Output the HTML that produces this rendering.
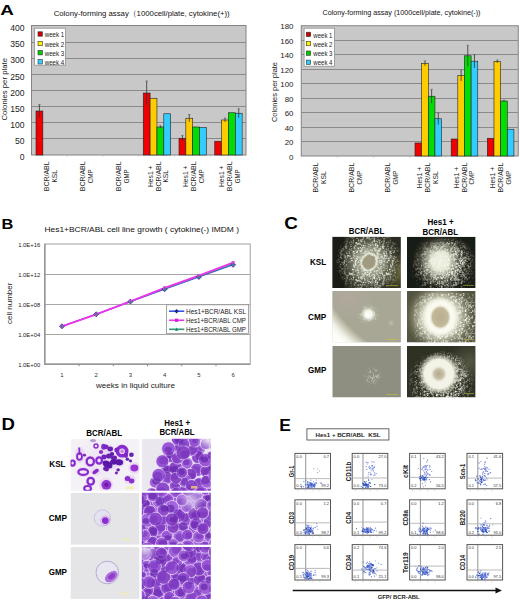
<!DOCTYPE html>
<html><head><meta charset="utf-8"><style>
html,body{margin:0;padding:0;background:#fff;}
svg{display:block;font-family:"Liberation Sans", sans-serif;}
</style></head><body>
<svg width="520" height="601" viewBox="0 0 520 601">
<rect width="520" height="601" fill="#fff"/>
<text x="0.30" y="15.48" font-size="15.5" text-anchor="start" fill="#000" font-weight="bold" textLength="13.6" lengthAdjust="spacingAndGlyphs">A</text>
<rect x="31.50" y="25.50" width="214.50" height="129.50" fill="#c8c8c8" stroke="#848484" stroke-width="1"/>
<line x1="31.50" y1="138.50" x2="246.00" y2="138.50" stroke="#8a8a8a" stroke-width="1"/>
<line x1="31.50" y1="122.50" x2="246.00" y2="122.50" stroke="#8a8a8a" stroke-width="1"/>
<line x1="31.50" y1="106.50" x2="246.00" y2="106.50" stroke="#8a8a8a" stroke-width="1"/>
<line x1="31.50" y1="90.50" x2="246.00" y2="90.50" stroke="#8a8a8a" stroke-width="1"/>
<line x1="31.50" y1="74.50" x2="246.00" y2="74.50" stroke="#8a8a8a" stroke-width="1"/>
<line x1="31.50" y1="58.50" x2="246.00" y2="58.50" stroke="#8a8a8a" stroke-width="1"/>
<line x1="31.50" y1="42.50" x2="246.00" y2="42.50" stroke="#8a8a8a" stroke-width="1"/>
<text x="24.50" y="160.00" font-size="8.6" text-anchor="end" fill="#222">0</text>
<text x="24.50" y="143.90" font-size="8.6" text-anchor="end" fill="#222">50</text>
<text x="24.50" y="127.80" font-size="8.6" text-anchor="end" fill="#222">100</text>
<text x="24.50" y="111.70" font-size="8.6" text-anchor="end" fill="#222">150</text>
<text x="24.50" y="95.60" font-size="8.6" text-anchor="end" fill="#222">200</text>
<text x="24.50" y="79.50" font-size="8.6" text-anchor="end" fill="#222">250</text>
<text x="24.50" y="63.40" font-size="8.6" text-anchor="end" fill="#222">300</text>
<text x="24.50" y="47.30" font-size="8.6" text-anchor="end" fill="#222">350</text>
<text x="24.50" y="31.20" font-size="8.6" text-anchor="end" fill="#222">400</text>
<rect x="36.00" y="111.01" width="6.85" height="43.99" fill="#f00000" stroke="#222" stroke-width="0.6"/>
<line x1="39.42" y1="117.45" x2="39.42" y2="104.57" stroke="#333" stroke-width="0.8"/>
<line x1="38.22" y1="104.57" x2="40.62" y2="104.57" stroke="#555" stroke-width="0.6"/>
<rect x="143.25" y="93.02" width="6.85" height="61.98" fill="#f00000" stroke="#222" stroke-width="0.6"/>
<line x1="146.68" y1="105.03" x2="146.68" y2="81.00" stroke="#333" stroke-width="0.8"/>
<line x1="145.48" y1="81.00" x2="147.88" y2="81.00" stroke="#555" stroke-width="0.6"/>
<rect x="150.10" y="98.26" width="6.85" height="56.74" fill="#ffcc00" stroke="#222" stroke-width="0.6"/>
<rect x="156.95" y="126.99" width="6.85" height="28.01" fill="#00dd00" stroke="#222" stroke-width="0.6"/>
<line x1="160.38" y1="128.27" x2="160.38" y2="125.70" stroke="#333" stroke-width="0.8"/>
<line x1="159.18" y1="125.70" x2="161.57" y2="125.70" stroke="#555" stroke-width="0.6"/>
<rect x="163.80" y="113.75" width="6.85" height="41.25" fill="#33ccff" stroke="#222" stroke-width="0.6"/>
<rect x="179.00" y="138.26" width="6.85" height="16.74" fill="#f00000" stroke="#222" stroke-width="0.6"/>
<line x1="182.43" y1="141.03" x2="182.43" y2="135.49" stroke="#333" stroke-width="0.8"/>
<line x1="181.23" y1="135.49" x2="183.62" y2="135.49" stroke="#555" stroke-width="0.6"/>
<rect x="185.85" y="118.26" width="6.85" height="36.74" fill="#ffcc00" stroke="#222" stroke-width="0.6"/>
<line x1="189.28" y1="122.03" x2="189.28" y2="114.49" stroke="#333" stroke-width="0.8"/>
<line x1="188.08" y1="114.49" x2="190.47" y2="114.49" stroke="#555" stroke-width="0.6"/>
<rect x="192.70" y="126.99" width="6.85" height="28.01" fill="#00dd00" stroke="#222" stroke-width="0.6"/>
<rect x="199.55" y="127.50" width="6.85" height="27.50" fill="#33ccff" stroke="#222" stroke-width="0.6"/>
<rect x="214.75" y="141.25" width="6.85" height="13.75" fill="#f00000" stroke="#222" stroke-width="0.6"/>
<rect x="221.60" y="120.00" width="6.85" height="35.00" fill="#ffcc00" stroke="#222" stroke-width="0.6"/>
<line x1="225.03" y1="122.00" x2="225.03" y2="118.00" stroke="#333" stroke-width="0.8"/>
<line x1="223.83" y1="118.00" x2="226.22" y2="118.00" stroke="#555" stroke-width="0.6"/>
<rect x="228.45" y="112.75" width="6.85" height="42.25" fill="#00dd00" stroke="#222" stroke-width="0.6"/>
<rect x="235.30" y="113.24" width="6.85" height="41.76" fill="#33ccff" stroke="#222" stroke-width="0.6"/>
<line x1="238.73" y1="117.71" x2="238.73" y2="108.76" stroke="#333" stroke-width="0.8"/>
<line x1="237.53" y1="108.76" x2="239.93" y2="108.76" stroke="#555" stroke-width="0.6"/>
<line x1="67.25" y1="155.00" x2="67.25" y2="156.50" stroke="#b0b0b0" stroke-width="0.8"/>
<line x1="103.00" y1="155.00" x2="103.00" y2="156.50" stroke="#b0b0b0" stroke-width="0.8"/>
<line x1="138.75" y1="155.00" x2="138.75" y2="156.50" stroke="#b0b0b0" stroke-width="0.8"/>
<line x1="174.50" y1="155.00" x2="174.50" y2="156.50" stroke="#b0b0b0" stroke-width="0.8"/>
<line x1="210.25" y1="155.00" x2="210.25" y2="156.50" stroke="#b0b0b0" stroke-width="0.8"/>
<rect x="34.60" y="28.20" width="30.80" height="37.00" fill="#ffffff" stroke="#909090" stroke-width="0.8"/>
<rect x="38.00" y="31.80" width="4.40" height="4.40" fill="#cc0000" stroke="#333" stroke-width="0.6"/>
<text x="44.70" y="37.12" font-size="7" text-anchor="start" fill="#222" textLength="19.5" lengthAdjust="spacingAndGlyphs">week 1</text>
<rect x="38.00" y="41.30" width="4.40" height="4.40" fill="#ffee00" stroke="#333" stroke-width="0.6"/>
<text x="44.70" y="46.62" font-size="7" text-anchor="start" fill="#222" textLength="19.5" lengthAdjust="spacingAndGlyphs">week 2</text>
<rect x="38.00" y="50.50" width="4.40" height="4.40" fill="#00cc00" stroke="#333" stroke-width="0.6"/>
<text x="44.70" y="55.82" font-size="7" text-anchor="start" fill="#222" textLength="19.5" lengthAdjust="spacingAndGlyphs">week 3</text>
<rect x="38.00" y="59.60" width="4.40" height="4.40" fill="#33ccff" stroke="#333" stroke-width="0.6"/>
<text x="44.70" y="64.92" font-size="7" text-anchor="start" fill="#222" textLength="19.5" lengthAdjust="spacingAndGlyphs">week 4</text>
<text x="53.70" y="15.78" font-size="8" text-anchor="start" fill="#111" textLength="176" lengthAdjust="spacingAndGlyphs">Colony-forming assay（1000cell/plate, cytokine(+))</text>
<text x="4.80" y="91.89" font-size="7.2" text-anchor="middle" fill="#222" textLength="62.5" lengthAdjust="spacingAndGlyphs" transform="rotate(-90 4.80 89.30)">Colonies per plate</text>
<text x="47.02" y="178.68" font-size="6.6" text-anchor="middle" fill="#222" textLength="29.9" lengthAdjust="spacingAndGlyphs" transform="rotate(-90 47.02 176.30)">BCR/ABL</text>
<text x="54.93" y="178.68" font-size="6.6" text-anchor="middle" fill="#222" textLength="12.6" lengthAdjust="spacingAndGlyphs" transform="rotate(-90 54.93 176.30)">KSL</text>
<text x="82.77" y="178.68" font-size="6.6" text-anchor="middle" fill="#222" textLength="29.9" lengthAdjust="spacingAndGlyphs" transform="rotate(-90 82.77 176.30)">BCR/ABL</text>
<text x="90.67" y="178.68" font-size="6.6" text-anchor="middle" fill="#222" textLength="14.0" lengthAdjust="spacingAndGlyphs" transform="rotate(-90 90.67 176.30)">CMP</text>
<text x="118.52" y="178.68" font-size="6.6" text-anchor="middle" fill="#222" textLength="29.9" lengthAdjust="spacingAndGlyphs" transform="rotate(-90 118.52 176.30)">BCR/ABL</text>
<text x="126.42" y="178.68" font-size="6.6" text-anchor="middle" fill="#222" textLength="14.0" lengthAdjust="spacingAndGlyphs" transform="rotate(-90 126.42 176.30)">GMP</text>
<text x="150.32" y="178.68" font-size="6.6" text-anchor="middle" fill="#222" textLength="21.4" lengthAdjust="spacingAndGlyphs" transform="rotate(-90 150.32 176.30)">Hes1 +</text>
<text x="158.22" y="178.68" font-size="6.6" text-anchor="middle" fill="#222" textLength="29.9" lengthAdjust="spacingAndGlyphs" transform="rotate(-90 158.22 176.30)">BCR/ABL</text>
<text x="166.12" y="178.68" font-size="6.6" text-anchor="middle" fill="#222" textLength="12.6" lengthAdjust="spacingAndGlyphs" transform="rotate(-90 166.12 176.30)">KSL</text>
<text x="186.07" y="178.68" font-size="6.6" text-anchor="middle" fill="#222" textLength="21.4" lengthAdjust="spacingAndGlyphs" transform="rotate(-90 186.07 176.30)">Hes1 +</text>
<text x="193.97" y="178.68" font-size="6.6" text-anchor="middle" fill="#222" textLength="29.9" lengthAdjust="spacingAndGlyphs" transform="rotate(-90 193.97 176.30)">BCR/ABL</text>
<text x="201.88" y="178.68" font-size="6.6" text-anchor="middle" fill="#222" textLength="14.0" lengthAdjust="spacingAndGlyphs" transform="rotate(-90 201.88 176.30)">CMP</text>
<text x="221.82" y="178.68" font-size="6.6" text-anchor="middle" fill="#222" textLength="21.4" lengthAdjust="spacingAndGlyphs" transform="rotate(-90 221.82 176.30)">Hes1 +</text>
<text x="229.72" y="178.68" font-size="6.6" text-anchor="middle" fill="#222" textLength="29.9" lengthAdjust="spacingAndGlyphs" transform="rotate(-90 229.72 176.30)">BCR/ABL</text>
<text x="237.62" y="178.68" font-size="6.6" text-anchor="middle" fill="#222" textLength="14.0" lengthAdjust="spacingAndGlyphs" transform="rotate(-90 237.62 176.30)">GMP</text>
<rect x="301.25" y="25.75" width="217.00" height="130.25" fill="#c8c8c8" stroke="#848484" stroke-width="1"/>
<line x1="301.25" y1="141.50" x2="518.25" y2="141.50" stroke="#8a8a8a" stroke-width="1"/>
<line x1="301.25" y1="127.50" x2="518.25" y2="127.50" stroke="#8a8a8a" stroke-width="1"/>
<line x1="301.25" y1="112.50" x2="518.25" y2="112.50" stroke="#8a8a8a" stroke-width="1"/>
<line x1="301.25" y1="98.50" x2="518.25" y2="98.50" stroke="#8a8a8a" stroke-width="1"/>
<line x1="301.25" y1="83.50" x2="518.25" y2="83.50" stroke="#8a8a8a" stroke-width="1"/>
<line x1="301.25" y1="69.50" x2="518.25" y2="69.50" stroke="#8a8a8a" stroke-width="1"/>
<line x1="301.25" y1="54.50" x2="518.25" y2="54.50" stroke="#8a8a8a" stroke-width="1"/>
<line x1="301.25" y1="40.50" x2="518.25" y2="40.50" stroke="#8a8a8a" stroke-width="1"/>
<text x="293.50" y="159.64" font-size="7.9" text-anchor="end" fill="#222">0</text>
<text x="293.50" y="145.17" font-size="7.9" text-anchor="end" fill="#222">20</text>
<text x="293.50" y="130.70" font-size="7.9" text-anchor="end" fill="#222">40</text>
<text x="293.50" y="116.23" font-size="7.9" text-anchor="end" fill="#222">60</text>
<text x="293.50" y="101.76" font-size="7.9" text-anchor="end" fill="#222">80</text>
<text x="293.50" y="87.28" font-size="7.9" text-anchor="end" fill="#222">100</text>
<text x="293.50" y="72.81" font-size="7.9" text-anchor="end" fill="#222">120</text>
<text x="293.50" y="58.34" font-size="7.9" text-anchor="end" fill="#222">140</text>
<text x="293.50" y="43.87" font-size="7.9" text-anchor="end" fill="#222">160</text>
<text x="293.50" y="29.39" font-size="7.9" text-anchor="end" fill="#222">180</text>
<rect x="415.00" y="142.97" width="6.65" height="13.03" fill="#f00000" stroke="#222" stroke-width="0.6"/>
<rect x="421.65" y="63.38" width="6.65" height="92.62" fill="#ffcc00" stroke="#222" stroke-width="0.6"/>
<line x1="424.97" y1="65.84" x2="424.97" y2="60.92" stroke="#333" stroke-width="0.8"/>
<line x1="423.77" y1="60.92" x2="426.17" y2="60.92" stroke="#555" stroke-width="0.6"/>
<rect x="428.30" y="96.23" width="6.65" height="59.77" fill="#00dd00" stroke="#222" stroke-width="0.6"/>
<line x1="431.62" y1="103.10" x2="431.62" y2="89.36" stroke="#333" stroke-width="0.8"/>
<line x1="430.43" y1="89.36" x2="432.82" y2="89.36" stroke="#555" stroke-width="0.6"/>
<rect x="434.95" y="118.73" width="6.65" height="37.27" fill="#33ccff" stroke="#222" stroke-width="0.6"/>
<line x1="438.27" y1="124.52" x2="438.27" y2="112.95" stroke="#333" stroke-width="0.8"/>
<line x1="437.07" y1="112.95" x2="439.47" y2="112.95" stroke="#555" stroke-width="0.6"/>
<rect x="451.17" y="139.00" width="6.65" height="17.00" fill="#f00000" stroke="#222" stroke-width="0.6"/>
<rect x="457.82" y="75.68" width="6.65" height="80.32" fill="#ffcc00" stroke="#222" stroke-width="0.6"/>
<line x1="461.14" y1="81.18" x2="461.14" y2="70.18" stroke="#333" stroke-width="0.8"/>
<line x1="459.94" y1="70.18" x2="462.34" y2="70.18" stroke="#555" stroke-width="0.6"/>
<rect x="464.47" y="55.78" width="6.65" height="100.22" fill="#00dd00" stroke="#222" stroke-width="0.6"/>
<line x1="467.79" y1="66.20" x2="467.79" y2="45.36" stroke="#333" stroke-width="0.8"/>
<line x1="466.59" y1="45.36" x2="468.99" y2="45.36" stroke="#555" stroke-width="0.6"/>
<rect x="471.12" y="61.21" width="6.65" height="94.79" fill="#33ccff" stroke="#222" stroke-width="0.6"/>
<line x1="474.44" y1="67.72" x2="474.44" y2="54.69" stroke="#333" stroke-width="0.8"/>
<line x1="473.24" y1="54.69" x2="475.64" y2="54.69" stroke="#555" stroke-width="0.6"/>
<rect x="487.33" y="138.27" width="6.65" height="17.73" fill="#f00000" stroke="#222" stroke-width="0.6"/>
<rect x="493.98" y="61.50" width="6.65" height="94.50" fill="#ffcc00" stroke="#222" stroke-width="0.6"/>
<line x1="497.31" y1="62.94" x2="497.31" y2="60.05" stroke="#333" stroke-width="0.8"/>
<line x1="496.11" y1="60.05" x2="498.51" y2="60.05" stroke="#555" stroke-width="0.6"/>
<rect x="500.63" y="101.01" width="6.65" height="54.99" fill="#00dd00" stroke="#222" stroke-width="0.6"/>
<line x1="503.96" y1="101.73" x2="503.96" y2="100.28" stroke="#333" stroke-width="0.8"/>
<line x1="502.76" y1="100.28" x2="505.16" y2="100.28" stroke="#555" stroke-width="0.6"/>
<rect x="507.28" y="129.23" width="6.65" height="26.77" fill="#33ccff" stroke="#222" stroke-width="0.6"/>
<line x1="337.42" y1="156.00" x2="337.42" y2="157.50" stroke="#b0b0b0" stroke-width="0.8"/>
<line x1="373.58" y1="156.00" x2="373.58" y2="157.50" stroke="#b0b0b0" stroke-width="0.8"/>
<line x1="409.75" y1="156.00" x2="409.75" y2="157.50" stroke="#b0b0b0" stroke-width="0.8"/>
<line x1="445.92" y1="156.00" x2="445.92" y2="157.50" stroke="#b0b0b0" stroke-width="0.8"/>
<line x1="482.08" y1="156.00" x2="482.08" y2="157.50" stroke="#b0b0b0" stroke-width="0.8"/>
<rect x="304.10" y="28.20" width="30.30" height="38.00" fill="#ffffff" stroke="#909090" stroke-width="0.8"/>
<rect x="306.30" y="32.20" width="4.40" height="4.40" fill="#cc0000" stroke="#333" stroke-width="0.6"/>
<text x="313.30" y="37.52" font-size="7" text-anchor="start" fill="#222" textLength="19.2" lengthAdjust="spacingAndGlyphs">week 1</text>
<rect x="306.30" y="41.40" width="4.40" height="4.40" fill="#ffee00" stroke="#333" stroke-width="0.6"/>
<text x="313.30" y="46.72" font-size="7" text-anchor="start" fill="#222" textLength="19.2" lengthAdjust="spacingAndGlyphs">week 2</text>
<rect x="306.30" y="51.00" width="4.40" height="4.40" fill="#00cc00" stroke="#333" stroke-width="0.6"/>
<text x="313.30" y="56.32" font-size="7" text-anchor="start" fill="#222" textLength="19.2" lengthAdjust="spacingAndGlyphs">week 3</text>
<rect x="306.30" y="60.10" width="4.40" height="4.40" fill="#33ccff" stroke="#333" stroke-width="0.6"/>
<text x="313.30" y="65.42" font-size="7" text-anchor="start" fill="#222" textLength="19.2" lengthAdjust="spacingAndGlyphs">week 4</text>
<text x="322.50" y="14.88" font-size="8" text-anchor="start" fill="#111" textLength="158" lengthAdjust="spacingAndGlyphs">Colony-forming assay (1000cell/plate, cytokine(-))</text>
<text x="274.60" y="94.59" font-size="7.2" text-anchor="middle" fill="#222" textLength="60" lengthAdjust="spacingAndGlyphs" transform="rotate(-90 274.60 92.00)">Colonies per plate</text>
<text x="315.58" y="179.98" font-size="6.6" text-anchor="middle" fill="#222" textLength="29.9" lengthAdjust="spacingAndGlyphs" transform="rotate(-90 315.58 177.60)">BCR/ABL</text>
<text x="323.48" y="179.98" font-size="6.6" text-anchor="middle" fill="#222" textLength="12.6" lengthAdjust="spacingAndGlyphs" transform="rotate(-90 323.48 177.60)">KSL</text>
<text x="351.75" y="179.98" font-size="6.6" text-anchor="middle" fill="#222" textLength="29.9" lengthAdjust="spacingAndGlyphs" transform="rotate(-90 351.75 177.60)">BCR/ABL</text>
<text x="359.65" y="179.98" font-size="6.6" text-anchor="middle" fill="#222" textLength="14.0" lengthAdjust="spacingAndGlyphs" transform="rotate(-90 359.65 177.60)">CMP</text>
<text x="387.92" y="179.98" font-size="6.6" text-anchor="middle" fill="#222" textLength="29.9" lengthAdjust="spacingAndGlyphs" transform="rotate(-90 387.92 177.60)">BCR/ABL</text>
<text x="395.82" y="179.98" font-size="6.6" text-anchor="middle" fill="#222" textLength="14.0" lengthAdjust="spacingAndGlyphs" transform="rotate(-90 395.82 177.60)">GMP</text>
<text x="420.13" y="179.98" font-size="6.6" text-anchor="middle" fill="#222" textLength="21.4" lengthAdjust="spacingAndGlyphs" transform="rotate(-90 420.13 177.60)">Hes1 +</text>
<text x="428.03" y="179.98" font-size="6.6" text-anchor="middle" fill="#222" textLength="29.9" lengthAdjust="spacingAndGlyphs" transform="rotate(-90 428.03 177.60)">BCR/ABL</text>
<text x="435.93" y="179.98" font-size="6.6" text-anchor="middle" fill="#222" textLength="12.6" lengthAdjust="spacingAndGlyphs" transform="rotate(-90 435.93 177.60)">KSL</text>
<text x="456.30" y="179.98" font-size="6.6" text-anchor="middle" fill="#222" textLength="21.4" lengthAdjust="spacingAndGlyphs" transform="rotate(-90 456.30 177.60)">Hes1 +</text>
<text x="464.20" y="179.98" font-size="6.6" text-anchor="middle" fill="#222" textLength="29.9" lengthAdjust="spacingAndGlyphs" transform="rotate(-90 464.20 177.60)">BCR/ABL</text>
<text x="472.10" y="179.98" font-size="6.6" text-anchor="middle" fill="#222" textLength="14.0" lengthAdjust="spacingAndGlyphs" transform="rotate(-90 472.10 177.60)">CMP</text>
<text x="492.47" y="179.98" font-size="6.6" text-anchor="middle" fill="#222" textLength="21.4" lengthAdjust="spacingAndGlyphs" transform="rotate(-90 492.47 177.60)">Hes1 +</text>
<text x="500.37" y="179.98" font-size="6.6" text-anchor="middle" fill="#222" textLength="29.9" lengthAdjust="spacingAndGlyphs" transform="rotate(-90 500.37 177.60)">BCR/ABL</text>
<text x="508.27" y="179.98" font-size="6.6" text-anchor="middle" fill="#222" textLength="14.0" lengthAdjust="spacingAndGlyphs" transform="rotate(-90 508.27 177.60)">GMP</text>
<text x="1.40" y="229.20" font-size="15" text-anchor="start" fill="#000" font-weight="bold" textLength="11.8" lengthAdjust="spacingAndGlyphs">B</text>
<text x="44.50" y="231.88" font-size="8" text-anchor="start" fill="#111" textLength="194.5" lengthAdjust="spacingAndGlyphs">Hes1+BCR/ABL cell line growth ( cytokine(-) IMDM )</text>
<rect x="44.85" y="244.00" width="205.35" height="120.20" fill="#ffffff" stroke="#a0a0a0" stroke-width="1"/>
<line x1="44.85" y1="334.50" x2="250.20" y2="334.50" stroke="#a8a8a8" stroke-width="1"/>
<line x1="44.85" y1="304.50" x2="250.20" y2="304.50" stroke="#a8a8a8" stroke-width="1"/>
<line x1="44.85" y1="274.50" x2="250.20" y2="274.50" stroke="#a8a8a8" stroke-width="1"/>
<line x1="44.85" y1="244.00" x2="44.85" y2="364.70" stroke="#8a8a8a" stroke-width="1.2"/>
<line x1="44.35" y1="364.20" x2="250.20" y2="364.20" stroke="#8a8a8a" stroke-width="1.2"/>
<text x="40.20" y="367.02" font-size="5.6" text-anchor="end" fill="#222" textLength="22" lengthAdjust="spacingAndGlyphs">1.0E+00</text>
<text x="40.20" y="336.97" font-size="5.6" text-anchor="end" fill="#222" textLength="22" lengthAdjust="spacingAndGlyphs">1.0E+04</text>
<text x="40.20" y="306.92" font-size="5.6" text-anchor="end" fill="#222" textLength="22" lengthAdjust="spacingAndGlyphs">1.0E+08</text>
<text x="40.20" y="276.87" font-size="5.6" text-anchor="end" fill="#222" textLength="22" lengthAdjust="spacingAndGlyphs">1.0E+12</text>
<text x="40.20" y="246.82" font-size="5.6" text-anchor="end" fill="#222" textLength="22" lengthAdjust="spacingAndGlyphs">1.0E+16</text>
<line x1="79.08" y1="364.20" x2="79.08" y2="366.20" stroke="#8a8a8a" stroke-width="1"/>
<line x1="113.30" y1="364.20" x2="113.30" y2="366.20" stroke="#8a8a8a" stroke-width="1"/>
<line x1="147.53" y1="364.20" x2="147.53" y2="366.20" stroke="#8a8a8a" stroke-width="1"/>
<line x1="181.75" y1="364.20" x2="181.75" y2="366.20" stroke="#8a8a8a" stroke-width="1"/>
<line x1="215.97" y1="364.20" x2="215.97" y2="366.20" stroke="#8a8a8a" stroke-width="1"/>
<text x="61.96" y="376.56" font-size="6.0" text-anchor="middle" fill="#333">1</text>
<text x="96.19" y="376.56" font-size="6.0" text-anchor="middle" fill="#333">2</text>
<text x="130.41" y="376.56" font-size="6.0" text-anchor="middle" fill="#333">3</text>
<text x="164.64" y="376.56" font-size="6.0" text-anchor="middle" fill="#333">4</text>
<text x="198.86" y="376.56" font-size="6.0" text-anchor="middle" fill="#333">5</text>
<text x="233.09" y="376.56" font-size="6.0" text-anchor="middle" fill="#333">6</text>
<text x="96.00" y="388.08" font-size="8" text-anchor="start" fill="#222" textLength="79" lengthAdjust="spacingAndGlyphs">weeks in liquid culture</text>
<text x="9.30" y="306.04" font-size="7.6" text-anchor="middle" fill="#222" textLength="41.3" lengthAdjust="spacingAndGlyphs" transform="rotate(-90 9.30 303.30)">cell number</text>
<polyline points="61.96,326.30 96.19,314.30 130.41,301.60 164.64,289.20 198.86,277.00 233.09,264.80" fill="none" stroke="#3355ee" stroke-width="1.2"/>
<polyline points="61.96,326.30 96.19,314.30 130.41,301.60 164.64,288.80 198.86,276.60 233.09,264.00" fill="none" stroke="#2f8a70" stroke-width="1.1"/>
<polyline points="61.96,326.30 96.19,314.30 130.41,301.40 164.64,287.90 198.86,275.60 233.09,262.60" fill="none" stroke="#ee33ee" stroke-width="1.8"/>
<path d="M61.96,323.80 L64.46,326.30 L61.96,328.80 L59.46,326.30Z" fill="#6a6ad8" stroke="#3a2a90" stroke-width="0.8"/>
<path d="M96.19,311.80 L98.69,314.30 L96.19,316.80 L93.69,314.30Z" fill="#6a6ad8" stroke="#3a2a90" stroke-width="0.8"/>
<path d="M130.41,299.10 L132.91,301.60 L130.41,304.10 L127.91,301.60Z" fill="#6a6ad8" stroke="#3a2a90" stroke-width="0.8"/>
<path d="M164.64,286.70 L167.14,289.20 L164.64,291.70 L162.14,289.20Z" fill="#6a6ad8" stroke="#3a2a90" stroke-width="0.8"/>
<path d="M198.86,274.50 L201.36,277.00 L198.86,279.50 L196.36,277.00Z" fill="#6a6ad8" stroke="#3a2a90" stroke-width="0.8"/>
<path d="M233.09,262.30 L235.59,264.80 L233.09,267.30 L230.59,264.80Z" fill="#6a6ad8" stroke="#3a2a90" stroke-width="0.8"/>
<rect x="60.46" y="324.80" width="3.00" height="3.00" fill="#dd44dd"/>
<rect x="94.69" y="312.80" width="3.00" height="3.00" fill="#dd44dd"/>
<rect x="128.91" y="299.90" width="3.00" height="3.00" fill="#dd44dd"/>
<rect x="163.14" y="286.40" width="3.00" height="3.00" fill="#dd44dd"/>
<rect x="197.36" y="274.10" width="3.00" height="3.00" fill="#dd44dd"/>
<rect x="231.59" y="261.10" width="3.00" height="3.00" fill="#dd44dd"/>
<path d="M60.46,327.50 L61.96,324.80 L63.46,327.50Z" fill="#2a8a6a"/>
<path d="M94.69,315.50 L96.19,312.80 L97.69,315.50Z" fill="#2a8a6a"/>
<path d="M128.91,302.80 L130.41,300.10 L131.91,302.80Z" fill="#2a8a6a"/>
<path d="M163.14,290.00 L164.64,287.30 L166.14,290.00Z" fill="#2a8a6a"/>
<path d="M197.36,277.80 L198.86,275.10 L200.36,277.80Z" fill="#2a8a6a"/>
<path d="M231.59,265.20 L233.09,262.50 L234.59,265.20Z" fill="#2a8a6a"/>
<rect x="166.50" y="304.80" width="82.00" height="28.80" fill="#ffffff" stroke="#909090" stroke-width="0.8"/>
<line x1="169.00" y1="311.20" x2="184.30" y2="311.20" stroke="#3355ee" stroke-width="1.6"/>
<path d="M176.60,309.00 L178.80,311.20 L176.60,313.40 L174.40,311.20Z" fill="#1a2a80"/>
<text x="186.00" y="313.58" font-size="6.6" text-anchor="start" fill="#222" textLength="60" lengthAdjust="spacingAndGlyphs">Hes1+BCR/ABL KSL</text>
<line x1="169.00" y1="320.25" x2="184.30" y2="320.25" stroke="#ee33ee" stroke-width="1.6"/>
<rect x="175.00" y="318.65" width="3.20" height="3.20" fill="#cc22cc"/>
<text x="186.00" y="322.63" font-size="6.6" text-anchor="start" fill="#222" textLength="60" lengthAdjust="spacingAndGlyphs">Hes1+BCR/ABL CMP</text>
<line x1="169.00" y1="329.30" x2="184.30" y2="329.30" stroke="#339977" stroke-width="1.6"/>
<path d="M174.90,330.70 L176.60,327.60 L178.30,330.70Z" fill="#1a8866"/>
<text x="186.00" y="331.68" font-size="6.6" text-anchor="start" fill="#222" textLength="60" lengthAdjust="spacingAndGlyphs">Hes1+BCR/ABL GMP</text>
<filter id="bl" x="-5%" y="-5%" width="110%" height="110%"><feGaussianBlur stdDeviation="0.45"/></filter>
<pattern id="pw" width="37" height="37" patternUnits="userSpaceOnUse"><path d="M24.2 22.8m-0.4 0a0.4 0.4 0 1 0 0.8 0a0.4 0.4 0 1 0 -0.8 0M30.8 2.3m-0.4 0a0.4 0.4 0 1 0 0.7 0a0.4 0.4 0 1 0 -0.7 0M9.4 28.0m-0.6 0a0.6 0.6 0 1 0 1.1 0a0.6 0.6 0 1 0 -1.1 0M14.3 35.4m-0.7 0a0.7 0.7 0 1 0 1.4 0a0.7 0.7 0 1 0 -1.4 0M12.3 35.7m-0.7 0a0.7 0.7 0 1 0 1.3 0a0.7 0.7 0 1 0 -1.3 0M23.8 4.3m-0.5 0a0.5 0.5 0 1 0 1.0 0a0.5 0.5 0 1 0 -1.0 0M36.8 22.3m-0.6 0a0.6 0.6 0 1 0 1.2 0a0.6 0.6 0 1 0 -1.2 0M12.2 11.0m-0.4 0a0.4 0.4 0 1 0 0.8 0a0.4 0.4 0 1 0 -0.8 0M5.7 33.6m-0.7 0a0.7 0.7 0 1 0 1.4 0a0.7 0.7 0 1 0 -1.4 0M6.5 26.7m-0.4 0a0.4 0.4 0 1 0 0.8 0a0.4 0.4 0 1 0 -0.8 0M17.7 24.2m-0.6 0a0.6 0.6 0 1 0 1.2 0a0.6 0.6 0 1 0 -1.2 0M10.4 33.9m-0.4 0a0.4 0.4 0 1 0 0.9 0a0.4 0.4 0 1 0 -0.9 0M2.6 15.2m-0.4 0a0.4 0.4 0 1 0 0.9 0a0.4 0.4 0 1 0 -0.9 0M6.5 13.6m-0.6 0a0.6 0.6 0 1 0 1.2 0a0.6 0.6 0 1 0 -1.2 0M24.3 25.6m-0.6 0a0.6 0.6 0 1 0 1.2 0a0.6 0.6 0 1 0 -1.2 0M2.8 2.5m-0.5 0a0.5 0.5 0 1 0 0.9 0a0.5 0.5 0 1 0 -0.9 0M1.6 34.6m-0.6 0a0.6 0.6 0 1 0 1.3 0a0.6 0.6 0 1 0 -1.3 0M17.5 2.9m-0.7 0a0.7 0.7 0 1 0 1.4 0a0.7 0.7 0 1 0 -1.4 0M14.0 0.5m-0.4 0a0.4 0.4 0 1 0 0.8 0a0.4 0.4 0 1 0 -0.8 0M1.1 22.2m-0.5 0a0.5 0.5 0 1 0 1.1 0a0.5 0.5 0 1 0 -1.1 0M15.0 9.3m-0.6 0a0.6 0.6 0 1 0 1.2 0a0.6 0.6 0 1 0 -1.2 0M7.8 5.0m-0.5 0a0.5 0.5 0 1 0 1.0 0a0.5 0.5 0 1 0 -1.0 0M26.3 35.2m-0.5 0a0.5 0.5 0 1 0 0.9 0a0.5 0.5 0 1 0 -0.9 0M31.0 36.3m-0.5 0a0.5 0.5 0 1 0 1.1 0a0.5 0.5 0 1 0 -1.1 0M0.7 5.0m-0.5 0a0.5 0.5 0 1 0 1.1 0a0.5 0.5 0 1 0 -1.1 0M28.5 9.9m-0.7 0a0.7 0.7 0 1 0 1.3 0a0.7 0.7 0 1 0 -1.3 0M0.4 17.5m-0.6 0a0.6 0.6 0 1 0 1.3 0a0.6 0.6 0 1 0 -1.3 0M14.4 16.7m-0.4 0a0.4 0.4 0 1 0 0.9 0a0.4 0.4 0 1 0 -0.9 0M32.0 29.5m-0.7 0a0.7 0.7 0 1 0 1.4 0a0.7 0.7 0 1 0 -1.4 0M12.7 15.6m-0.5 0a0.5 0.5 0 1 0 0.9 0a0.5 0.5 0 1 0 -0.9 0M8.1 32.1m-0.5 0a0.5 0.5 0 1 0 1.0 0a0.5 0.5 0 1 0 -1.0 0M6.4 12.4m-0.7 0a0.7 0.7 0 1 0 1.3 0a0.7 0.7 0 1 0 -1.3 0M10.1 18.4m-0.5 0a0.5 0.5 0 1 0 1.0 0a0.5 0.5 0 1 0 -1.0 0M18.6 22.4m-0.4 0a0.4 0.4 0 1 0 0.7 0a0.4 0.4 0 1 0 -0.7 0M4.8 28.8m-0.4 0a0.4 0.4 0 1 0 0.7 0a0.4 0.4 0 1 0 -0.7 0M8.0 20.1m-0.6 0a0.6 0.6 0 1 0 1.2 0a0.6 0.6 0 1 0 -1.2 0M8.6 27.4m-0.7 0a0.7 0.7 0 1 0 1.3 0a0.7 0.7 0 1 0 -1.3 0M11.7 11.7m-0.7 0a0.7 0.7 0 1 0 1.4 0a0.7 0.7 0 1 0 -1.4 0M28.8 7.2m-0.4 0a0.4 0.4 0 1 0 0.8 0a0.4 0.4 0 1 0 -0.8 0M30.8 15.6m-0.7 0a0.7 0.7 0 1 0 1.3 0a0.7 0.7 0 1 0 -1.3 0M7.4 23.2m-0.7 0a0.7 0.7 0 1 0 1.3 0a0.7 0.7 0 1 0 -1.3 0M33.5 17.8m-0.4 0a0.4 0.4 0 1 0 0.9 0a0.4 0.4 0 1 0 -0.9 0M19.1 15.9m-0.6 0a0.6 0.6 0 1 0 1.2 0a0.6 0.6 0 1 0 -1.2 0M16.8 27.4m-0.5 0a0.5 0.5 0 1 0 1.0 0a0.5 0.5 0 1 0 -1.0 0M36.4 29.8m-0.5 0a0.5 0.5 0 1 0 0.9 0a0.5 0.5 0 1 0 -0.9 0M6.8 29.5m-0.5 0a0.5 0.5 0 1 0 0.9 0a0.5 0.5 0 1 0 -0.9 0M2.8 19.0m-0.5 0a0.5 0.5 0 1 0 1.1 0a0.5 0.5 0 1 0 -1.1 0M25.9 28.2m-0.7 0a0.7 0.7 0 1 0 1.5 0a0.7 0.7 0 1 0 -1.5 0M2.8 22.1m-0.7 0a0.7 0.7 0 1 0 1.3 0a0.7 0.7 0 1 0 -1.3 0M14.3 34.7m-0.5 0a0.5 0.5 0 1 0 1.0 0a0.5 0.5 0 1 0 -1.0 0M9.3 28.0m-0.4 0a0.4 0.4 0 1 0 0.7 0a0.4 0.4 0 1 0 -0.7 0M34.7 26.7m-0.5 0a0.5 0.5 0 1 0 1.1 0a0.5 0.5 0 1 0 -1.1 0M4.4 31.9m-0.5 0a0.5 0.5 0 1 0 1.0 0a0.5 0.5 0 1 0 -1.0 0M22.6 26.8m-0.6 0a0.6 0.6 0 1 0 1.3 0a0.6 0.6 0 1 0 -1.3 0M23.4 27.9m-0.4 0a0.4 0.4 0 1 0 0.9 0a0.4 0.4 0 1 0 -0.9 0M7.8 12.7m-0.6 0a0.6 0.6 0 1 0 1.3 0a0.6 0.6 0 1 0 -1.3 0M29.7 16.6m-0.7 0a0.7 0.7 0 1 0 1.4 0a0.7 0.7 0 1 0 -1.4 0M16.4 27.7m-0.5 0a0.5 0.5 0 1 0 1.0 0a0.5 0.5 0 1 0 -1.0 0M10.8 28.1m-0.7 0a0.7 0.7 0 1 0 1.4 0a0.7 0.7 0 1 0 -1.4 0M30.2 17.1m-0.7 0a0.7 0.7 0 1 0 1.4 0a0.7 0.7 0 1 0 -1.4 0M2.8 7.9m-0.6 0a0.6 0.6 0 1 0 1.2 0a0.6 0.6 0 1 0 -1.2 0M30.0 8.2m-0.4 0a0.4 0.4 0 1 0 0.7 0a0.4 0.4 0 1 0 -0.7 0M2.4 20.2m-0.7 0a0.7 0.7 0 1 0 1.3 0a0.7 0.7 0 1 0 -1.3 0M13.0 29.9m-0.5 0a0.5 0.5 0 1 0 1.0 0a0.5 0.5 0 1 0 -1.0 0M12.9 0.1m-0.5 0a0.5 0.5 0 1 0 1.0 0a0.5 0.5 0 1 0 -1.0 0M11.4 4.2m-0.6 0a0.6 0.6 0 1 0 1.2 0a0.6 0.6 0 1 0 -1.2 0M33.6 1.3m-0.4 0a0.4 0.4 0 1 0 0.8 0a0.4 0.4 0 1 0 -0.8 0M20.3 35.4m-0.5 0a0.5 0.5 0 1 0 1.1 0a0.5 0.5 0 1 0 -1.1 0M36.1 29.4m-0.7 0a0.7 0.7 0 1 0 1.3 0a0.7 0.7 0 1 0 -1.3 0M5.4 33.6m-0.7 0a0.7 0.7 0 1 0 1.3 0a0.7 0.7 0 1 0 -1.3 0M2.0 21.2m-0.4 0a0.4 0.4 0 1 0 0.8 0a0.4 0.4 0 1 0 -0.8 0M30.4 31.3m-0.7 0a0.7 0.7 0 1 0 1.4 0a0.7 0.7 0 1 0 -1.4 0M7.7 20.1m-0.6 0a0.6 0.6 0 1 0 1.1 0a0.6 0.6 0 1 0 -1.1 0M14.6 17.1m-0.7 0a0.7 0.7 0 1 0 1.5 0a0.7 0.7 0 1 0 -1.5 0M17.6 10.9m-0.4 0a0.4 0.4 0 1 0 0.8 0a0.4 0.4 0 1 0 -0.8 0M3.2 7.0m-0.5 0a0.5 0.5 0 1 0 1.0 0a0.5 0.5 0 1 0 -1.0 0M23.7 16.5m-0.5 0a0.5 0.5 0 1 0 1.0 0a0.5 0.5 0 1 0 -1.0 0M21.9 3.3m-0.4 0a0.4 0.4 0 1 0 0.9 0a0.4 0.4 0 1 0 -0.9 0M22.7 11.8m-0.7 0a0.7 0.7 0 1 0 1.3 0a0.7 0.7 0 1 0 -1.3 0M14.0 18.8m-0.7 0a0.7 0.7 0 1 0 1.3 0a0.7 0.7 0 1 0 -1.3 0M20.3 13.0m-0.6 0a0.6 0.6 0 1 0 1.1 0a0.6 0.6 0 1 0 -1.1 0M26.2 34.6m-0.6 0a0.6 0.6 0 1 0 1.2 0a0.6 0.6 0 1 0 -1.2 0M23.2 7.3m-0.4 0a0.4 0.4 0 1 0 0.8 0a0.4 0.4 0 1 0 -0.8 0M17.7 15.4m-0.5 0a0.5 0.5 0 1 0 1.0 0a0.5 0.5 0 1 0 -1.0 0M34.4 13.4m-0.5 0a0.5 0.5 0 1 0 1.1 0a0.5 0.5 0 1 0 -1.1 0M30.7 6.9m-0.6 0a0.6 0.6 0 1 0 1.1 0a0.6 0.6 0 1 0 -1.1 0M22.8 23.7m-0.7 0a0.7 0.7 0 1 0 1.3 0a0.7 0.7 0 1 0 -1.3 0M4.4 15.0m-0.5 0a0.5 0.5 0 1 0 1.0 0a0.5 0.5 0 1 0 -1.0 0M12.2 19.3m-0.5 0a0.5 0.5 0 1 0 1.0 0a0.5 0.5 0 1 0 -1.0 0M21.0 33.4m-0.4 0a0.4 0.4 0 1 0 0.8 0a0.4 0.4 0 1 0 -0.8 0M4.6 19.9m-0.7 0a0.7 0.7 0 1 0 1.5 0a0.7 0.7 0 1 0 -1.5 0M11.0 26.9m-0.4 0a0.4 0.4 0 1 0 0.7 0a0.4 0.4 0 1 0 -0.7 0M5.3 28.7m-0.7 0a0.7 0.7 0 1 0 1.3 0a0.7 0.7 0 1 0 -1.3 0M7.5 31.8m-0.6 0a0.6 0.6 0 1 0 1.3 0a0.6 0.6 0 1 0 -1.3 0M7.5 23.4m-0.4 0a0.4 0.4 0 1 0 0.9 0a0.4 0.4 0 1 0 -0.9 0M35.4 28.8m-0.5 0a0.5 0.5 0 1 0 1.0 0a0.5 0.5 0 1 0 -1.0 0M8.3 11.4m-0.6 0a0.6 0.6 0 1 0 1.3 0a0.6 0.6 0 1 0 -1.3 0M29.2 13.8m-0.6 0a0.6 0.6 0 1 0 1.2 0a0.6 0.6 0 1 0 -1.2 0M21.8 8.5m-0.5 0a0.5 0.5 0 1 0 0.9 0a0.5 0.5 0 1 0 -0.9 0M24.7 10.2m-0.6 0a0.6 0.6 0 1 0 1.2 0a0.6 0.6 0 1 0 -1.2 0M17.1 2.8m-0.7 0a0.7 0.7 0 1 0 1.4 0a0.7 0.7 0 1 0 -1.4 0M19.9 15.7m-0.6 0a0.6 0.6 0 1 0 1.2 0a0.6 0.6 0 1 0 -1.2 0M27.2 1.1m-0.7 0a0.7 0.7 0 1 0 1.3 0a0.7 0.7 0 1 0 -1.3 0M14.2 34.4m-0.5 0a0.5 0.5 0 1 0 1.1 0a0.5 0.5 0 1 0 -1.1 0M35.2 6.4m-0.7 0a0.7 0.7 0 1 0 1.3 0a0.7 0.7 0 1 0 -1.3 0M28.6 29.1m-0.7 0a0.7 0.7 0 1 0 1.3 0a0.7 0.7 0 1 0 -1.3 0M18.6 26.8m-0.7 0a0.7 0.7 0 1 0 1.4 0a0.7 0.7 0 1 0 -1.4 0M21.4 26.7m-0.6 0a0.6 0.6 0 1 0 1.2 0a0.6 0.6 0 1 0 -1.2 0M25.9 26.0m-0.7 0a0.7 0.7 0 1 0 1.5 0a0.7 0.7 0 1 0 -1.5 0M18.1 28.2m-0.7 0a0.7 0.7 0 1 0 1.5 0a0.7 0.7 0 1 0 -1.5 0M27.6 19.3m-0.7 0a0.7 0.7 0 1 0 1.5 0a0.7 0.7 0 1 0 -1.5 0M20.6 17.5m-0.7 0a0.7 0.7 0 1 0 1.4 0a0.7 0.7 0 1 0 -1.4 0M8.5 9.4m-0.6 0a0.6 0.6 0 1 0 1.1 0a0.6 0.6 0 1 0 -1.1 0M12.5 36.3m-0.6 0a0.6 0.6 0 1 0 1.2 0a0.6 0.6 0 1 0 -1.2 0M34.2 6.6m-0.7 0a0.7 0.7 0 1 0 1.4 0a0.7 0.7 0 1 0 -1.4 0M17.5 18.1m-0.6 0a0.6 0.6 0 1 0 1.2 0a0.6 0.6 0 1 0 -1.2 0M31.9 7.6m-0.5 0a0.5 0.5 0 1 0 1.0 0a0.5 0.5 0 1 0 -1.0 0M21.0 24.0m-0.4 0a0.4 0.4 0 1 0 0.9 0a0.4 0.4 0 1 0 -0.9 0M5.1 8.9m-0.7 0a0.7 0.7 0 1 0 1.4 0a0.7 0.7 0 1 0 -1.4 0M0.8 11.9m-0.5 0a0.5 0.5 0 1 0 1.0 0a0.5 0.5 0 1 0 -1.0 0M1.5 5.6m-0.6 0a0.6 0.6 0 1 0 1.2 0a0.6 0.6 0 1 0 -1.2 0M11.0 24.8m-0.7 0a0.7 0.7 0 1 0 1.4 0a0.7 0.7 0 1 0 -1.4 0M11.4 33.8m-0.7 0a0.7 0.7 0 1 0 1.4 0a0.7 0.7 0 1 0 -1.4 0M13.5 2.3m-0.5 0a0.5 0.5 0 1 0 1.0 0a0.5 0.5 0 1 0 -1.0 0M35.3 13.4m-0.6 0a0.6 0.6 0 1 0 1.2 0a0.6 0.6 0 1 0 -1.2 0M32.5 14.1m-0.7 0a0.7 0.7 0 1 0 1.4 0a0.7 0.7 0 1 0 -1.4 0M13.3 36.1m-0.4 0a0.4 0.4 0 1 0 0.8 0a0.4 0.4 0 1 0 -0.8 0M0.0 20.1m-0.5 0a0.5 0.5 0 1 0 1.0 0a0.5 0.5 0 1 0 -1.0 0M20.2 31.4m-0.7 0a0.7 0.7 0 1 0 1.3 0a0.7 0.7 0 1 0 -1.3 0M7.7 14.7m-0.4 0a0.4 0.4 0 1 0 0.8 0a0.4 0.4 0 1 0 -0.8 0M27.7 19.8m-0.4 0a0.4 0.4 0 1 0 0.9 0a0.4 0.4 0 1 0 -0.9 0M4.7 2.3m-0.4 0a0.4 0.4 0 1 0 0.8 0a0.4 0.4 0 1 0 -0.8 0M31.7 7.6m-0.6 0a0.6 0.6 0 1 0 1.2 0a0.6 0.6 0 1 0 -1.2 0M27.4 10.0m-0.4 0a0.4 0.4 0 1 0 0.8 0a0.4 0.4 0 1 0 -0.8 0M13.9 24.8m-0.4 0a0.4 0.4 0 1 0 0.9 0a0.4 0.4 0 1 0 -0.9 0M36.0 17.5m-0.6 0a0.6 0.6 0 1 0 1.3 0a0.6 0.6 0 1 0 -1.3 0M14.7 34.5m-0.7 0a0.7 0.7 0 1 0 1.5 0a0.7 0.7 0 1 0 -1.5 0M5.8 36.9m-0.7 0a0.7 0.7 0 1 0 1.4 0a0.7 0.7 0 1 0 -1.4 0M10.6 27.1m-0.7 0a0.7 0.7 0 1 0 1.5 0a0.7 0.7 0 1 0 -1.5 0M10.5 14.5m-0.6 0a0.6 0.6 0 1 0 1.2 0a0.6 0.6 0 1 0 -1.2 0M10.5 32.1m-0.5 0a0.5 0.5 0 1 0 1.1 0a0.5 0.5 0 1 0 -1.1 0M24.8 0.1m-0.5 0a0.5 0.5 0 1 0 1.0 0a0.5 0.5 0 1 0 -1.0 0" fill="#f2f4e4" fill-opacity="0.45"/><path d="M16.7 20.7m-0.7 0a0.7 0.7 0 1 0 1.4 0a0.7 0.7 0 1 0 -1.4 0M17.6 22.7m-0.4 0a0.4 0.4 0 1 0 0.8 0a0.4 0.4 0 1 0 -0.8 0M23.5 22.0m-0.5 0a0.5 0.5 0 1 0 1.0 0a0.5 0.5 0 1 0 -1.0 0M31.2 19.2m-0.6 0a0.6 0.6 0 1 0 1.2 0a0.6 0.6 0 1 0 -1.2 0M0.2 3.1m-0.6 0a0.6 0.6 0 1 0 1.2 0a0.6 0.6 0 1 0 -1.2 0M2.6 28.4m-0.5 0a0.5 0.5 0 1 0 1.0 0a0.5 0.5 0 1 0 -1.0 0M7.9 34.3m-0.4 0a0.4 0.4 0 1 0 0.7 0a0.4 0.4 0 1 0 -0.7 0M7.3 25.0m-0.5 0a0.5 0.5 0 1 0 1.0 0a0.5 0.5 0 1 0 -1.0 0M5.0 26.2m-0.4 0a0.4 0.4 0 1 0 0.7 0a0.4 0.4 0 1 0 -0.7 0M29.5 6.6m-0.6 0a0.6 0.6 0 1 0 1.1 0a0.6 0.6 0 1 0 -1.1 0M18.8 36.5m-0.7 0a0.7 0.7 0 1 0 1.3 0a0.7 0.7 0 1 0 -1.3 0M11.3 32.7m-0.4 0a0.4 0.4 0 1 0 0.9 0a0.4 0.4 0 1 0 -0.9 0M7.7 23.6m-0.4 0a0.4 0.4 0 1 0 0.7 0a0.4 0.4 0 1 0 -0.7 0M13.8 16.8m-0.7 0a0.7 0.7 0 1 0 1.5 0a0.7 0.7 0 1 0 -1.5 0M35.6 8.8m-0.6 0a0.6 0.6 0 1 0 1.3 0a0.6 0.6 0 1 0 -1.3 0M3.4 5.1m-0.5 0a0.5 0.5 0 1 0 1.1 0a0.5 0.5 0 1 0 -1.1 0M21.8 34.2m-0.5 0a0.5 0.5 0 1 0 1.1 0a0.5 0.5 0 1 0 -1.1 0M31.9 21.2m-0.6 0a0.6 0.6 0 1 0 1.2 0a0.6 0.6 0 1 0 -1.2 0M12.2 34.6m-0.6 0a0.6 0.6 0 1 0 1.3 0a0.6 0.6 0 1 0 -1.3 0M34.1 9.5m-0.4 0a0.4 0.4 0 1 0 0.7 0a0.4 0.4 0 1 0 -0.7 0M5.3 22.6m-0.6 0a0.6 0.6 0 1 0 1.1 0a0.6 0.6 0 1 0 -1.1 0M24.4 16.4m-0.7 0a0.7 0.7 0 1 0 1.4 0a0.7 0.7 0 1 0 -1.4 0M32.6 14.2m-0.6 0a0.6 0.6 0 1 0 1.2 0a0.6 0.6 0 1 0 -1.2 0M4.2 17.4m-0.7 0a0.7 0.7 0 1 0 1.4 0a0.7 0.7 0 1 0 -1.4 0M13.9 21.0m-0.7 0a0.7 0.7 0 1 0 1.4 0a0.7 0.7 0 1 0 -1.4 0M7.9 33.3m-0.7 0a0.7 0.7 0 1 0 1.5 0a0.7 0.7 0 1 0 -1.5 0M31.7 12.9m-0.4 0a0.4 0.4 0 1 0 0.8 0a0.4 0.4 0 1 0 -0.8 0M31.1 25.5m-0.7 0a0.7 0.7 0 1 0 1.5 0a0.7 0.7 0 1 0 -1.5 0M21.4 25.5m-0.7 0a0.7 0.7 0 1 0 1.3 0a0.7 0.7 0 1 0 -1.3 0M6.1 19.0m-0.7 0a0.7 0.7 0 1 0 1.4 0a0.7 0.7 0 1 0 -1.4 0M17.0 34.1m-0.7 0a0.7 0.7 0 1 0 1.3 0a0.7 0.7 0 1 0 -1.3 0M10.0 17.5m-0.4 0a0.4 0.4 0 1 0 0.8 0a0.4 0.4 0 1 0 -0.8 0M11.7 7.1m-0.6 0a0.6 0.6 0 1 0 1.2 0a0.6 0.6 0 1 0 -1.2 0M7.3 19.6m-0.5 0a0.5 0.5 0 1 0 1.0 0a0.5 0.5 0 1 0 -1.0 0M4.9 3.3m-0.5 0a0.5 0.5 0 1 0 1.0 0a0.5 0.5 0 1 0 -1.0 0M7.4 25.2m-0.7 0a0.7 0.7 0 1 0 1.4 0a0.7 0.7 0 1 0 -1.4 0M36.9 30.8m-0.7 0a0.7 0.7 0 1 0 1.3 0a0.7 0.7 0 1 0 -1.3 0M3.5 2.3m-0.7 0a0.7 0.7 0 1 0 1.5 0a0.7 0.7 0 1 0 -1.5 0M2.9 3.6m-0.5 0a0.5 0.5 0 1 0 1.0 0a0.5 0.5 0 1 0 -1.0 0M23.5 1.5m-0.4 0a0.4 0.4 0 1 0 0.9 0a0.4 0.4 0 1 0 -0.9 0M22.4 3.5m-0.7 0a0.7 0.7 0 1 0 1.3 0a0.7 0.7 0 1 0 -1.3 0M27.5 28.8m-0.7 0a0.7 0.7 0 1 0 1.4 0a0.7 0.7 0 1 0 -1.4 0M4.9 12.2m-0.6 0a0.6 0.6 0 1 0 1.1 0a0.6 0.6 0 1 0 -1.1 0M1.8 10.1m-0.7 0a0.7 0.7 0 1 0 1.5 0a0.7 0.7 0 1 0 -1.5 0M4.2 4.0m-0.4 0a0.4 0.4 0 1 0 0.9 0a0.4 0.4 0 1 0 -0.9 0M14.9 1.9m-0.4 0a0.4 0.4 0 1 0 0.9 0a0.4 0.4 0 1 0 -0.9 0M0.4 9.6m-0.5 0a0.5 0.5 0 1 0 0.9 0a0.5 0.5 0 1 0 -0.9 0M31.7 20.1m-0.6 0a0.6 0.6 0 1 0 1.2 0a0.6 0.6 0 1 0 -1.2 0M11.6 19.6m-0.5 0a0.5 0.5 0 1 0 1.1 0a0.5 0.5 0 1 0 -1.1 0M20.7 10.5m-0.6 0a0.6 0.6 0 1 0 1.3 0a0.6 0.6 0 1 0 -1.3 0M5.8 27.9m-0.5 0a0.5 0.5 0 1 0 1.0 0a0.5 0.5 0 1 0 -1.0 0M27.7 1.9m-0.7 0a0.7 0.7 0 1 0 1.5 0a0.7 0.7 0 1 0 -1.5 0M2.7 33.5m-0.5 0a0.5 0.5 0 1 0 1.0 0a0.5 0.5 0 1 0 -1.0 0M22.3 4.3m-0.6 0a0.6 0.6 0 1 0 1.2 0a0.6 0.6 0 1 0 -1.2 0M4.6 16.4m-0.6 0a0.6 0.6 0 1 0 1.2 0a0.6 0.6 0 1 0 -1.2 0M22.2 23.7m-0.6 0a0.6 0.6 0 1 0 1.2 0a0.6 0.6 0 1 0 -1.2 0M28.8 19.6m-0.7 0a0.7 0.7 0 1 0 1.5 0a0.7 0.7 0 1 0 -1.5 0M27.2 8.8m-0.4 0a0.4 0.4 0 1 0 0.8 0a0.4 0.4 0 1 0 -0.8 0M29.0 23.1m-0.5 0a0.5 0.5 0 1 0 1.0 0a0.5 0.5 0 1 0 -1.0 0M1.5 2.2m-0.5 0a0.5 0.5 0 1 0 0.9 0a0.5 0.5 0 1 0 -0.9 0M1.0 1.4m-0.4 0a0.4 0.4 0 1 0 0.9 0a0.4 0.4 0 1 0 -0.9 0M8.7 36.3m-0.5 0a0.5 0.5 0 1 0 1.1 0a0.5 0.5 0 1 0 -1.1 0M13.7 24.2m-0.7 0a0.7 0.7 0 1 0 1.5 0a0.7 0.7 0 1 0 -1.5 0M15.8 13.7m-0.4 0a0.4 0.4 0 1 0 0.8 0a0.4 0.4 0 1 0 -0.8 0M2.9 3.1m-0.6 0a0.6 0.6 0 1 0 1.2 0a0.6 0.6 0 1 0 -1.2 0M25.7 18.3m-0.7 0a0.7 0.7 0 1 0 1.3 0a0.7 0.7 0 1 0 -1.3 0M12.1 33.5m-0.5 0a0.5 0.5 0 1 0 1.0 0a0.5 0.5 0 1 0 -1.0 0M21.1 34.0m-0.7 0a0.7 0.7 0 1 0 1.5 0a0.7 0.7 0 1 0 -1.5 0M16.2 29.7m-0.5 0a0.5 0.5 0 1 0 0.9 0a0.5 0.5 0 1 0 -0.9 0M9.2 13.4m-0.5 0a0.5 0.5 0 1 0 1.0 0a0.5 0.5 0 1 0 -1.0 0M20.8 6.5m-0.7 0a0.7 0.7 0 1 0 1.3 0a0.7 0.7 0 1 0 -1.3 0M21.0 35.8m-0.6 0a0.6 0.6 0 1 0 1.2 0a0.6 0.6 0 1 0 -1.2 0M12.4 10.1m-0.4 0a0.4 0.4 0 1 0 0.8 0a0.4 0.4 0 1 0 -0.8 0M30.2 15.6m-0.6 0a0.6 0.6 0 1 0 1.3 0a0.6 0.6 0 1 0 -1.3 0M28.3 19.3m-0.7 0a0.7 0.7 0 1 0 1.3 0a0.7 0.7 0 1 0 -1.3 0M13.4 0.4m-0.4 0a0.4 0.4 0 1 0 0.8 0a0.4 0.4 0 1 0 -0.8 0M13.9 6.2m-0.4 0a0.4 0.4 0 1 0 0.9 0a0.4 0.4 0 1 0 -0.9 0M19.6 10.1m-0.7 0a0.7 0.7 0 1 0 1.4 0a0.7 0.7 0 1 0 -1.4 0M33.8 27.9m-0.4 0a0.4 0.4 0 1 0 0.7 0a0.4 0.4 0 1 0 -0.7 0M13.3 21.8m-0.6 0a0.6 0.6 0 1 0 1.2 0a0.6 0.6 0 1 0 -1.2 0M22.0 8.3m-0.4 0a0.4 0.4 0 1 0 0.8 0a0.4 0.4 0 1 0 -0.8 0M20.3 30.2m-0.5 0a0.5 0.5 0 1 0 1.1 0a0.5 0.5 0 1 0 -1.1 0M14.8 8.0m-0.4 0a0.4 0.4 0 1 0 0.8 0a0.4 0.4 0 1 0 -0.8 0M24.3 8.8m-0.4 0a0.4 0.4 0 1 0 0.7 0a0.4 0.4 0 1 0 -0.7 0M33.5 16.7m-0.4 0a0.4 0.4 0 1 0 0.9 0a0.4 0.4 0 1 0 -0.9 0M22.4 5.8m-0.4 0a0.4 0.4 0 1 0 0.8 0a0.4 0.4 0 1 0 -0.8 0M13.0 22.7m-0.6 0a0.6 0.6 0 1 0 1.1 0a0.6 0.6 0 1 0 -1.1 0M31.7 11.2m-0.7 0a0.7 0.7 0 1 0 1.3 0a0.7 0.7 0 1 0 -1.3 0M7.1 25.2m-0.7 0a0.7 0.7 0 1 0 1.3 0a0.7 0.7 0 1 0 -1.3 0M35.0 35.7m-0.5 0a0.5 0.5 0 1 0 1.0 0a0.5 0.5 0 1 0 -1.0 0M6.6 7.1m-0.4 0a0.4 0.4 0 1 0 0.7 0a0.4 0.4 0 1 0 -0.7 0M36.5 16.1m-0.7 0a0.7 0.7 0 1 0 1.3 0a0.7 0.7 0 1 0 -1.3 0M7.6 5.5m-0.6 0a0.6 0.6 0 1 0 1.3 0a0.6 0.6 0 1 0 -1.3 0M12.3 15.2m-0.4 0a0.4 0.4 0 1 0 0.7 0a0.4 0.4 0 1 0 -0.7 0M24.4 22.5m-0.4 0a0.4 0.4 0 1 0 0.7 0a0.4 0.4 0 1 0 -0.7 0M22.6 5.9m-0.7 0a0.7 0.7 0 1 0 1.3 0a0.7 0.7 0 1 0 -1.3 0M20.1 20.7m-0.6 0a0.6 0.6 0 1 0 1.1 0a0.6 0.6 0 1 0 -1.1 0M6.2 27.6m-0.7 0a0.7 0.7 0 1 0 1.4 0a0.7 0.7 0 1 0 -1.4 0M22.3 4.5m-0.7 0a0.7 0.7 0 1 0 1.4 0a0.7 0.7 0 1 0 -1.4 0M25.3 13.5m-0.7 0a0.7 0.7 0 1 0 1.3 0a0.7 0.7 0 1 0 -1.3 0M5.1 28.0m-0.7 0a0.7 0.7 0 1 0 1.4 0a0.7 0.7 0 1 0 -1.4 0M7.4 17.3m-0.4 0a0.4 0.4 0 1 0 0.8 0a0.4 0.4 0 1 0 -0.8 0M29.0 26.7m-0.7 0a0.7 0.7 0 1 0 1.3 0a0.7 0.7 0 1 0 -1.3 0M35.5 22.2m-0.5 0a0.5 0.5 0 1 0 1.1 0a0.5 0.5 0 1 0 -1.1 0M33.2 33.8m-0.6 0a0.6 0.6 0 1 0 1.2 0a0.6 0.6 0 1 0 -1.2 0M11.9 2.0m-0.6 0a0.6 0.6 0 1 0 1.3 0a0.6 0.6 0 1 0 -1.3 0M27.1 22.1m-0.7 0a0.7 0.7 0 1 0 1.3 0a0.7 0.7 0 1 0 -1.3 0M32.7 32.5m-0.4 0a0.4 0.4 0 1 0 0.9 0a0.4 0.4 0 1 0 -0.9 0M9.0 32.3m-0.7 0a0.7 0.7 0 1 0 1.5 0a0.7 0.7 0 1 0 -1.5 0M25.7 19.5m-0.4 0a0.4 0.4 0 1 0 0.9 0a0.4 0.4 0 1 0 -0.9 0M35.8 24.6m-0.7 0a0.7 0.7 0 1 0 1.4 0a0.7 0.7 0 1 0 -1.4 0M20.9 6.1m-0.6 0a0.6 0.6 0 1 0 1.2 0a0.6 0.6 0 1 0 -1.2 0M2.3 33.1m-0.7 0a0.7 0.7 0 1 0 1.4 0a0.7 0.7 0 1 0 -1.4 0M5.2 25.6m-0.4 0a0.4 0.4 0 1 0 0.9 0a0.4 0.4 0 1 0 -0.9 0M1.2 33.2m-0.5 0a0.5 0.5 0 1 0 0.9 0a0.5 0.5 0 1 0 -0.9 0M7.2 31.0m-0.5 0a0.5 0.5 0 1 0 1.0 0a0.5 0.5 0 1 0 -1.0 0M24.1 11.3m-0.7 0a0.7 0.7 0 1 0 1.4 0a0.7 0.7 0 1 0 -1.4 0M10.0 26.6m-0.6 0a0.6 0.6 0 1 0 1.1 0a0.6 0.6 0 1 0 -1.1 0M19.6 1.7m-0.6 0a0.6 0.6 0 1 0 1.2 0a0.6 0.6 0 1 0 -1.2 0M10.6 28.0m-0.4 0a0.4 0.4 0 1 0 0.9 0a0.4 0.4 0 1 0 -0.9 0M2.4 28.7m-0.7 0a0.7 0.7 0 1 0 1.4 0a0.7 0.7 0 1 0 -1.4 0M1.9 16.6m-0.7 0a0.7 0.7 0 1 0 1.4 0a0.7 0.7 0 1 0 -1.4 0M5.6 0.7m-0.5 0a0.5 0.5 0 1 0 1.1 0a0.5 0.5 0 1 0 -1.1 0M27.3 28.9m-0.7 0a0.7 0.7 0 1 0 1.3 0a0.7 0.7 0 1 0 -1.3 0M3.3 30.4m-0.4 0a0.4 0.4 0 1 0 0.8 0a0.4 0.4 0 1 0 -0.8 0M29.1 2.3m-0.5 0a0.5 0.5 0 1 0 1.0 0a0.5 0.5 0 1 0 -1.0 0M8.9 32.9m-0.4 0a0.4 0.4 0 1 0 0.8 0a0.4 0.4 0 1 0 -0.8 0M15.5 3.2m-0.4 0a0.4 0.4 0 1 0 0.9 0a0.4 0.4 0 1 0 -0.9 0M14.1 28.9m-0.4 0a0.4 0.4 0 1 0 0.9 0a0.4 0.4 0 1 0 -0.9 0M9.1 29.4m-0.7 0a0.7 0.7 0 1 0 1.3 0a0.7 0.7 0 1 0 -1.3 0M7.5 7.9m-0.5 0a0.5 0.5 0 1 0 1.1 0a0.5 0.5 0 1 0 -1.1 0M0.7 6.7m-0.5 0a0.5 0.5 0 1 0 0.9 0a0.5 0.5 0 1 0 -0.9 0M13.4 5.7m-0.7 0a0.7 0.7 0 1 0 1.4 0a0.7 0.7 0 1 0 -1.4 0M24.8 11.2m-0.6 0a0.6 0.6 0 1 0 1.2 0a0.6 0.6 0 1 0 -1.2 0M16.7 13.9m-0.7 0a0.7 0.7 0 1 0 1.4 0a0.7 0.7 0 1 0 -1.4 0M32.0 8.4m-0.5 0a0.5 0.5 0 1 0 0.9 0a0.5 0.5 0 1 0 -0.9 0M20.7 13.1m-0.4 0a0.4 0.4 0 1 0 0.8 0a0.4 0.4 0 1 0 -0.8 0M8.7 23.4m-0.4 0a0.4 0.4 0 1 0 0.8 0a0.4 0.4 0 1 0 -0.8 0M4.4 18.2m-0.5 0a0.5 0.5 0 1 0 1.1 0a0.5 0.5 0 1 0 -1.1 0M10.5 26.0m-0.4 0a0.4 0.4 0 1 0 0.9 0a0.4 0.4 0 1 0 -0.9 0M8.9 3.4m-0.5 0a0.5 0.5 0 1 0 1.0 0a0.5 0.5 0 1 0 -1.0 0M12.0 9.4m-0.4 0a0.4 0.4 0 1 0 0.7 0a0.4 0.4 0 1 0 -0.7 0M32.8 23.8m-0.5 0a0.5 0.5 0 1 0 1.0 0a0.5 0.5 0 1 0 -1.0 0M28.5 23.2m-0.6 0a0.6 0.6 0 1 0 1.2 0a0.6 0.6 0 1 0 -1.2 0M22.7 2.4m-0.4 0a0.4 0.4 0 1 0 0.8 0a0.4 0.4 0 1 0 -0.8 0M29.7 25.3m-0.5 0a0.5 0.5 0 1 0 0.9 0a0.5 0.5 0 1 0 -0.9 0M23.1 20.7m-0.7 0a0.7 0.7 0 1 0 1.4 0a0.7 0.7 0 1 0 -1.4 0M30.5 5.9m-0.6 0a0.6 0.6 0 1 0 1.2 0a0.6 0.6 0 1 0 -1.2 0M29.8 10.9m-0.5 0a0.5 0.5 0 1 0 1.0 0a0.5 0.5 0 1 0 -1.0 0M28.6 17.8m-0.4 0a0.4 0.4 0 1 0 0.8 0a0.4 0.4 0 1 0 -0.8 0M9.3 26.5m-0.5 0a0.5 0.5 0 1 0 1.0 0a0.5 0.5 0 1 0 -1.0 0M15.0 33.5m-0.7 0a0.7 0.7 0 1 0 1.4 0a0.7 0.7 0 1 0 -1.4 0M20.6 33.2m-0.7 0a0.7 0.7 0 1 0 1.4 0a0.7 0.7 0 1 0 -1.4 0M21.0 10.1m-0.5 0a0.5 0.5 0 1 0 1.0 0a0.5 0.5 0 1 0 -1.0 0M8.4 17.8m-0.5 0a0.5 0.5 0 1 0 1.0 0a0.5 0.5 0 1 0 -1.0 0M20.7 5.6m-0.4 0a0.4 0.4 0 1 0 0.7 0a0.4 0.4 0 1 0 -0.7 0M36.9 7.5m-0.7 0a0.7 0.7 0 1 0 1.4 0a0.7 0.7 0 1 0 -1.4 0" fill="#f2f4e4" fill-opacity="0.7"/><path d="M16.7 31.6m-0.4 0a0.4 0.4 0 1 0 0.9 0a0.4 0.4 0 1 0 -0.9 0M11.2 3.4m-0.7 0a0.7 0.7 0 1 0 1.3 0a0.7 0.7 0 1 0 -1.3 0M22.2 28.8m-0.5 0a0.5 0.5 0 1 0 1.0 0a0.5 0.5 0 1 0 -1.0 0M36.9 36.8m-0.7 0a0.7 0.7 0 1 0 1.4 0a0.7 0.7 0 1 0 -1.4 0M36.3 14.7m-0.4 0a0.4 0.4 0 1 0 0.8 0a0.4 0.4 0 1 0 -0.8 0M0.0 32.0m-0.7 0a0.7 0.7 0 1 0 1.5 0a0.7 0.7 0 1 0 -1.5 0M36.6 7.9m-0.5 0a0.5 0.5 0 1 0 0.9 0a0.5 0.5 0 1 0 -0.9 0M30.8 5.0m-0.5 0a0.5 0.5 0 1 0 1.0 0a0.5 0.5 0 1 0 -1.0 0M26.8 5.9m-0.6 0a0.6 0.6 0 1 0 1.2 0a0.6 0.6 0 1 0 -1.2 0M7.3 35.2m-0.7 0a0.7 0.7 0 1 0 1.4 0a0.7 0.7 0 1 0 -1.4 0M2.9 1.8m-0.4 0a0.4 0.4 0 1 0 0.8 0a0.4 0.4 0 1 0 -0.8 0M15.6 33.5m-0.5 0a0.5 0.5 0 1 0 1.1 0a0.5 0.5 0 1 0 -1.1 0M25.9 35.6m-0.4 0a0.4 0.4 0 1 0 0.7 0a0.4 0.4 0 1 0 -0.7 0M37.0 2.8m-0.6 0a0.6 0.6 0 1 0 1.1 0a0.6 0.6 0 1 0 -1.1 0M29.4 33.9m-0.5 0a0.5 0.5 0 1 0 1.0 0a0.5 0.5 0 1 0 -1.0 0M23.7 36.8m-0.7 0a0.7 0.7 0 1 0 1.4 0a0.7 0.7 0 1 0 -1.4 0M16.3 31.0m-0.4 0a0.4 0.4 0 1 0 0.8 0a0.4 0.4 0 1 0 -0.8 0M35.4 4.2m-0.7 0a0.7 0.7 0 1 0 1.3 0a0.7 0.7 0 1 0 -1.3 0M14.2 19.2m-0.6 0a0.6 0.6 0 1 0 1.2 0a0.6 0.6 0 1 0 -1.2 0M30.7 10.3m-0.6 0a0.6 0.6 0 1 0 1.2 0a0.6 0.6 0 1 0 -1.2 0M26.2 21.1m-0.5 0a0.5 0.5 0 1 0 0.9 0a0.5 0.5 0 1 0 -0.9 0M36.4 4.3m-0.4 0a0.4 0.4 0 1 0 0.8 0a0.4 0.4 0 1 0 -0.8 0M24.2 29.9m-0.7 0a0.7 0.7 0 1 0 1.5 0a0.7 0.7 0 1 0 -1.5 0M7.3 30.5m-0.5 0a0.5 0.5 0 1 0 0.9 0a0.5 0.5 0 1 0 -0.9 0M8.4 28.8m-0.6 0a0.6 0.6 0 1 0 1.1 0a0.6 0.6 0 1 0 -1.1 0M18.5 36.9m-0.4 0a0.4 0.4 0 1 0 0.8 0a0.4 0.4 0 1 0 -0.8 0M33.5 3.2m-0.7 0a0.7 0.7 0 1 0 1.4 0a0.7 0.7 0 1 0 -1.4 0M17.2 24.1m-0.4 0a0.4 0.4 0 1 0 0.9 0a0.4 0.4 0 1 0 -0.9 0M19.9 29.3m-0.5 0a0.5 0.5 0 1 0 1.0 0a0.5 0.5 0 1 0 -1.0 0M17.4 37.0m-0.7 0a0.7 0.7 0 1 0 1.4 0a0.7 0.7 0 1 0 -1.4 0M19.5 10.7m-0.6 0a0.6 0.6 0 1 0 1.3 0a0.6 0.6 0 1 0 -1.3 0M11.5 14.1m-0.7 0a0.7 0.7 0 1 0 1.4 0a0.7 0.7 0 1 0 -1.4 0M7.7 31.5m-0.7 0a0.7 0.7 0 1 0 1.5 0a0.7 0.7 0 1 0 -1.5 0M19.1 14.8m-0.7 0a0.7 0.7 0 1 0 1.3 0a0.7 0.7 0 1 0 -1.3 0M4.5 3.4m-0.4 0a0.4 0.4 0 1 0 0.8 0a0.4 0.4 0 1 0 -0.8 0M33.3 34.6m-0.7 0a0.7 0.7 0 1 0 1.4 0a0.7 0.7 0 1 0 -1.4 0M5.8 0.4m-0.5 0a0.5 0.5 0 1 0 0.9 0a0.5 0.5 0 1 0 -0.9 0M13.1 22.9m-0.4 0a0.4 0.4 0 1 0 0.8 0a0.4 0.4 0 1 0 -0.8 0M21.5 31.5m-0.6 0a0.6 0.6 0 1 0 1.2 0a0.6 0.6 0 1 0 -1.2 0M23.4 30.5m-0.6 0a0.6 0.6 0 1 0 1.2 0a0.6 0.6 0 1 0 -1.2 0M7.6 23.4m-0.6 0a0.6 0.6 0 1 0 1.2 0a0.6 0.6 0 1 0 -1.2 0M4.3 18.7m-0.7 0a0.7 0.7 0 1 0 1.3 0a0.7 0.7 0 1 0 -1.3 0M3.9 1.4m-0.6 0a0.6 0.6 0 1 0 1.1 0a0.6 0.6 0 1 0 -1.1 0M7.5 31.1m-0.7 0a0.7 0.7 0 1 0 1.5 0a0.7 0.7 0 1 0 -1.5 0M33.0 29.7m-0.6 0a0.6 0.6 0 1 0 1.3 0a0.6 0.6 0 1 0 -1.3 0M34.8 21.1m-0.4 0a0.4 0.4 0 1 0 0.9 0a0.4 0.4 0 1 0 -0.9 0M28.4 28.3m-0.5 0a0.5 0.5 0 1 0 1.0 0a0.5 0.5 0 1 0 -1.0 0M0.4 13.2m-0.6 0a0.6 0.6 0 1 0 1.2 0a0.6 0.6 0 1 0 -1.2 0M12.5 24.4m-0.6 0a0.6 0.6 0 1 0 1.2 0a0.6 0.6 0 1 0 -1.2 0M20.4 18.8m-0.7 0a0.7 0.7 0 1 0 1.5 0a0.7 0.7 0 1 0 -1.5 0M31.3 3.7m-0.5 0a0.5 0.5 0 1 0 1.1 0a0.5 0.5 0 1 0 -1.1 0M35.0 15.6m-0.6 0a0.6 0.6 0 1 0 1.1 0a0.6 0.6 0 1 0 -1.1 0M1.0 28.6m-0.6 0a0.6 0.6 0 1 0 1.2 0a0.6 0.6 0 1 0 -1.2 0M18.6 24.2m-0.4 0a0.4 0.4 0 1 0 0.9 0a0.4 0.4 0 1 0 -0.9 0M2.7 3.2m-0.6 0a0.6 0.6 0 1 0 1.2 0a0.6 0.6 0 1 0 -1.2 0M10.5 5.3m-0.5 0a0.5 0.5 0 1 0 1.0 0a0.5 0.5 0 1 0 -1.0 0M8.2 35.8m-0.6 0a0.6 0.6 0 1 0 1.3 0a0.6 0.6 0 1 0 -1.3 0M25.0 21.6m-0.7 0a0.7 0.7 0 1 0 1.3 0a0.7 0.7 0 1 0 -1.3 0M20.9 29.5m-0.6 0a0.6 0.6 0 1 0 1.1 0a0.6 0.6 0 1 0 -1.1 0M3.1 23.5m-0.4 0a0.4 0.4 0 1 0 0.8 0a0.4 0.4 0 1 0 -0.8 0M18.3 19.9m-0.6 0a0.6 0.6 0 1 0 1.3 0a0.6 0.6 0 1 0 -1.3 0M22.9 1.7m-0.7 0a0.7 0.7 0 1 0 1.3 0a0.7 0.7 0 1 0 -1.3 0M32.9 35.4m-0.6 0a0.6 0.6 0 1 0 1.2 0a0.6 0.6 0 1 0 -1.2 0M33.9 9.1m-0.4 0a0.4 0.4 0 1 0 0.8 0a0.4 0.4 0 1 0 -0.8 0M14.9 33.7m-0.7 0a0.7 0.7 0 1 0 1.4 0a0.7 0.7 0 1 0 -1.4 0M17.9 14.9m-0.7 0a0.7 0.7 0 1 0 1.5 0a0.7 0.7 0 1 0 -1.5 0M23.6 36.7m-0.5 0a0.5 0.5 0 1 0 0.9 0a0.5 0.5 0 1 0 -0.9 0M25.7 3.1m-0.6 0a0.6 0.6 0 1 0 1.3 0a0.6 0.6 0 1 0 -1.3 0M2.8 11.3m-0.5 0a0.5 0.5 0 1 0 1.1 0a0.5 0.5 0 1 0 -1.1 0M2.5 2.8m-0.4 0a0.4 0.4 0 1 0 0.8 0a0.4 0.4 0 1 0 -0.8 0M24.2 0.5m-0.5 0a0.5 0.5 0 1 0 1.0 0a0.5 0.5 0 1 0 -1.0 0M31.7 31.2m-0.6 0a0.6 0.6 0 1 0 1.3 0a0.6 0.6 0 1 0 -1.3 0M5.6 23.2m-0.7 0a0.7 0.7 0 1 0 1.4 0a0.7 0.7 0 1 0 -1.4 0M11.0 12.5m-0.5 0a0.5 0.5 0 1 0 1.0 0a0.5 0.5 0 1 0 -1.0 0M12.2 35.0m-0.6 0a0.6 0.6 0 1 0 1.2 0a0.6 0.6 0 1 0 -1.2 0M5.2 3.5m-0.6 0a0.6 0.6 0 1 0 1.2 0a0.6 0.6 0 1 0 -1.2 0M34.1 15.8m-0.6 0a0.6 0.6 0 1 0 1.1 0a0.6 0.6 0 1 0 -1.1 0M7.0 11.4m-0.5 0a0.5 0.5 0 1 0 1.1 0a0.5 0.5 0 1 0 -1.1 0M21.2 7.3m-0.7 0a0.7 0.7 0 1 0 1.4 0a0.7 0.7 0 1 0 -1.4 0M16.7 27.0m-0.4 0a0.4 0.4 0 1 0 0.9 0a0.4 0.4 0 1 0 -0.9 0M16.8 14.9m-0.7 0a0.7 0.7 0 1 0 1.3 0a0.7 0.7 0 1 0 -1.3 0M9.8 21.0m-0.5 0a0.5 0.5 0 1 0 1.0 0a0.5 0.5 0 1 0 -1.0 0M27.8 18.0m-0.7 0a0.7 0.7 0 1 0 1.5 0a0.7 0.7 0 1 0 -1.5 0M15.1 16.1m-0.6 0a0.6 0.6 0 1 0 1.2 0a0.6 0.6 0 1 0 -1.2 0M24.3 34.8m-0.7 0a0.7 0.7 0 1 0 1.4 0a0.7 0.7 0 1 0 -1.4 0M0.6 23.5m-0.6 0a0.6 0.6 0 1 0 1.3 0a0.6 0.6 0 1 0 -1.3 0M32.2 26.4m-0.4 0a0.4 0.4 0 1 0 0.8 0a0.4 0.4 0 1 0 -0.8 0M36.5 1.2m-0.5 0a0.5 0.5 0 1 0 1.1 0a0.5 0.5 0 1 0 -1.1 0M24.4 29.0m-0.6 0a0.6 0.6 0 1 0 1.1 0a0.6 0.6 0 1 0 -1.1 0M30.6 23.5m-0.7 0a0.7 0.7 0 1 0 1.5 0a0.7 0.7 0 1 0 -1.5 0M4.1 16.1m-0.6 0a0.6 0.6 0 1 0 1.2 0a0.6 0.6 0 1 0 -1.2 0M9.6 20.1m-0.7 0a0.7 0.7 0 1 0 1.4 0a0.7 0.7 0 1 0 -1.4 0M18.5 1.3m-0.6 0a0.6 0.6 0 1 0 1.2 0a0.6 0.6 0 1 0 -1.2 0M2.7 33.6m-0.6 0a0.6 0.6 0 1 0 1.2 0a0.6 0.6 0 1 0 -1.2 0M11.5 1.6m-0.5 0a0.5 0.5 0 1 0 1.0 0a0.5 0.5 0 1 0 -1.0 0M9.2 18.4m-0.6 0a0.6 0.6 0 1 0 1.2 0a0.6 0.6 0 1 0 -1.2 0M25.2 26.5m-0.7 0a0.7 0.7 0 1 0 1.5 0a0.7 0.7 0 1 0 -1.5 0M5.9 21.7m-0.7 0a0.7 0.7 0 1 0 1.5 0a0.7 0.7 0 1 0 -1.5 0M12.7 25.7m-0.7 0a0.7 0.7 0 1 0 1.4 0a0.7 0.7 0 1 0 -1.4 0M1.7 10.2m-0.7 0a0.7 0.7 0 1 0 1.5 0a0.7 0.7 0 1 0 -1.5 0M31.6 14.1m-0.5 0a0.5 0.5 0 1 0 0.9 0a0.5 0.5 0 1 0 -0.9 0M7.7 15.2m-0.5 0a0.5 0.5 0 1 0 1.1 0a0.5 0.5 0 1 0 -1.1 0M5.0 26.1m-0.5 0a0.5 0.5 0 1 0 0.9 0a0.5 0.5 0 1 0 -0.9 0M19.8 16.6m-0.4 0a0.4 0.4 0 1 0 0.8 0a0.4 0.4 0 1 0 -0.8 0M22.6 5.2m-0.7 0a0.7 0.7 0 1 0 1.4 0a0.7 0.7 0 1 0 -1.4 0M23.3 20.9m-0.7 0a0.7 0.7 0 1 0 1.3 0a0.7 0.7 0 1 0 -1.3 0M7.5 28.4m-0.5 0a0.5 0.5 0 1 0 1.0 0a0.5 0.5 0 1 0 -1.0 0M29.8 17.7m-0.5 0a0.5 0.5 0 1 0 0.9 0a0.5 0.5 0 1 0 -0.9 0M14.0 31.3m-0.5 0a0.5 0.5 0 1 0 0.9 0a0.5 0.5 0 1 0 -0.9 0M12.0 13.8m-0.5 0a0.5 0.5 0 1 0 0.9 0a0.5 0.5 0 1 0 -0.9 0M10.0 9.6m-0.4 0a0.4 0.4 0 1 0 0.9 0a0.4 0.4 0 1 0 -0.9 0M9.8 3.8m-0.4 0a0.4 0.4 0 1 0 0.7 0a0.4 0.4 0 1 0 -0.7 0M13.4 26.1m-0.7 0a0.7 0.7 0 1 0 1.4 0a0.7 0.7 0 1 0 -1.4 0M32.8 11.5m-0.7 0a0.7 0.7 0 1 0 1.4 0a0.7 0.7 0 1 0 -1.4 0M32.2 2.0m-0.5 0a0.5 0.5 0 1 0 0.9 0a0.5 0.5 0 1 0 -0.9 0M27.4 25.7m-0.5 0a0.5 0.5 0 1 0 0.9 0a0.5 0.5 0 1 0 -0.9 0M21.0 15.6m-0.6 0a0.6 0.6 0 1 0 1.3 0a0.6 0.6 0 1 0 -1.3 0M9.9 10.0m-0.5 0a0.5 0.5 0 1 0 0.9 0a0.5 0.5 0 1 0 -0.9 0M6.3 2.5m-0.5 0a0.5 0.5 0 1 0 1.1 0a0.5 0.5 0 1 0 -1.1 0M36.3 14.4m-0.6 0a0.6 0.6 0 1 0 1.3 0a0.6 0.6 0 1 0 -1.3 0M4.5 12.0m-0.4 0a0.4 0.4 0 1 0 0.7 0a0.4 0.4 0 1 0 -0.7 0" fill="#f2f4e4" fill-opacity="0.95"/></pattern>
<pattern id="pw2" width="31" height="31" patternUnits="userSpaceOnUse"><path d="M14.7 20.4m-0.6 0a0.6 0.6 0 1 0 1.3 0a0.6 0.6 0 1 0 -1.3 0M5.0 28.1m-0.4 0a0.4 0.4 0 1 0 0.8 0a0.4 0.4 0 1 0 -0.8 0M27.3 17.3m-0.8 0a0.8 0.8 0 1 0 1.6 0a0.8 0.8 0 1 0 -1.6 0M16.8 19.9m-0.4 0a0.4 0.4 0 1 0 0.8 0a0.4 0.4 0 1 0 -0.8 0M5.6 11.8m-0.7 0a0.7 0.7 0 1 0 1.5 0a0.7 0.7 0 1 0 -1.5 0M6.3 18.8m-0.7 0a0.7 0.7 0 1 0 1.4 0a0.7 0.7 0 1 0 -1.4 0M21.6 26.5m-0.5 0a0.5 0.5 0 1 0 0.9 0a0.5 0.5 0 1 0 -0.9 0M5.6 24.6m-0.6 0a0.6 0.6 0 1 0 1.2 0a0.6 0.6 0 1 0 -1.2 0M0.8 17.3m-0.5 0a0.5 0.5 0 1 0 0.9 0a0.5 0.5 0 1 0 -0.9 0M22.0 28.0m-0.7 0a0.7 0.7 0 1 0 1.4 0a0.7 0.7 0 1 0 -1.4 0M19.8 13.5m-0.4 0a0.4 0.4 0 1 0 0.9 0a0.4 0.4 0 1 0 -0.9 0M18.4 14.2m-0.7 0a0.7 0.7 0 1 0 1.5 0a0.7 0.7 0 1 0 -1.5 0M28.5 15.5m-0.7 0a0.7 0.7 0 1 0 1.3 0a0.7 0.7 0 1 0 -1.3 0M7.7 14.2m-0.7 0a0.7 0.7 0 1 0 1.5 0a0.7 0.7 0 1 0 -1.5 0M17.7 9.7m-0.7 0a0.7 0.7 0 1 0 1.4 0a0.7 0.7 0 1 0 -1.4 0M5.3 14.8m-0.7 0a0.7 0.7 0 1 0 1.4 0a0.7 0.7 0 1 0 -1.4 0M11.9 12.4m-0.7 0a0.7 0.7 0 1 0 1.4 0a0.7 0.7 0 1 0 -1.4 0M23.9 26.6m-0.5 0a0.5 0.5 0 1 0 1.0 0a0.5 0.5 0 1 0 -1.0 0M23.2 26.6m-0.6 0a0.6 0.6 0 1 0 1.2 0a0.6 0.6 0 1 0 -1.2 0M17.0 29.8m-0.5 0a0.5 0.5 0 1 0 1.0 0a0.5 0.5 0 1 0 -1.0 0M26.0 4.0m-0.4 0a0.4 0.4 0 1 0 0.8 0a0.4 0.4 0 1 0 -0.8 0M13.1 25.0m-0.7 0a0.7 0.7 0 1 0 1.5 0a0.7 0.7 0 1 0 -1.5 0M29.8 23.1m-0.8 0a0.8 0.8 0 1 0 1.6 0a0.8 0.8 0 1 0 -1.6 0M18.6 20.7m-0.4 0a0.4 0.4 0 1 0 0.7 0a0.4 0.4 0 1 0 -0.7 0M23.1 7.8m-0.5 0a0.5 0.5 0 1 0 1.1 0a0.5 0.5 0 1 0 -1.1 0M3.1 7.8m-0.7 0a0.7 0.7 0 1 0 1.4 0a0.7 0.7 0 1 0 -1.4 0M10.5 12.4m-0.4 0a0.4 0.4 0 1 0 0.8 0a0.4 0.4 0 1 0 -0.8 0M17.9 5.6m-0.5 0a0.5 0.5 0 1 0 1.1 0a0.5 0.5 0 1 0 -1.1 0M4.4 14.0m-0.6 0a0.6 0.6 0 1 0 1.2 0a0.6 0.6 0 1 0 -1.2 0M15.9 9.5m-0.4 0a0.4 0.4 0 1 0 0.8 0a0.4 0.4 0 1 0 -0.8 0M28.9 16.4m-0.5 0a0.5 0.5 0 1 0 1.0 0a0.5 0.5 0 1 0 -1.0 0M3.9 6.4m-0.7 0a0.7 0.7 0 1 0 1.5 0a0.7 0.7 0 1 0 -1.5 0M26.0 20.0m-0.5 0a0.5 0.5 0 1 0 1.1 0a0.5 0.5 0 1 0 -1.1 0M30.7 11.9m-0.7 0a0.7 0.7 0 1 0 1.5 0a0.7 0.7 0 1 0 -1.5 0M16.9 26.3m-0.5 0a0.5 0.5 0 1 0 1.0 0a0.5 0.5 0 1 0 -1.0 0M21.5 10.7m-0.6 0a0.6 0.6 0 1 0 1.3 0a0.6 0.6 0 1 0 -1.3 0M3.6 25.0m-0.4 0a0.4 0.4 0 1 0 0.8 0a0.4 0.4 0 1 0 -0.8 0M4.2 30.0m-0.6 0a0.6 0.6 0 1 0 1.2 0a0.6 0.6 0 1 0 -1.2 0M17.0 27.8m-0.5 0a0.5 0.5 0 1 0 1.0 0a0.5 0.5 0 1 0 -1.0 0M27.0 9.8m-0.8 0a0.8 0.8 0 1 0 1.5 0a0.8 0.8 0 1 0 -1.5 0M27.7 27.4m-0.4 0a0.4 0.4 0 1 0 0.8 0a0.4 0.4 0 1 0 -0.8 0M10.6 8.3m-0.4 0a0.4 0.4 0 1 0 0.7 0a0.4 0.4 0 1 0 -0.7 0M20.5 14.9m-0.4 0a0.4 0.4 0 1 0 0.9 0a0.4 0.4 0 1 0 -0.9 0M21.2 16.4m-0.7 0a0.7 0.7 0 1 0 1.3 0a0.7 0.7 0 1 0 -1.3 0M14.0 2.8m-0.6 0a0.6 0.6 0 1 0 1.3 0a0.6 0.6 0 1 0 -1.3 0M5.2 26.2m-0.6 0a0.6 0.6 0 1 0 1.2 0a0.6 0.6 0 1 0 -1.2 0M20.2 4.5m-0.6 0a0.6 0.6 0 1 0 1.2 0a0.6 0.6 0 1 0 -1.2 0M22.4 19.4m-0.6 0a0.6 0.6 0 1 0 1.3 0a0.6 0.6 0 1 0 -1.3 0M7.2 22.6m-0.6 0a0.6 0.6 0 1 0 1.1 0a0.6 0.6 0 1 0 -1.1 0M27.2 20.8m-0.5 0a0.5 0.5 0 1 0 1.1 0a0.5 0.5 0 1 0 -1.1 0M13.5 26.7m-0.4 0a0.4 0.4 0 1 0 0.9 0a0.4 0.4 0 1 0 -0.9 0M20.2 22.0m-0.7 0a0.7 0.7 0 1 0 1.5 0a0.7 0.7 0 1 0 -1.5 0M15.8 24.6m-0.4 0a0.4 0.4 0 1 0 0.8 0a0.4 0.4 0 1 0 -0.8 0M28.4 0.8m-0.5 0a0.5 0.5 0 1 0 1.0 0a0.5 0.5 0 1 0 -1.0 0M18.1 13.6m-0.7 0a0.7 0.7 0 1 0 1.4 0a0.7 0.7 0 1 0 -1.4 0M11.5 8.7m-0.5 0a0.5 0.5 0 1 0 1.0 0a0.5 0.5 0 1 0 -1.0 0M24.1 14.9m-0.5 0a0.5 0.5 0 1 0 1.0 0a0.5 0.5 0 1 0 -1.0 0M27.4 23.7m-0.5 0a0.5 0.5 0 1 0 1.0 0a0.5 0.5 0 1 0 -1.0 0M9.7 9.2m-0.7 0a0.7 0.7 0 1 0 1.4 0a0.7 0.7 0 1 0 -1.4 0M9.7 22.1m-0.4 0a0.4 0.4 0 1 0 0.9 0a0.4 0.4 0 1 0 -0.9 0M13.1 8.3m-0.4 0a0.4 0.4 0 1 0 0.8 0a0.4 0.4 0 1 0 -0.8 0M25.2 22.9m-0.5 0a0.5 0.5 0 1 0 0.9 0a0.5 0.5 0 1 0 -0.9 0M4.5 24.5m-0.6 0a0.6 0.6 0 1 0 1.2 0a0.6 0.6 0 1 0 -1.2 0M11.4 5.3m-0.5 0a0.5 0.5 0 1 0 1.1 0a0.5 0.5 0 1 0 -1.1 0M15.4 13.2m-0.4 0a0.4 0.4 0 1 0 0.9 0a0.4 0.4 0 1 0 -0.9 0M9.5 23.4m-0.8 0a0.8 0.8 0 1 0 1.5 0a0.8 0.8 0 1 0 -1.5 0M19.5 26.8m-0.5 0a0.5 0.5 0 1 0 1.0 0a0.5 0.5 0 1 0 -1.0 0M1.3 30.5m-0.7 0a0.7 0.7 0 1 0 1.3 0a0.7 0.7 0 1 0 -1.3 0M16.3 22.5m-0.4 0a0.4 0.4 0 1 0 0.8 0a0.4 0.4 0 1 0 -0.8 0M17.3 27.3m-0.5 0a0.5 0.5 0 1 0 1.1 0a0.5 0.5 0 1 0 -1.1 0M30.6 21.6m-0.6 0a0.6 0.6 0 1 0 1.3 0a0.6 0.6 0 1 0 -1.3 0M15.4 21.1m-0.8 0a0.8 0.8 0 1 0 1.5 0a0.8 0.8 0 1 0 -1.5 0M0.7 28.8m-0.4 0a0.4 0.4 0 1 0 0.8 0a0.4 0.4 0 1 0 -0.8 0M16.8 4.5m-0.4 0a0.4 0.4 0 1 0 0.9 0a0.4 0.4 0 1 0 -0.9 0M18.7 27.1m-0.8 0a0.8 0.8 0 1 0 1.6 0a0.8 0.8 0 1 0 -1.6 0M23.7 19.4m-0.6 0a0.6 0.6 0 1 0 1.2 0a0.6 0.6 0 1 0 -1.2 0M15.4 20.7m-0.4 0a0.4 0.4 0 1 0 0.8 0a0.4 0.4 0 1 0 -0.8 0M29.3 10.3m-0.4 0a0.4 0.4 0 1 0 0.7 0a0.4 0.4 0 1 0 -0.7 0M21.4 13.0m-0.6 0a0.6 0.6 0 1 0 1.3 0a0.6 0.6 0 1 0 -1.3 0M28.9 8.5m-0.5 0a0.5 0.5 0 1 0 0.9 0a0.5 0.5 0 1 0 -0.9 0M11.2 23.8m-0.8 0a0.8 0.8 0 1 0 1.5 0a0.8 0.8 0 1 0 -1.5 0M21.1 3.6m-0.5 0a0.5 0.5 0 1 0 1.0 0a0.5 0.5 0 1 0 -1.0 0M23.3 2.1m-0.4 0a0.4 0.4 0 1 0 0.9 0a0.4 0.4 0 1 0 -0.9 0M23.8 18.1m-0.4 0a0.4 0.4 0 1 0 0.8 0a0.4 0.4 0 1 0 -0.8 0M29.2 17.8m-0.5 0a0.5 0.5 0 1 0 1.0 0a0.5 0.5 0 1 0 -1.0 0M16.8 29.5m-0.7 0a0.7 0.7 0 1 0 1.4 0a0.7 0.7 0 1 0 -1.4 0M30.0 19.2m-0.5 0a0.5 0.5 0 1 0 1.0 0a0.5 0.5 0 1 0 -1.0 0M22.2 8.6m-0.5 0a0.5 0.5 0 1 0 1.1 0a0.5 0.5 0 1 0 -1.1 0M21.1 15.4m-0.7 0a0.7 0.7 0 1 0 1.4 0a0.7 0.7 0 1 0 -1.4 0M18.5 20.4m-0.6 0a0.6 0.6 0 1 0 1.2 0a0.6 0.6 0 1 0 -1.2 0M13.8 3.7m-0.6 0a0.6 0.6 0 1 0 1.1 0a0.6 0.6 0 1 0 -1.1 0M17.7 11.9m-0.7 0a0.7 0.7 0 1 0 1.5 0a0.7 0.7 0 1 0 -1.5 0M28.0 7.1m-0.6 0a0.6 0.6 0 1 0 1.2 0a0.6 0.6 0 1 0 -1.2 0M1.2 15.0m-0.6 0a0.6 0.6 0 1 0 1.3 0a0.6 0.6 0 1 0 -1.3 0M15.8 9.8m-0.6 0a0.6 0.6 0 1 0 1.3 0a0.6 0.6 0 1 0 -1.3 0M27.1 7.8m-0.4 0a0.4 0.4 0 1 0 0.8 0a0.4 0.4 0 1 0 -0.8 0M15.7 12.7m-0.7 0a0.7 0.7 0 1 0 1.3 0a0.7 0.7 0 1 0 -1.3 0M25.6 18.3m-0.6 0a0.6 0.6 0 1 0 1.2 0a0.6 0.6 0 1 0 -1.2 0M20.8 18.3m-0.5 0a0.5 0.5 0 1 0 0.9 0a0.5 0.5 0 1 0 -0.9 0M2.5 10.6m-0.7 0a0.7 0.7 0 1 0 1.5 0a0.7 0.7 0 1 0 -1.5 0M9.9 23.1m-0.5 0a0.5 0.5 0 1 0 1.0 0a0.5 0.5 0 1 0 -1.0 0M26.7 23.3m-0.6 0a0.6 0.6 0 1 0 1.1 0a0.6 0.6 0 1 0 -1.1 0M23.1 5.3m-0.4 0a0.4 0.4 0 1 0 0.7 0a0.4 0.4 0 1 0 -0.7 0M11.3 12.5m-0.7 0a0.7 0.7 0 1 0 1.5 0a0.7 0.7 0 1 0 -1.5 0M5.6 9.1m-0.7 0a0.7 0.7 0 1 0 1.3 0a0.7 0.7 0 1 0 -1.3 0" fill="#f4f4ea" fill-opacity="0.45"/><path d="M0.1 19.4m-0.8 0a0.8 0.8 0 1 0 1.6 0a0.8 0.8 0 1 0 -1.6 0M2.3 21.3m-0.5 0a0.5 0.5 0 1 0 1.0 0a0.5 0.5 0 1 0 -1.0 0M15.8 2.8m-0.8 0a0.8 0.8 0 1 0 1.6 0a0.8 0.8 0 1 0 -1.6 0M3.5 13.1m-0.4 0a0.4 0.4 0 1 0 0.8 0a0.4 0.4 0 1 0 -0.8 0M13.0 18.5m-0.6 0a0.6 0.6 0 1 0 1.1 0a0.6 0.6 0 1 0 -1.1 0M30.3 20.6m-0.5 0a0.5 0.5 0 1 0 1.0 0a0.5 0.5 0 1 0 -1.0 0M26.9 12.0m-0.5 0a0.5 0.5 0 1 0 1.0 0a0.5 0.5 0 1 0 -1.0 0M16.1 6.9m-0.5 0a0.5 0.5 0 1 0 1.1 0a0.5 0.5 0 1 0 -1.1 0M5.5 21.6m-0.4 0a0.4 0.4 0 1 0 0.7 0a0.4 0.4 0 1 0 -0.7 0M14.2 6.5m-0.5 0a0.5 0.5 0 1 0 1.0 0a0.5 0.5 0 1 0 -1.0 0M6.8 18.8m-0.8 0a0.8 0.8 0 1 0 1.6 0a0.8 0.8 0 1 0 -1.6 0M29.3 27.7m-0.4 0a0.4 0.4 0 1 0 0.8 0a0.4 0.4 0 1 0 -0.8 0M17.7 22.3m-0.8 0a0.8 0.8 0 1 0 1.5 0a0.8 0.8 0 1 0 -1.5 0M23.6 12.9m-0.6 0a0.6 0.6 0 1 0 1.2 0a0.6 0.6 0 1 0 -1.2 0M24.5 18.0m-0.5 0a0.5 0.5 0 1 0 1.0 0a0.5 0.5 0 1 0 -1.0 0M28.2 16.6m-0.7 0a0.7 0.7 0 1 0 1.4 0a0.7 0.7 0 1 0 -1.4 0M24.6 22.0m-0.4 0a0.4 0.4 0 1 0 0.9 0a0.4 0.4 0 1 0 -0.9 0M12.2 7.6m-0.5 0a0.5 0.5 0 1 0 1.1 0a0.5 0.5 0 1 0 -1.1 0M29.3 0.2m-0.5 0a0.5 0.5 0 1 0 1.0 0a0.5 0.5 0 1 0 -1.0 0M10.0 15.5m-0.5 0a0.5 0.5 0 1 0 1.0 0a0.5 0.5 0 1 0 -1.0 0M7.8 1.4m-0.7 0a0.7 0.7 0 1 0 1.4 0a0.7 0.7 0 1 0 -1.4 0M20.4 10.5m-0.7 0a0.7 0.7 0 1 0 1.4 0a0.7 0.7 0 1 0 -1.4 0M24.5 25.9m-0.4 0a0.4 0.4 0 1 0 0.8 0a0.4 0.4 0 1 0 -0.8 0M25.5 11.1m-0.7 0a0.7 0.7 0 1 0 1.4 0a0.7 0.7 0 1 0 -1.4 0M25.1 28.7m-0.8 0a0.8 0.8 0 1 0 1.6 0a0.8 0.8 0 1 0 -1.6 0M16.9 0.7m-0.8 0a0.8 0.8 0 1 0 1.5 0a0.8 0.8 0 1 0 -1.5 0M0.2 3.9m-0.5 0a0.5 0.5 0 1 0 1.1 0a0.5 0.5 0 1 0 -1.1 0M19.7 14.5m-0.6 0a0.6 0.6 0 1 0 1.3 0a0.6 0.6 0 1 0 -1.3 0M26.4 27.7m-0.4 0a0.4 0.4 0 1 0 0.7 0a0.4 0.4 0 1 0 -0.7 0M0.6 4.8m-0.7 0a0.7 0.7 0 1 0 1.4 0a0.7 0.7 0 1 0 -1.4 0M21.4 29.6m-0.7 0a0.7 0.7 0 1 0 1.3 0a0.7 0.7 0 1 0 -1.3 0M28.9 11.2m-0.5 0a0.5 0.5 0 1 0 1.0 0a0.5 0.5 0 1 0 -1.0 0M3.8 13.5m-0.5 0a0.5 0.5 0 1 0 1.0 0a0.5 0.5 0 1 0 -1.0 0M23.5 10.5m-0.5 0a0.5 0.5 0 1 0 1.0 0a0.5 0.5 0 1 0 -1.0 0M17.5 26.0m-0.6 0a0.6 0.6 0 1 0 1.3 0a0.6 0.6 0 1 0 -1.3 0M3.7 18.2m-0.6 0a0.6 0.6 0 1 0 1.1 0a0.6 0.6 0 1 0 -1.1 0M17.0 18.5m-0.6 0a0.6 0.6 0 1 0 1.2 0a0.6 0.6 0 1 0 -1.2 0M10.4 11.6m-0.8 0a0.8 0.8 0 1 0 1.5 0a0.8 0.8 0 1 0 -1.5 0M12.4 6.4m-0.5 0a0.5 0.5 0 1 0 1.0 0a0.5 0.5 0 1 0 -1.0 0M19.1 26.6m-0.4 0a0.4 0.4 0 1 0 0.8 0a0.4 0.4 0 1 0 -0.8 0M20.9 5.3m-0.5 0a0.5 0.5 0 1 0 1.1 0a0.5 0.5 0 1 0 -1.1 0M2.1 21.3m-0.4 0a0.4 0.4 0 1 0 0.9 0a0.4 0.4 0 1 0 -0.9 0M19.8 19.8m-0.6 0a0.6 0.6 0 1 0 1.2 0a0.6 0.6 0 1 0 -1.2 0M23.0 9.6m-0.4 0a0.4 0.4 0 1 0 0.8 0a0.4 0.4 0 1 0 -0.8 0M27.6 24.5m-0.5 0a0.5 0.5 0 1 0 1.1 0a0.5 0.5 0 1 0 -1.1 0M28.0 4.7m-0.7 0a0.7 0.7 0 1 0 1.5 0a0.7 0.7 0 1 0 -1.5 0M4.9 3.8m-0.7 0a0.7 0.7 0 1 0 1.4 0a0.7 0.7 0 1 0 -1.4 0M4.5 7.1m-0.7 0a0.7 0.7 0 1 0 1.5 0a0.7 0.7 0 1 0 -1.5 0M24.5 8.1m-0.6 0a0.6 0.6 0 1 0 1.2 0a0.6 0.6 0 1 0 -1.2 0M24.4 30.1m-0.7 0a0.7 0.7 0 1 0 1.4 0a0.7 0.7 0 1 0 -1.4 0M8.6 9.7m-0.5 0a0.5 0.5 0 1 0 1.0 0a0.5 0.5 0 1 0 -1.0 0M21.0 26.9m-0.6 0a0.6 0.6 0 1 0 1.3 0a0.6 0.6 0 1 0 -1.3 0M25.8 0.6m-0.4 0a0.4 0.4 0 1 0 0.8 0a0.4 0.4 0 1 0 -0.8 0M17.6 21.7m-0.7 0a0.7 0.7 0 1 0 1.4 0a0.7 0.7 0 1 0 -1.4 0M23.3 8.8m-0.7 0a0.7 0.7 0 1 0 1.4 0a0.7 0.7 0 1 0 -1.4 0M6.4 29.6m-0.8 0a0.8 0.8 0 1 0 1.5 0a0.8 0.8 0 1 0 -1.5 0M11.1 2.9m-0.6 0a0.6 0.6 0 1 0 1.1 0a0.6 0.6 0 1 0 -1.1 0M28.3 9.8m-0.4 0a0.4 0.4 0 1 0 0.7 0a0.4 0.4 0 1 0 -0.7 0M19.3 25.6m-0.7 0a0.7 0.7 0 1 0 1.3 0a0.7 0.7 0 1 0 -1.3 0M28.0 16.5m-0.5 0a0.5 0.5 0 1 0 1.1 0a0.5 0.5 0 1 0 -1.1 0M3.6 20.2m-0.4 0a0.4 0.4 0 1 0 0.9 0a0.4 0.4 0 1 0 -0.9 0M30.8 17.4m-0.5 0a0.5 0.5 0 1 0 0.9 0a0.5 0.5 0 1 0 -0.9 0M17.0 7.7m-0.7 0a0.7 0.7 0 1 0 1.5 0a0.7 0.7 0 1 0 -1.5 0M4.4 9.3m-0.4 0a0.4 0.4 0 1 0 0.9 0a0.4 0.4 0 1 0 -0.9 0M4.7 2.5m-0.5 0a0.5 0.5 0 1 0 0.9 0a0.5 0.5 0 1 0 -0.9 0M27.2 13.5m-0.8 0a0.8 0.8 0 1 0 1.6 0a0.8 0.8 0 1 0 -1.6 0M3.3 8.5m-0.7 0a0.7 0.7 0 1 0 1.3 0a0.7 0.7 0 1 0 -1.3 0M2.6 0.2m-0.5 0a0.5 0.5 0 1 0 0.9 0a0.5 0.5 0 1 0 -0.9 0M21.1 26.8m-0.8 0a0.8 0.8 0 1 0 1.5 0a0.8 0.8 0 1 0 -1.5 0M2.9 27.5m-0.4 0a0.4 0.4 0 1 0 0.8 0a0.4 0.4 0 1 0 -0.8 0M5.2 30.7m-0.7 0a0.7 0.7 0 1 0 1.5 0a0.7 0.7 0 1 0 -1.5 0M24.9 12.8m-0.4 0a0.4 0.4 0 1 0 0.8 0a0.4 0.4 0 1 0 -0.8 0M30.7 0.2m-0.6 0a0.6 0.6 0 1 0 1.1 0a0.6 0.6 0 1 0 -1.1 0M2.3 10.5m-0.4 0a0.4 0.4 0 1 0 0.7 0a0.4 0.4 0 1 0 -0.7 0M2.8 2.5m-0.7 0a0.7 0.7 0 1 0 1.4 0a0.7 0.7 0 1 0 -1.4 0M14.7 1.6m-0.7 0a0.7 0.7 0 1 0 1.4 0a0.7 0.7 0 1 0 -1.4 0M21.9 29.5m-0.4 0a0.4 0.4 0 1 0 0.8 0a0.4 0.4 0 1 0 -0.8 0M9.6 16.4m-0.6 0a0.6 0.6 0 1 0 1.1 0a0.6 0.6 0 1 0 -1.1 0M6.1 0.2m-0.6 0a0.6 0.6 0 1 0 1.1 0a0.6 0.6 0 1 0 -1.1 0M5.3 30.2m-0.7 0a0.7 0.7 0 1 0 1.4 0a0.7 0.7 0 1 0 -1.4 0M25.6 25.7m-0.4 0a0.4 0.4 0 1 0 0.7 0a0.4 0.4 0 1 0 -0.7 0M8.8 10.4m-0.8 0a0.8 0.8 0 1 0 1.5 0a0.8 0.8 0 1 0 -1.5 0M0.8 26.1m-0.5 0a0.5 0.5 0 1 0 1.1 0a0.5 0.5 0 1 0 -1.1 0M19.3 0.9m-0.6 0a0.6 0.6 0 1 0 1.1 0a0.6 0.6 0 1 0 -1.1 0M1.3 10.8m-0.4 0a0.4 0.4 0 1 0 0.9 0a0.4 0.4 0 1 0 -0.9 0M3.2 20.8m-0.6 0a0.6 0.6 0 1 0 1.3 0a0.6 0.6 0 1 0 -1.3 0M11.7 5.8m-0.5 0a0.5 0.5 0 1 0 1.1 0a0.5 0.5 0 1 0 -1.1 0M7.6 28.6m-0.4 0a0.4 0.4 0 1 0 0.9 0a0.4 0.4 0 1 0 -0.9 0M24.0 4.6m-0.7 0a0.7 0.7 0 1 0 1.4 0a0.7 0.7 0 1 0 -1.4 0M0.3 29.8m-0.8 0a0.8 0.8 0 1 0 1.5 0a0.8 0.8 0 1 0 -1.5 0M23.5 18.9m-0.4 0a0.4 0.4 0 1 0 0.7 0a0.4 0.4 0 1 0 -0.7 0M24.8 28.3m-0.8 0a0.8 0.8 0 1 0 1.6 0a0.8 0.8 0 1 0 -1.6 0M18.4 1.1m-0.8 0a0.8 0.8 0 1 0 1.5 0a0.8 0.8 0 1 0 -1.5 0M21.6 25.8m-0.4 0a0.4 0.4 0 1 0 0.8 0a0.4 0.4 0 1 0 -0.8 0M14.9 21.0m-0.6 0a0.6 0.6 0 1 0 1.3 0a0.6 0.6 0 1 0 -1.3 0M29.9 6.3m-0.8 0a0.8 0.8 0 1 0 1.6 0a0.8 0.8 0 1 0 -1.6 0M22.8 7.6m-0.5 0a0.5 0.5 0 1 0 1.0 0a0.5 0.5 0 1 0 -1.0 0M15.7 19.5m-0.4 0a0.4 0.4 0 1 0 0.8 0a0.4 0.4 0 1 0 -0.8 0M18.6 25.0m-0.7 0a0.7 0.7 0 1 0 1.4 0a0.7 0.7 0 1 0 -1.4 0M22.3 12.8m-0.6 0a0.6 0.6 0 1 0 1.2 0a0.6 0.6 0 1 0 -1.2 0M19.0 19.0m-0.6 0a0.6 0.6 0 1 0 1.2 0a0.6 0.6 0 1 0 -1.2 0M15.7 13.4m-0.4 0a0.4 0.4 0 1 0 0.8 0a0.4 0.4 0 1 0 -0.8 0M29.6 25.4m-0.7 0a0.7 0.7 0 1 0 1.5 0a0.7 0.7 0 1 0 -1.5 0M26.0 11.7m-0.5 0a0.5 0.5 0 1 0 1.0 0a0.5 0.5 0 1 0 -1.0 0M27.4 4.1m-0.6 0a0.6 0.6 0 1 0 1.1 0a0.6 0.6 0 1 0 -1.1 0M0.7 30.7m-0.4 0a0.4 0.4 0 1 0 0.7 0a0.4 0.4 0 1 0 -0.7 0M29.6 24.1m-0.5 0a0.5 0.5 0 1 0 1.1 0a0.5 0.5 0 1 0 -1.1 0M16.3 25.1m-0.6 0a0.6 0.6 0 1 0 1.3 0a0.6 0.6 0 1 0 -1.3 0M11.5 6.7m-0.5 0a0.5 0.5 0 1 0 0.9 0a0.5 0.5 0 1 0 -0.9 0M6.9 18.8m-0.4 0a0.4 0.4 0 1 0 0.8 0a0.4 0.4 0 1 0 -0.8 0M1.6 16.3m-0.4 0a0.4 0.4 0 1 0 0.8 0a0.4 0.4 0 1 0 -0.8 0M19.2 11.3m-0.6 0a0.6 0.6 0 1 0 1.2 0a0.6 0.6 0 1 0 -1.2 0M22.0 16.5m-0.5 0a0.5 0.5 0 1 0 1.1 0a0.5 0.5 0 1 0 -1.1 0M21.9 17.1m-0.5 0a0.5 0.5 0 1 0 1.1 0a0.5 0.5 0 1 0 -1.1 0M25.9 8.6m-0.5 0a0.5 0.5 0 1 0 1.0 0a0.5 0.5 0 1 0 -1.0 0M14.0 26.4m-0.6 0a0.6 0.6 0 1 0 1.1 0a0.6 0.6 0 1 0 -1.1 0M27.3 22.2m-0.5 0a0.5 0.5 0 1 0 0.9 0a0.5 0.5 0 1 0 -0.9 0M13.6 28.9m-0.4 0a0.4 0.4 0 1 0 0.8 0a0.4 0.4 0 1 0 -0.8 0" fill="#f4f4ea" fill-opacity="0.7"/><path d="M11.8 30.9m-0.6 0a0.6 0.6 0 1 0 1.1 0a0.6 0.6 0 1 0 -1.1 0M25.1 21.4m-0.6 0a0.6 0.6 0 1 0 1.2 0a0.6 0.6 0 1 0 -1.2 0M24.7 2.7m-0.8 0a0.8 0.8 0 1 0 1.5 0a0.8 0.8 0 1 0 -1.5 0M17.2 15.7m-0.4 0a0.4 0.4 0 1 0 0.8 0a0.4 0.4 0 1 0 -0.8 0M7.3 11.3m-0.6 0a0.6 0.6 0 1 0 1.2 0a0.6 0.6 0 1 0 -1.2 0M15.4 18.7m-0.7 0a0.7 0.7 0 1 0 1.4 0a0.7 0.7 0 1 0 -1.4 0M14.4 17.0m-0.4 0a0.4 0.4 0 1 0 0.9 0a0.4 0.4 0 1 0 -0.9 0M19.2 30.5m-0.8 0a0.8 0.8 0 1 0 1.6 0a0.8 0.8 0 1 0 -1.6 0M4.8 28.8m-0.7 0a0.7 0.7 0 1 0 1.5 0a0.7 0.7 0 1 0 -1.5 0M25.8 19.8m-0.5 0a0.5 0.5 0 1 0 0.9 0a0.5 0.5 0 1 0 -0.9 0M15.6 15.2m-0.5 0a0.5 0.5 0 1 0 1.0 0a0.5 0.5 0 1 0 -1.0 0M19.1 1.4m-0.5 0a0.5 0.5 0 1 0 1.0 0a0.5 0.5 0 1 0 -1.0 0M19.8 13.8m-0.7 0a0.7 0.7 0 1 0 1.4 0a0.7 0.7 0 1 0 -1.4 0M8.8 7.9m-0.7 0a0.7 0.7 0 1 0 1.3 0a0.7 0.7 0 1 0 -1.3 0M7.5 13.5m-0.8 0a0.8 0.8 0 1 0 1.6 0a0.8 0.8 0 1 0 -1.6 0M19.8 11.9m-0.4 0a0.4 0.4 0 1 0 0.8 0a0.4 0.4 0 1 0 -0.8 0M29.0 21.4m-0.6 0a0.6 0.6 0 1 0 1.2 0a0.6 0.6 0 1 0 -1.2 0M18.9 6.6m-0.6 0a0.6 0.6 0 1 0 1.2 0a0.6 0.6 0 1 0 -1.2 0M2.6 10.3m-0.7 0a0.7 0.7 0 1 0 1.3 0a0.7 0.7 0 1 0 -1.3 0M9.7 21.6m-0.7 0a0.7 0.7 0 1 0 1.4 0a0.7 0.7 0 1 0 -1.4 0M15.1 13.8m-0.4 0a0.4 0.4 0 1 0 0.9 0a0.4 0.4 0 1 0 -0.9 0M26.3 21.3m-0.5 0a0.5 0.5 0 1 0 1.0 0a0.5 0.5 0 1 0 -1.0 0M15.5 12.1m-0.6 0a0.6 0.6 0 1 0 1.2 0a0.6 0.6 0 1 0 -1.2 0M12.6 21.7m-0.7 0a0.7 0.7 0 1 0 1.4 0a0.7 0.7 0 1 0 -1.4 0M20.9 20.6m-0.8 0a0.8 0.8 0 1 0 1.6 0a0.8 0.8 0 1 0 -1.6 0M12.7 19.5m-0.5 0a0.5 0.5 0 1 0 1.0 0a0.5 0.5 0 1 0 -1.0 0M9.9 3.9m-0.6 0a0.6 0.6 0 1 0 1.3 0a0.6 0.6 0 1 0 -1.3 0M18.9 24.3m-0.5 0a0.5 0.5 0 1 0 1.1 0a0.5 0.5 0 1 0 -1.1 0M16.2 1.6m-0.7 0a0.7 0.7 0 1 0 1.5 0a0.7 0.7 0 1 0 -1.5 0M0.4 5.3m-0.4 0a0.4 0.4 0 1 0 0.8 0a0.4 0.4 0 1 0 -0.8 0M21.2 16.6m-0.6 0a0.6 0.6 0 1 0 1.1 0a0.6 0.6 0 1 0 -1.1 0M1.0 21.3m-0.6 0a0.6 0.6 0 1 0 1.2 0a0.6 0.6 0 1 0 -1.2 0M18.4 18.2m-0.7 0a0.7 0.7 0 1 0 1.4 0a0.7 0.7 0 1 0 -1.4 0M6.4 23.5m-0.5 0a0.5 0.5 0 1 0 1.1 0a0.5 0.5 0 1 0 -1.1 0M25.7 24.8m-0.5 0a0.5 0.5 0 1 0 1.1 0a0.5 0.5 0 1 0 -1.1 0M18.8 29.5m-0.8 0a0.8 0.8 0 1 0 1.6 0a0.8 0.8 0 1 0 -1.6 0M10.6 27.6m-0.6 0a0.6 0.6 0 1 0 1.3 0a0.6 0.6 0 1 0 -1.3 0M11.2 7.1m-0.5 0a0.5 0.5 0 1 0 1.0 0a0.5 0.5 0 1 0 -1.0 0M29.2 18.5m-0.4 0a0.4 0.4 0 1 0 0.8 0a0.4 0.4 0 1 0 -0.8 0M10.3 20.4m-0.5 0a0.5 0.5 0 1 0 1.1 0a0.5 0.5 0 1 0 -1.1 0M10.2 16.7m-0.7 0a0.7 0.7 0 1 0 1.5 0a0.7 0.7 0 1 0 -1.5 0M12.1 14.4m-0.5 0a0.5 0.5 0 1 0 1.0 0a0.5 0.5 0 1 0 -1.0 0M28.0 6.1m-0.6 0a0.6 0.6 0 1 0 1.2 0a0.6 0.6 0 1 0 -1.2 0M15.0 20.4m-0.7 0a0.7 0.7 0 1 0 1.3 0a0.7 0.7 0 1 0 -1.3 0M3.4 19.1m-0.4 0a0.4 0.4 0 1 0 0.9 0a0.4 0.4 0 1 0 -0.9 0M2.4 28.5m-0.6 0a0.6 0.6 0 1 0 1.2 0a0.6 0.6 0 1 0 -1.2 0M0.8 24.7m-0.6 0a0.6 0.6 0 1 0 1.2 0a0.6 0.6 0 1 0 -1.2 0M24.8 23.1m-0.6 0a0.6 0.6 0 1 0 1.2 0a0.6 0.6 0 1 0 -1.2 0M11.0 1.2m-0.5 0a0.5 0.5 0 1 0 1.0 0a0.5 0.5 0 1 0 -1.0 0M19.3 17.2m-0.4 0a0.4 0.4 0 1 0 0.7 0a0.4 0.4 0 1 0 -0.7 0M28.5 7.4m-0.6 0a0.6 0.6 0 1 0 1.2 0a0.6 0.6 0 1 0 -1.2 0M18.9 23.0m-0.8 0a0.8 0.8 0 1 0 1.6 0a0.8 0.8 0 1 0 -1.6 0M27.8 28.9m-0.6 0a0.6 0.6 0 1 0 1.2 0a0.6 0.6 0 1 0 -1.2 0M30.5 26.2m-0.7 0a0.7 0.7 0 1 0 1.3 0a0.7 0.7 0 1 0 -1.3 0M19.3 10.2m-0.8 0a0.8 0.8 0 1 0 1.6 0a0.8 0.8 0 1 0 -1.6 0M4.9 2.7m-0.8 0a0.8 0.8 0 1 0 1.5 0a0.8 0.8 0 1 0 -1.5 0M24.6 30.1m-0.8 0a0.8 0.8 0 1 0 1.5 0a0.8 0.8 0 1 0 -1.5 0M7.8 12.2m-0.6 0a0.6 0.6 0 1 0 1.2 0a0.6 0.6 0 1 0 -1.2 0M14.0 16.1m-0.8 0a0.8 0.8 0 1 0 1.6 0a0.8 0.8 0 1 0 -1.6 0M20.8 0.6m-0.4 0a0.4 0.4 0 1 0 0.8 0a0.4 0.4 0 1 0 -0.8 0M8.2 22.4m-0.4 0a0.4 0.4 0 1 0 0.8 0a0.4 0.4 0 1 0 -0.8 0M0.1 6.1m-0.6 0a0.6 0.6 0 1 0 1.1 0a0.6 0.6 0 1 0 -1.1 0M6.4 24.2m-0.8 0a0.8 0.8 0 1 0 1.6 0a0.8 0.8 0 1 0 -1.6 0M1.6 24.7m-0.6 0a0.6 0.6 0 1 0 1.3 0a0.6 0.6 0 1 0 -1.3 0M26.0 5.7m-0.6 0a0.6 0.6 0 1 0 1.3 0a0.6 0.6 0 1 0 -1.3 0M14.6 19.9m-0.5 0a0.5 0.5 0 1 0 1.1 0a0.5 0.5 0 1 0 -1.1 0M17.9 17.0m-0.5 0a0.5 0.5 0 1 0 1.1 0a0.5 0.5 0 1 0 -1.1 0M5.5 21.2m-0.5 0a0.5 0.5 0 1 0 1.0 0a0.5 0.5 0 1 0 -1.0 0M24.5 8.0m-0.7 0a0.7 0.7 0 1 0 1.3 0a0.7 0.7 0 1 0 -1.3 0M20.4 21.5m-0.4 0a0.4 0.4 0 1 0 0.7 0a0.4 0.4 0 1 0 -0.7 0M20.5 16.2m-0.4 0a0.4 0.4 0 1 0 0.8 0a0.4 0.4 0 1 0 -0.8 0M11.5 15.6m-0.6 0a0.6 0.6 0 1 0 1.2 0a0.6 0.6 0 1 0 -1.2 0M4.5 25.1m-0.6 0a0.6 0.6 0 1 0 1.1 0a0.6 0.6 0 1 0 -1.1 0M2.7 30.1m-0.7 0a0.7 0.7 0 1 0 1.5 0a0.7 0.7 0 1 0 -1.5 0M3.1 23.4m-0.4 0a0.4 0.4 0 1 0 0.9 0a0.4 0.4 0 1 0 -0.9 0M5.5 25.3m-0.5 0a0.5 0.5 0 1 0 1.0 0a0.5 0.5 0 1 0 -1.0 0M28.2 24.6m-0.5 0a0.5 0.5 0 1 0 1.1 0a0.5 0.5 0 1 0 -1.1 0M28.8 24.0m-0.7 0a0.7 0.7 0 1 0 1.4 0a0.7 0.7 0 1 0 -1.4 0M22.2 30.6m-0.4 0a0.4 0.4 0 1 0 0.8 0a0.4 0.4 0 1 0 -0.8 0M5.4 21.1m-0.7 0a0.7 0.7 0 1 0 1.5 0a0.7 0.7 0 1 0 -1.5 0M8.0 3.9m-0.4 0a0.4 0.4 0 1 0 0.8 0a0.4 0.4 0 1 0 -0.8 0M6.1 23.0m-0.4 0a0.4 0.4 0 1 0 0.9 0a0.4 0.4 0 1 0 -0.9 0M10.1 0.3m-0.7 0a0.7 0.7 0 1 0 1.5 0a0.7 0.7 0 1 0 -1.5 0M31.0 5.4m-0.6 0a0.6 0.6 0 1 0 1.1 0a0.6 0.6 0 1 0 -1.1 0M16.8 4.3m-0.6 0a0.6 0.6 0 1 0 1.2 0a0.6 0.6 0 1 0 -1.2 0M11.4 22.0m-0.6 0a0.6 0.6 0 1 0 1.3 0a0.6 0.6 0 1 0 -1.3 0M10.7 15.9m-0.4 0a0.4 0.4 0 1 0 0.8 0a0.4 0.4 0 1 0 -0.8 0M11.0 21.7m-0.6 0a0.6 0.6 0 1 0 1.2 0a0.6 0.6 0 1 0 -1.2 0M22.6 14.4m-0.7 0a0.7 0.7 0 1 0 1.4 0a0.7 0.7 0 1 0 -1.4 0M22.5 12.6m-0.7 0a0.7 0.7 0 1 0 1.4 0a0.7 0.7 0 1 0 -1.4 0M20.9 18.0m-0.6 0a0.6 0.6 0 1 0 1.2 0a0.6 0.6 0 1 0 -1.2 0M12.6 10.6m-0.4 0a0.4 0.4 0 1 0 0.7 0a0.4 0.4 0 1 0 -0.7 0M6.4 0.3m-0.4 0a0.4 0.4 0 1 0 0.8 0a0.4 0.4 0 1 0 -0.8 0M27.9 25.9m-0.7 0a0.7 0.7 0 1 0 1.3 0a0.7 0.7 0 1 0 -1.3 0M11.2 5.8m-0.4 0a0.4 0.4 0 1 0 0.7 0a0.4 0.4 0 1 0 -0.7 0M0.6 14.2m-0.8 0a0.8 0.8 0 1 0 1.5 0a0.8 0.8 0 1 0 -1.5 0M28.1 11.3m-0.5 0a0.5 0.5 0 1 0 1.0 0a0.5 0.5 0 1 0 -1.0 0M30.5 0.7m-0.5 0a0.5 0.5 0 1 0 1.1 0a0.5 0.5 0 1 0 -1.1 0M25.7 6.8m-0.7 0a0.7 0.7 0 1 0 1.3 0a0.7 0.7 0 1 0 -1.3 0M14.4 19.5m-0.7 0a0.7 0.7 0 1 0 1.4 0a0.7 0.7 0 1 0 -1.4 0M12.1 15.5m-0.7 0a0.7 0.7 0 1 0 1.5 0a0.7 0.7 0 1 0 -1.5 0M19.2 0.3m-0.6 0a0.6 0.6 0 1 0 1.2 0a0.6 0.6 0 1 0 -1.2 0M25.5 9.6m-0.5 0a0.5 0.5 0 1 0 0.9 0a0.5 0.5 0 1 0 -0.9 0M27.5 9.1m-0.6 0a0.6 0.6 0 1 0 1.3 0a0.6 0.6 0 1 0 -1.3 0M2.5 16.2m-0.4 0a0.4 0.4 0 1 0 0.8 0a0.4 0.4 0 1 0 -0.8 0M2.0 13.8m-0.8 0a0.8 0.8 0 1 0 1.6 0a0.8 0.8 0 1 0 -1.6 0M11.8 1.7m-0.5 0a0.5 0.5 0 1 0 1.0 0a0.5 0.5 0 1 0 -1.0 0" fill="#f4f4ea" fill-opacity="0.95"/></pattern>
<pattern id="pw3" width="29" height="29" patternUnits="userSpaceOnUse"><path d="M7.5 19.9m-0.5 0a0.5 0.5 0 1 0 1.0 0a0.5 0.5 0 1 0 -1.0 0M21.3 3.8m-0.5 0a0.5 0.5 0 1 0 0.9 0a0.5 0.5 0 1 0 -0.9 0M17.6 0.4m-0.4 0a0.4 0.4 0 1 0 0.8 0a0.4 0.4 0 1 0 -0.8 0M11.5 3.8m-0.4 0a0.4 0.4 0 1 0 0.9 0a0.4 0.4 0 1 0 -0.9 0M16.4 25.7m-0.5 0a0.5 0.5 0 1 0 1.0 0a0.5 0.5 0 1 0 -1.0 0M0.1 12.3m-0.6 0a0.6 0.6 0 1 0 1.1 0a0.6 0.6 0 1 0 -1.1 0M21.1 9.9m-0.4 0a0.4 0.4 0 1 0 0.8 0a0.4 0.4 0 1 0 -0.8 0M22.8 16.1m-0.6 0a0.6 0.6 0 1 0 1.1 0a0.6 0.6 0 1 0 -1.1 0M2.7 0.1m-0.6 0a0.6 0.6 0 1 0 1.2 0a0.6 0.6 0 1 0 -1.2 0M2.2 13.6m-0.4 0a0.4 0.4 0 1 0 0.8 0a0.4 0.4 0 1 0 -0.8 0M23.2 10.9m-0.5 0a0.5 0.5 0 1 0 1.0 0a0.5 0.5 0 1 0 -1.0 0M21.4 7.5m-0.5 0a0.5 0.5 0 1 0 1.0 0a0.5 0.5 0 1 0 -1.0 0M7.5 17.1m-0.4 0a0.4 0.4 0 1 0 0.8 0a0.4 0.4 0 1 0 -0.8 0M1.1 11.5m-0.3 0a0.3 0.3 0 1 0 0.7 0a0.3 0.3 0 1 0 -0.7 0M17.4 0.1m-0.5 0a0.5 0.5 0 1 0 1.1 0a0.5 0.5 0 1 0 -1.1 0M13.0 28.8m-0.4 0a0.4 0.4 0 1 0 0.8 0a0.4 0.4 0 1 0 -0.8 0M8.4 12.6m-0.3 0a0.3 0.3 0 1 0 0.7 0a0.3 0.3 0 1 0 -0.7 0M17.5 8.4m-0.4 0a0.4 0.4 0 1 0 0.8 0a0.4 0.4 0 1 0 -0.8 0M1.3 15.5m-0.3 0a0.3 0.3 0 1 0 0.7 0a0.3 0.3 0 1 0 -0.7 0M9.4 25.9m-0.5 0a0.5 0.5 0 1 0 0.9 0a0.5 0.5 0 1 0 -0.9 0M7.7 23.8m-0.3 0a0.3 0.3 0 1 0 0.6 0a0.3 0.3 0 1 0 -0.6 0M22.0 10.8m-0.4 0a0.4 0.4 0 1 0 0.8 0a0.4 0.4 0 1 0 -0.8 0M27.9 8.6m-0.3 0a0.3 0.3 0 1 0 0.7 0a0.3 0.3 0 1 0 -0.7 0M20.3 26.6m-0.3 0a0.3 0.3 0 1 0 0.6 0a0.3 0.3 0 1 0 -0.6 0M0.8 7.5m-0.4 0a0.4 0.4 0 1 0 0.8 0a0.4 0.4 0 1 0 -0.8 0M27.7 27.6m-0.4 0a0.4 0.4 0 1 0 0.8 0a0.4 0.4 0 1 0 -0.8 0M5.6 10.9m-0.4 0a0.4 0.4 0 1 0 0.9 0a0.4 0.4 0 1 0 -0.9 0M4.2 24.4m-0.3 0a0.3 0.3 0 1 0 0.7 0a0.3 0.3 0 1 0 -0.7 0M21.2 12.4m-0.5 0a0.5 0.5 0 1 0 1.1 0a0.5 0.5 0 1 0 -1.1 0M26.5 27.0m-0.5 0a0.5 0.5 0 1 0 1.1 0a0.5 0.5 0 1 0 -1.1 0M2.7 20.7m-0.3 0a0.3 0.3 0 1 0 0.7 0a0.3 0.3 0 1 0 -0.7 0M27.6 9.8m-0.5 0a0.5 0.5 0 1 0 1.0 0a0.5 0.5 0 1 0 -1.0 0M27.0 8.7m-0.6 0a0.6 0.6 0 1 0 1.2 0a0.6 0.6 0 1 0 -1.2 0M25.9 1.8m-0.4 0a0.4 0.4 0 1 0 0.8 0a0.4 0.4 0 1 0 -0.8 0M6.0 27.1m-0.4 0a0.4 0.4 0 1 0 0.8 0a0.4 0.4 0 1 0 -0.8 0M3.7 1.9m-0.4 0a0.4 0.4 0 1 0 0.8 0a0.4 0.4 0 1 0 -0.8 0M9.1 28.8m-0.3 0a0.3 0.3 0 1 0 0.7 0a0.3 0.3 0 1 0 -0.7 0M1.4 6.7m-0.5 0a0.5 0.5 0 1 0 0.9 0a0.5 0.5 0 1 0 -0.9 0M6.1 24.3m-0.3 0a0.3 0.3 0 1 0 0.7 0a0.3 0.3 0 1 0 -0.7 0M24.9 28.0m-0.4 0a0.4 0.4 0 1 0 0.8 0a0.4 0.4 0 1 0 -0.8 0M5.6 4.3m-0.3 0a0.3 0.3 0 1 0 0.7 0a0.3 0.3 0 1 0 -0.7 0M12.5 3.6m-0.4 0a0.4 0.4 0 1 0 0.8 0a0.4 0.4 0 1 0 -0.8 0M23.7 18.0m-0.4 0a0.4 0.4 0 1 0 0.8 0a0.4 0.4 0 1 0 -0.8 0M21.8 1.4m-0.4 0a0.4 0.4 0 1 0 0.9 0a0.4 0.4 0 1 0 -0.9 0M7.9 12.3m-0.5 0a0.5 0.5 0 1 0 1.1 0a0.5 0.5 0 1 0 -1.1 0M21.5 13.3m-0.6 0a0.6 0.6 0 1 0 1.1 0a0.6 0.6 0 1 0 -1.1 0M5.5 25.5m-0.4 0a0.4 0.4 0 1 0 0.7 0a0.4 0.4 0 1 0 -0.7 0M2.4 15.5m-0.5 0a0.5 0.5 0 1 0 1.0 0a0.5 0.5 0 1 0 -1.0 0M1.7 23.1m-0.5 0a0.5 0.5 0 1 0 1.0 0a0.5 0.5 0 1 0 -1.0 0M25.2 13.5m-0.3 0a0.3 0.3 0 1 0 0.6 0a0.3 0.3 0 1 0 -0.6 0M5.9 21.2m-0.4 0a0.4 0.4 0 1 0 0.9 0a0.4 0.4 0 1 0 -0.9 0M4.3 23.0m-0.5 0a0.5 0.5 0 1 0 1.0 0a0.5 0.5 0 1 0 -1.0 0M20.8 2.0m-0.5 0a0.5 0.5 0 1 0 1.1 0a0.5 0.5 0 1 0 -1.1 0M20.9 1.9m-0.5 0a0.5 0.5 0 1 0 0.9 0a0.5 0.5 0 1 0 -0.9 0M18.5 5.1m-0.3 0a0.3 0.3 0 1 0 0.7 0a0.3 0.3 0 1 0 -0.7 0M20.2 14.6m-0.4 0a0.4 0.4 0 1 0 0.9 0a0.4 0.4 0 1 0 -0.9 0M13.3 20.7m-0.5 0a0.5 0.5 0 1 0 1.1 0a0.5 0.5 0 1 0 -1.1 0M7.7 20.9m-0.4 0a0.4 0.4 0 1 0 0.9 0a0.4 0.4 0 1 0 -0.9 0M3.7 9.6m-0.6 0a0.6 0.6 0 1 0 1.2 0a0.6 0.6 0 1 0 -1.2 0M12.8 2.0m-0.6 0a0.6 0.6 0 1 0 1.1 0a0.6 0.6 0 1 0 -1.1 0M27.2 2.5m-0.5 0a0.5 0.5 0 1 0 1.1 0a0.5 0.5 0 1 0 -1.1 0M6.1 9.9m-0.3 0a0.3 0.3 0 1 0 0.7 0a0.3 0.3 0 1 0 -0.7 0M5.6 16.8m-0.4 0a0.4 0.4 0 1 0 0.8 0a0.4 0.4 0 1 0 -0.8 0M2.3 13.1m-0.4 0a0.4 0.4 0 1 0 0.7 0a0.4 0.4 0 1 0 -0.7 0M19.6 0.3m-0.6 0a0.6 0.6 0 1 0 1.2 0a0.6 0.6 0 1 0 -1.2 0M3.9 27.9m-0.3 0a0.3 0.3 0 1 0 0.6 0a0.3 0.3 0 1 0 -0.6 0M7.2 25.1m-0.5 0a0.5 0.5 0 1 0 0.9 0a0.5 0.5 0 1 0 -0.9 0M0.7 9.1m-0.4 0a0.4 0.4 0 1 0 0.7 0a0.4 0.4 0 1 0 -0.7 0M26.6 21.9m-0.4 0a0.4 0.4 0 1 0 0.8 0a0.4 0.4 0 1 0 -0.8 0M7.4 20.1m-0.4 0a0.4 0.4 0 1 0 0.8 0a0.4 0.4 0 1 0 -0.8 0M25.1 3.6m-0.6 0a0.6 0.6 0 1 0 1.1 0a0.6 0.6 0 1 0 -1.1 0M2.6 19.0m-0.4 0a0.4 0.4 0 1 0 0.8 0a0.4 0.4 0 1 0 -0.8 0M8.6 20.0m-0.4 0a0.4 0.4 0 1 0 0.9 0a0.4 0.4 0 1 0 -0.9 0M26.9 23.6m-0.6 0a0.6 0.6 0 1 0 1.1 0a0.6 0.6 0 1 0 -1.1 0M11.5 14.2m-0.5 0a0.5 0.5 0 1 0 0.9 0a0.5 0.5 0 1 0 -0.9 0M23.9 1.3m-0.6 0a0.6 0.6 0 1 0 1.2 0a0.6 0.6 0 1 0 -1.2 0M28.5 2.9m-0.6 0a0.6 0.6 0 1 0 1.2 0a0.6 0.6 0 1 0 -1.2 0M28.3 23.0m-0.6 0a0.6 0.6 0 1 0 1.1 0a0.6 0.6 0 1 0 -1.1 0M0.5 12.0m-0.4 0a0.4 0.4 0 1 0 0.7 0a0.4 0.4 0 1 0 -0.7 0M9.6 15.7m-0.4 0a0.4 0.4 0 1 0 0.9 0a0.4 0.4 0 1 0 -0.9 0M3.5 16.9m-0.6 0a0.6 0.6 0 1 0 1.1 0a0.6 0.6 0 1 0 -1.1 0M12.8 10.6m-0.5 0a0.5 0.5 0 1 0 1.1 0a0.5 0.5 0 1 0 -1.1 0M26.8 16.0m-0.3 0a0.3 0.3 0 1 0 0.7 0a0.3 0.3 0 1 0 -0.7 0M9.6 25.3m-0.6 0a0.6 0.6 0 1 0 1.1 0a0.6 0.6 0 1 0 -1.1 0M12.8 3.7m-0.4 0a0.4 0.4 0 1 0 0.9 0a0.4 0.4 0 1 0 -0.9 0M0.1 3.1m-0.6 0a0.6 0.6 0 1 0 1.1 0a0.6 0.6 0 1 0 -1.1 0M2.9 11.3m-0.6 0a0.6 0.6 0 1 0 1.1 0a0.6 0.6 0 1 0 -1.1 0M15.8 0.8m-0.4 0a0.4 0.4 0 1 0 0.8 0a0.4 0.4 0 1 0 -0.8 0M20.2 19.7m-0.6 0a0.6 0.6 0 1 0 1.1 0a0.6 0.6 0 1 0 -1.1 0M4.9 1.8m-0.5 0a0.5 0.5 0 1 0 1.1 0a0.5 0.5 0 1 0 -1.1 0M6.6 24.4m-0.3 0a0.3 0.3 0 1 0 0.7 0a0.3 0.3 0 1 0 -0.7 0M6.4 13.6m-0.5 0a0.5 0.5 0 1 0 1.0 0a0.5 0.5 0 1 0 -1.0 0M21.9 8.1m-0.5 0a0.5 0.5 0 1 0 0.9 0a0.5 0.5 0 1 0 -0.9 0M24.3 9.6m-0.5 0a0.5 0.5 0 1 0 1.0 0a0.5 0.5 0 1 0 -1.0 0M18.9 21.8m-0.4 0a0.4 0.4 0 1 0 0.8 0a0.4 0.4 0 1 0 -0.8 0M9.9 9.9m-0.6 0a0.6 0.6 0 1 0 1.1 0a0.6 0.6 0 1 0 -1.1 0M20.3 25.4m-0.3 0a0.3 0.3 0 1 0 0.7 0a0.3 0.3 0 1 0 -0.7 0M15.7 3.5m-0.6 0a0.6 0.6 0 1 0 1.1 0a0.6 0.6 0 1 0 -1.1 0M16.2 25.8m-0.4 0a0.4 0.4 0 1 0 0.7 0a0.4 0.4 0 1 0 -0.7 0M23.4 15.4m-0.6 0a0.6 0.6 0 1 0 1.1 0a0.6 0.6 0 1 0 -1.1 0M1.4 25.7m-0.3 0a0.3 0.3 0 1 0 0.7 0a0.3 0.3 0 1 0 -0.7 0M21.7 19.2m-0.4 0a0.4 0.4 0 1 0 0.7 0a0.4 0.4 0 1 0 -0.7 0M14.0 14.0m-0.5 0a0.5 0.5 0 1 0 1.0 0a0.5 0.5 0 1 0 -1.0 0M26.4 6.6m-0.6 0a0.6 0.6 0 1 0 1.1 0a0.6 0.6 0 1 0 -1.1 0M10.4 27.1m-0.3 0a0.3 0.3 0 1 0 0.7 0a0.3 0.3 0 1 0 -0.7 0M14.2 8.0m-0.6 0a0.6 0.6 0 1 0 1.2 0a0.6 0.6 0 1 0 -1.2 0M12.0 17.3m-0.4 0a0.4 0.4 0 1 0 0.8 0a0.4 0.4 0 1 0 -0.8 0M28.8 17.5m-0.3 0a0.3 0.3 0 1 0 0.7 0a0.3 0.3 0 1 0 -0.7 0M25.4 6.3m-0.3 0a0.3 0.3 0 1 0 0.7 0a0.3 0.3 0 1 0 -0.7 0M7.2 6.8m-0.4 0a0.4 0.4 0 1 0 0.8 0a0.4 0.4 0 1 0 -0.8 0M7.3 23.7m-0.5 0a0.5 0.5 0 1 0 1.1 0a0.5 0.5 0 1 0 -1.1 0M25.9 26.6m-0.4 0a0.4 0.4 0 1 0 0.7 0a0.4 0.4 0 1 0 -0.7 0M28.9 13.5m-0.4 0a0.4 0.4 0 1 0 0.8 0a0.4 0.4 0 1 0 -0.8 0M19.8 24.6m-0.4 0a0.4 0.4 0 1 0 0.7 0a0.4 0.4 0 1 0 -0.7 0M17.4 18.1m-0.4 0a0.4 0.4 0 1 0 0.7 0a0.4 0.4 0 1 0 -0.7 0M7.9 4.7m-0.5 0a0.5 0.5 0 1 0 1.0 0a0.5 0.5 0 1 0 -1.0 0M4.9 22.4m-0.3 0a0.3 0.3 0 1 0 0.6 0a0.3 0.3 0 1 0 -0.6 0M10.2 18.6m-0.5 0a0.5 0.5 0 1 0 1.0 0a0.5 0.5 0 1 0 -1.0 0M21.3 6.4m-0.5 0a0.5 0.5 0 1 0 1.0 0a0.5 0.5 0 1 0 -1.0 0M2.1 17.8m-0.3 0a0.3 0.3 0 1 0 0.6 0a0.3 0.3 0 1 0 -0.6 0M12.8 23.2m-0.5 0a0.5 0.5 0 1 0 1.0 0a0.5 0.5 0 1 0 -1.0 0M28.6 21.8m-0.5 0a0.5 0.5 0 1 0 1.1 0a0.5 0.5 0 1 0 -1.1 0M12.8 18.1m-0.5 0a0.5 0.5 0 1 0 0.9 0a0.5 0.5 0 1 0 -0.9 0M7.9 23.6m-0.4 0a0.4 0.4 0 1 0 0.8 0a0.4 0.4 0 1 0 -0.8 0M23.0 20.4m-0.6 0a0.6 0.6 0 1 0 1.2 0a0.6 0.6 0 1 0 -1.2 0M17.4 24.1m-0.5 0a0.5 0.5 0 1 0 1.0 0a0.5 0.5 0 1 0 -1.0 0M27.7 23.0m-0.4 0a0.4 0.4 0 1 0 0.8 0a0.4 0.4 0 1 0 -0.8 0M17.2 12.1m-0.4 0a0.4 0.4 0 1 0 0.8 0a0.4 0.4 0 1 0 -0.8 0M3.1 6.0m-0.5 0a0.5 0.5 0 1 0 1.0 0a0.5 0.5 0 1 0 -1.0 0M7.6 23.8m-0.4 0a0.4 0.4 0 1 0 0.7 0a0.4 0.4 0 1 0 -0.7 0M11.6 3.9m-0.6 0a0.6 0.6 0 1 0 1.1 0a0.6 0.6 0 1 0 -1.1 0M8.7 13.0m-0.6 0a0.6 0.6 0 1 0 1.2 0a0.6 0.6 0 1 0 -1.2 0M2.9 14.7m-0.5 0a0.5 0.5 0 1 0 1.1 0a0.5 0.5 0 1 0 -1.1 0M5.2 15.6m-0.4 0a0.4 0.4 0 1 0 0.8 0a0.4 0.4 0 1 0 -0.8 0M8.5 11.9m-0.4 0a0.4 0.4 0 1 0 0.7 0a0.4 0.4 0 1 0 -0.7 0M26.5 25.9m-0.5 0a0.5 0.5 0 1 0 0.9 0a0.5 0.5 0 1 0 -0.9 0M16.0 17.4m-0.4 0a0.4 0.4 0 1 0 0.8 0a0.4 0.4 0 1 0 -0.8 0M4.5 18.0m-0.6 0a0.6 0.6 0 1 0 1.2 0a0.6 0.6 0 1 0 -1.2 0M12.1 10.0m-0.4 0a0.4 0.4 0 1 0 0.9 0a0.4 0.4 0 1 0 -0.9 0M4.6 23.5m-0.5 0a0.5 0.5 0 1 0 1.0 0a0.5 0.5 0 1 0 -1.0 0M21.3 6.5m-0.5 0a0.5 0.5 0 1 0 1.0 0a0.5 0.5 0 1 0 -1.0 0M25.4 1.1m-0.5 0a0.5 0.5 0 1 0 1.1 0a0.5 0.5 0 1 0 -1.1 0M24.2 22.7m-0.5 0a0.5 0.5 0 1 0 0.9 0a0.5 0.5 0 1 0 -0.9 0M2.0 18.5m-0.6 0a0.6 0.6 0 1 0 1.1 0a0.6 0.6 0 1 0 -1.1 0M13.8 15.4m-0.6 0a0.6 0.6 0 1 0 1.2 0a0.6 0.6 0 1 0 -1.2 0M6.9 22.6m-0.4 0a0.4 0.4 0 1 0 0.9 0a0.4 0.4 0 1 0 -0.9 0M24.3 10.4m-0.4 0a0.4 0.4 0 1 0 0.8 0a0.4 0.4 0 1 0 -0.8 0M19.7 1.8m-0.5 0a0.5 0.5 0 1 0 1.1 0a0.5 0.5 0 1 0 -1.1 0M23.0 9.4m-0.4 0a0.4 0.4 0 1 0 0.7 0a0.4 0.4 0 1 0 -0.7 0M21.4 11.6m-0.5 0a0.5 0.5 0 1 0 0.9 0a0.5 0.5 0 1 0 -0.9 0M24.5 19.9m-0.5 0a0.5 0.5 0 1 0 1.1 0a0.5 0.5 0 1 0 -1.1 0M14.1 7.5m-0.5 0a0.5 0.5 0 1 0 0.9 0a0.5 0.5 0 1 0 -0.9 0M4.4 27.3m-0.4 0a0.4 0.4 0 1 0 0.7 0a0.4 0.4 0 1 0 -0.7 0M25.8 11.3m-0.6 0a0.6 0.6 0 1 0 1.2 0a0.6 0.6 0 1 0 -1.2 0M16.4 5.1m-0.6 0a0.6 0.6 0 1 0 1.2 0a0.6 0.6 0 1 0 -1.2 0M2.9 0.0m-0.6 0a0.6 0.6 0 1 0 1.1 0a0.6 0.6 0 1 0 -1.1 0M14.4 11.8m-0.3 0a0.3 0.3 0 1 0 0.7 0a0.3 0.3 0 1 0 -0.7 0M3.0 18.5m-0.5 0a0.5 0.5 0 1 0 1.1 0a0.5 0.5 0 1 0 -1.1 0M1.4 16.1m-0.6 0a0.6 0.6 0 1 0 1.1 0a0.6 0.6 0 1 0 -1.1 0M4.6 28.1m-0.4 0a0.4 0.4 0 1 0 0.7 0a0.4 0.4 0 1 0 -0.7 0M12.4 18.9m-0.4 0a0.4 0.4 0 1 0 0.8 0a0.4 0.4 0 1 0 -0.8 0M18.4 10.4m-0.5 0a0.5 0.5 0 1 0 1.0 0a0.5 0.5 0 1 0 -1.0 0M25.7 7.8m-0.5 0a0.5 0.5 0 1 0 1.0 0a0.5 0.5 0 1 0 -1.0 0M0.4 22.3m-0.6 0a0.6 0.6 0 1 0 1.2 0a0.6 0.6 0 1 0 -1.2 0" fill="#f2f4e6" fill-opacity="0.45"/><path d="M2.5 23.0m-0.6 0a0.6 0.6 0 1 0 1.1 0a0.6 0.6 0 1 0 -1.1 0M24.0 21.6m-0.6 0a0.6 0.6 0 1 0 1.2 0a0.6 0.6 0 1 0 -1.2 0M16.4 12.5m-0.4 0a0.4 0.4 0 1 0 0.8 0a0.4 0.4 0 1 0 -0.8 0M10.3 10.8m-0.4 0a0.4 0.4 0 1 0 0.8 0a0.4 0.4 0 1 0 -0.8 0M2.1 18.9m-0.6 0a0.6 0.6 0 1 0 1.2 0a0.6 0.6 0 1 0 -1.2 0M7.4 21.3m-0.5 0a0.5 0.5 0 1 0 1.0 0a0.5 0.5 0 1 0 -1.0 0M15.0 13.8m-0.5 0a0.5 0.5 0 1 0 1.0 0a0.5 0.5 0 1 0 -1.0 0M17.2 12.4m-0.5 0a0.5 0.5 0 1 0 1.0 0a0.5 0.5 0 1 0 -1.0 0M3.2 23.9m-0.4 0a0.4 0.4 0 1 0 0.7 0a0.4 0.4 0 1 0 -0.7 0M10.5 12.8m-0.6 0a0.6 0.6 0 1 0 1.1 0a0.6 0.6 0 1 0 -1.1 0M4.3 13.9m-0.4 0a0.4 0.4 0 1 0 0.8 0a0.4 0.4 0 1 0 -0.8 0M19.3 27.1m-0.5 0a0.5 0.5 0 1 0 0.9 0a0.5 0.5 0 1 0 -0.9 0M8.9 28.9m-0.4 0a0.4 0.4 0 1 0 0.9 0a0.4 0.4 0 1 0 -0.9 0M28.8 22.1m-0.4 0a0.4 0.4 0 1 0 0.9 0a0.4 0.4 0 1 0 -0.9 0M4.5 16.8m-0.6 0a0.6 0.6 0 1 0 1.2 0a0.6 0.6 0 1 0 -1.2 0M5.2 3.0m-0.5 0a0.5 0.5 0 1 0 1.0 0a0.5 0.5 0 1 0 -1.0 0M14.6 16.6m-0.6 0a0.6 0.6 0 1 0 1.1 0a0.6 0.6 0 1 0 -1.1 0M18.9 17.6m-0.5 0a0.5 0.5 0 1 0 0.9 0a0.5 0.5 0 1 0 -0.9 0M6.8 14.8m-0.3 0a0.3 0.3 0 1 0 0.6 0a0.3 0.3 0 1 0 -0.6 0M21.3 0.8m-0.4 0a0.4 0.4 0 1 0 0.9 0a0.4 0.4 0 1 0 -0.9 0M19.8 10.9m-0.3 0a0.3 0.3 0 1 0 0.6 0a0.3 0.3 0 1 0 -0.6 0M19.1 20.6m-0.5 0a0.5 0.5 0 1 0 1.0 0a0.5 0.5 0 1 0 -1.0 0M5.1 20.5m-0.4 0a0.4 0.4 0 1 0 0.9 0a0.4 0.4 0 1 0 -0.9 0M3.0 20.4m-0.5 0a0.5 0.5 0 1 0 0.9 0a0.5 0.5 0 1 0 -0.9 0M4.0 13.9m-0.4 0a0.4 0.4 0 1 0 0.9 0a0.4 0.4 0 1 0 -0.9 0M2.9 23.1m-0.5 0a0.5 0.5 0 1 0 1.1 0a0.5 0.5 0 1 0 -1.1 0M15.1 7.1m-0.3 0a0.3 0.3 0 1 0 0.7 0a0.3 0.3 0 1 0 -0.7 0M11.5 11.4m-0.6 0a0.6 0.6 0 1 0 1.1 0a0.6 0.6 0 1 0 -1.1 0M5.5 7.0m-0.4 0a0.4 0.4 0 1 0 0.9 0a0.4 0.4 0 1 0 -0.9 0M12.8 6.0m-0.5 0a0.5 0.5 0 1 0 1.1 0a0.5 0.5 0 1 0 -1.1 0M11.4 26.6m-0.5 0a0.5 0.5 0 1 0 0.9 0a0.5 0.5 0 1 0 -0.9 0M2.5 28.1m-0.5 0a0.5 0.5 0 1 0 1.0 0a0.5 0.5 0 1 0 -1.0 0M5.2 1.9m-0.4 0a0.4 0.4 0 1 0 0.7 0a0.4 0.4 0 1 0 -0.7 0M5.6 26.5m-0.5 0a0.5 0.5 0 1 0 1.0 0a0.5 0.5 0 1 0 -1.0 0M11.6 12.0m-0.5 0a0.5 0.5 0 1 0 1.1 0a0.5 0.5 0 1 0 -1.1 0M13.1 21.8m-0.3 0a0.3 0.3 0 1 0 0.7 0a0.3 0.3 0 1 0 -0.7 0M20.1 7.9m-0.3 0a0.3 0.3 0 1 0 0.7 0a0.3 0.3 0 1 0 -0.7 0M9.9 21.4m-0.4 0a0.4 0.4 0 1 0 0.8 0a0.4 0.4 0 1 0 -0.8 0M2.2 16.9m-0.5 0a0.5 0.5 0 1 0 1.0 0a0.5 0.5 0 1 0 -1.0 0M21.6 19.4m-0.5 0a0.5 0.5 0 1 0 1.1 0a0.5 0.5 0 1 0 -1.1 0M18.8 15.3m-0.3 0a0.3 0.3 0 1 0 0.6 0a0.3 0.3 0 1 0 -0.6 0M21.5 21.6m-0.4 0a0.4 0.4 0 1 0 0.9 0a0.4 0.4 0 1 0 -0.9 0M4.8 10.6m-0.6 0a0.6 0.6 0 1 0 1.1 0a0.6 0.6 0 1 0 -1.1 0M6.4 10.3m-0.6 0a0.6 0.6 0 1 0 1.1 0a0.6 0.6 0 1 0 -1.1 0M16.0 21.2m-0.3 0a0.3 0.3 0 1 0 0.7 0a0.3 0.3 0 1 0 -0.7 0M17.2 9.3m-0.3 0a0.3 0.3 0 1 0 0.6 0a0.3 0.3 0 1 0 -0.6 0M28.0 13.5m-0.4 0a0.4 0.4 0 1 0 0.9 0a0.4 0.4 0 1 0 -0.9 0M2.2 16.5m-0.5 0a0.5 0.5 0 1 0 0.9 0a0.5 0.5 0 1 0 -0.9 0M24.1 17.9m-0.5 0a0.5 0.5 0 1 0 1.0 0a0.5 0.5 0 1 0 -1.0 0M12.1 25.6m-0.5 0a0.5 0.5 0 1 0 1.0 0a0.5 0.5 0 1 0 -1.0 0M12.7 10.6m-0.4 0a0.4 0.4 0 1 0 0.7 0a0.4 0.4 0 1 0 -0.7 0M8.3 9.8m-0.6 0a0.6 0.6 0 1 0 1.1 0a0.6 0.6 0 1 0 -1.1 0M28.0 21.9m-0.6 0a0.6 0.6 0 1 0 1.1 0a0.6 0.6 0 1 0 -1.1 0M26.3 25.0m-0.4 0a0.4 0.4 0 1 0 0.8 0a0.4 0.4 0 1 0 -0.8 0M2.6 16.6m-0.4 0a0.4 0.4 0 1 0 0.9 0a0.4 0.4 0 1 0 -0.9 0M17.5 25.3m-0.5 0a0.5 0.5 0 1 0 0.9 0a0.5 0.5 0 1 0 -0.9 0M21.2 24.8m-0.4 0a0.4 0.4 0 1 0 0.8 0a0.4 0.4 0 1 0 -0.8 0M23.9 23.7m-0.5 0a0.5 0.5 0 1 0 0.9 0a0.5 0.5 0 1 0 -0.9 0M23.4 19.8m-0.6 0a0.6 0.6 0 1 0 1.2 0a0.6 0.6 0 1 0 -1.2 0M5.3 5.3m-0.3 0a0.3 0.3 0 1 0 0.6 0a0.3 0.3 0 1 0 -0.6 0M8.1 18.4m-0.5 0a0.5 0.5 0 1 0 1.0 0a0.5 0.5 0 1 0 -1.0 0M6.6 8.2m-0.4 0a0.4 0.4 0 1 0 0.7 0a0.4 0.4 0 1 0 -0.7 0M5.9 26.7m-0.5 0a0.5 0.5 0 1 0 1.0 0a0.5 0.5 0 1 0 -1.0 0M13.7 26.2m-0.5 0a0.5 0.5 0 1 0 1.0 0a0.5 0.5 0 1 0 -1.0 0M3.7 25.9m-0.4 0a0.4 0.4 0 1 0 0.8 0a0.4 0.4 0 1 0 -0.8 0M11.2 10.1m-0.4 0a0.4 0.4 0 1 0 0.9 0a0.4 0.4 0 1 0 -0.9 0M14.9 19.0m-0.3 0a0.3 0.3 0 1 0 0.6 0a0.3 0.3 0 1 0 -0.6 0M20.8 7.9m-0.3 0a0.3 0.3 0 1 0 0.7 0a0.3 0.3 0 1 0 -0.7 0M19.2 18.8m-0.4 0a0.4 0.4 0 1 0 0.9 0a0.4 0.4 0 1 0 -0.9 0M24.8 11.4m-0.3 0a0.3 0.3 0 1 0 0.7 0a0.3 0.3 0 1 0 -0.7 0M2.6 18.3m-0.3 0a0.3 0.3 0 1 0 0.7 0a0.3 0.3 0 1 0 -0.7 0M25.8 21.2m-0.6 0a0.6 0.6 0 1 0 1.1 0a0.6 0.6 0 1 0 -1.1 0M14.6 16.3m-0.4 0a0.4 0.4 0 1 0 0.9 0a0.4 0.4 0 1 0 -0.9 0M7.6 17.9m-0.4 0a0.4 0.4 0 1 0 0.8 0a0.4 0.4 0 1 0 -0.8 0M8.3 3.4m-0.4 0a0.4 0.4 0 1 0 0.7 0a0.4 0.4 0 1 0 -0.7 0M2.6 20.9m-0.5 0a0.5 0.5 0 1 0 1.1 0a0.5 0.5 0 1 0 -1.1 0M28.2 6.3m-0.5 0a0.5 0.5 0 1 0 0.9 0a0.5 0.5 0 1 0 -0.9 0M2.2 6.1m-0.5 0a0.5 0.5 0 1 0 1.0 0a0.5 0.5 0 1 0 -1.0 0M1.5 13.5m-0.5 0a0.5 0.5 0 1 0 0.9 0a0.5 0.5 0 1 0 -0.9 0M22.7 14.8m-0.3 0a0.3 0.3 0 1 0 0.6 0a0.3 0.3 0 1 0 -0.6 0M20.9 5.0m-0.6 0a0.6 0.6 0 1 0 1.2 0a0.6 0.6 0 1 0 -1.2 0M0.0 28.7m-0.6 0a0.6 0.6 0 1 0 1.2 0a0.6 0.6 0 1 0 -1.2 0M21.7 27.7m-0.5 0a0.5 0.5 0 1 0 0.9 0a0.5 0.5 0 1 0 -0.9 0M10.9 23.1m-0.5 0a0.5 0.5 0 1 0 1.0 0a0.5 0.5 0 1 0 -1.0 0M14.7 21.1m-0.5 0a0.5 0.5 0 1 0 1.0 0a0.5 0.5 0 1 0 -1.0 0M8.3 22.6m-0.5 0a0.5 0.5 0 1 0 1.0 0a0.5 0.5 0 1 0 -1.0 0M11.5 16.5m-0.5 0a0.5 0.5 0 1 0 1.0 0a0.5 0.5 0 1 0 -1.0 0M11.1 25.5m-0.6 0a0.6 0.6 0 1 0 1.2 0a0.6 0.6 0 1 0 -1.2 0M11.4 17.7m-0.5 0a0.5 0.5 0 1 0 1.0 0a0.5 0.5 0 1 0 -1.0 0M2.4 19.8m-0.4 0a0.4 0.4 0 1 0 0.9 0a0.4 0.4 0 1 0 -0.9 0M15.3 4.0m-0.4 0a0.4 0.4 0 1 0 0.7 0a0.4 0.4 0 1 0 -0.7 0M25.2 3.3m-0.6 0a0.6 0.6 0 1 0 1.1 0a0.6 0.6 0 1 0 -1.1 0M24.6 11.2m-0.4 0a0.4 0.4 0 1 0 0.9 0a0.4 0.4 0 1 0 -0.9 0M2.1 1.3m-0.6 0a0.6 0.6 0 1 0 1.2 0a0.6 0.6 0 1 0 -1.2 0M23.2 27.2m-0.4 0a0.4 0.4 0 1 0 0.8 0a0.4 0.4 0 1 0 -0.8 0M5.2 12.1m-0.3 0a0.3 0.3 0 1 0 0.6 0a0.3 0.3 0 1 0 -0.6 0M17.6 6.4m-0.6 0a0.6 0.6 0 1 0 1.1 0a0.6 0.6 0 1 0 -1.1 0M13.9 13.6m-0.4 0a0.4 0.4 0 1 0 0.8 0a0.4 0.4 0 1 0 -0.8 0M22.4 27.0m-0.5 0a0.5 0.5 0 1 0 1.0 0a0.5 0.5 0 1 0 -1.0 0M2.9 6.6m-0.3 0a0.3 0.3 0 1 0 0.7 0a0.3 0.3 0 1 0 -0.7 0M18.7 21.7m-0.5 0a0.5 0.5 0 1 0 0.9 0a0.5 0.5 0 1 0 -0.9 0M22.6 11.9m-0.4 0a0.4 0.4 0 1 0 0.7 0a0.4 0.4 0 1 0 -0.7 0M4.9 4.4m-0.5 0a0.5 0.5 0 1 0 1.0 0a0.5 0.5 0 1 0 -1.0 0M19.3 1.2m-0.4 0a0.4 0.4 0 1 0 0.9 0a0.4 0.4 0 1 0 -0.9 0M0.9 18.6m-0.4 0a0.4 0.4 0 1 0 0.9 0a0.4 0.4 0 1 0 -0.9 0M23.3 10.4m-0.4 0a0.4 0.4 0 1 0 0.8 0a0.4 0.4 0 1 0 -0.8 0M20.9 0.1m-0.4 0a0.4 0.4 0 1 0 0.8 0a0.4 0.4 0 1 0 -0.8 0M5.6 24.8m-0.3 0a0.3 0.3 0 1 0 0.6 0a0.3 0.3 0 1 0 -0.6 0M16.9 0.1m-0.4 0a0.4 0.4 0 1 0 0.9 0a0.4 0.4 0 1 0 -0.9 0M20.2 2.1m-0.5 0a0.5 0.5 0 1 0 1.1 0a0.5 0.5 0 1 0 -1.1 0M19.8 2.3m-0.4 0a0.4 0.4 0 1 0 0.7 0a0.4 0.4 0 1 0 -0.7 0M5.6 27.3m-0.5 0a0.5 0.5 0 1 0 0.9 0a0.5 0.5 0 1 0 -0.9 0M2.3 24.4m-0.5 0a0.5 0.5 0 1 0 0.9 0a0.5 0.5 0 1 0 -0.9 0M11.1 3.7m-0.4 0a0.4 0.4 0 1 0 0.8 0a0.4 0.4 0 1 0 -0.8 0M23.8 3.2m-0.5 0a0.5 0.5 0 1 0 1.0 0a0.5 0.5 0 1 0 -1.0 0M18.7 2.2m-0.4 0a0.4 0.4 0 1 0 0.7 0a0.4 0.4 0 1 0 -0.7 0M7.9 22.0m-0.4 0a0.4 0.4 0 1 0 0.9 0a0.4 0.4 0 1 0 -0.9 0M9.0 7.4m-0.3 0a0.3 0.3 0 1 0 0.6 0a0.3 0.3 0 1 0 -0.6 0M5.9 19.3m-0.5 0a0.5 0.5 0 1 0 1.0 0a0.5 0.5 0 1 0 -1.0 0M11.0 27.3m-0.4 0a0.4 0.4 0 1 0 0.8 0a0.4 0.4 0 1 0 -0.8 0M24.2 22.9m-0.5 0a0.5 0.5 0 1 0 1.0 0a0.5 0.5 0 1 0 -1.0 0M8.6 16.1m-0.5 0a0.5 0.5 0 1 0 0.9 0a0.5 0.5 0 1 0 -0.9 0M1.5 13.1m-0.4 0a0.4 0.4 0 1 0 0.7 0a0.4 0.4 0 1 0 -0.7 0M12.2 25.6m-0.4 0a0.4 0.4 0 1 0 0.9 0a0.4 0.4 0 1 0 -0.9 0M2.0 10.4m-0.4 0a0.4 0.4 0 1 0 0.9 0a0.4 0.4 0 1 0 -0.9 0M26.6 12.9m-0.4 0a0.4 0.4 0 1 0 0.8 0a0.4 0.4 0 1 0 -0.8 0M27.6 22.1m-0.4 0a0.4 0.4 0 1 0 0.9 0a0.4 0.4 0 1 0 -0.9 0M28.8 21.9m-0.6 0a0.6 0.6 0 1 0 1.2 0a0.6 0.6 0 1 0 -1.2 0M19.7 14.2m-0.4 0a0.4 0.4 0 1 0 0.9 0a0.4 0.4 0 1 0 -0.9 0M12.7 4.0m-0.3 0a0.3 0.3 0 1 0 0.7 0a0.3 0.3 0 1 0 -0.7 0M16.7 9.2m-0.6 0a0.6 0.6 0 1 0 1.1 0a0.6 0.6 0 1 0 -1.1 0M25.6 4.7m-0.5 0a0.5 0.5 0 1 0 0.9 0a0.5 0.5 0 1 0 -0.9 0M11.6 28.5m-0.4 0a0.4 0.4 0 1 0 0.8 0a0.4 0.4 0 1 0 -0.8 0M20.3 2.3m-0.3 0a0.3 0.3 0 1 0 0.7 0a0.3 0.3 0 1 0 -0.7 0M9.1 15.2m-0.6 0a0.6 0.6 0 1 0 1.1 0a0.6 0.6 0 1 0 -1.1 0M8.0 23.3m-0.4 0a0.4 0.4 0 1 0 0.8 0a0.4 0.4 0 1 0 -0.8 0M13.9 17.4m-0.3 0a0.3 0.3 0 1 0 0.6 0a0.3 0.3 0 1 0 -0.6 0M15.5 15.8m-0.5 0a0.5 0.5 0 1 0 1.0 0a0.5 0.5 0 1 0 -1.0 0M12.7 19.6m-0.4 0a0.4 0.4 0 1 0 0.9 0a0.4 0.4 0 1 0 -0.9 0M2.5 26.3m-0.5 0a0.5 0.5 0 1 0 0.9 0a0.5 0.5 0 1 0 -0.9 0M19.3 4.5m-0.5 0a0.5 0.5 0 1 0 1.0 0a0.5 0.5 0 1 0 -1.0 0M16.3 17.4m-0.3 0a0.3 0.3 0 1 0 0.7 0a0.3 0.3 0 1 0 -0.7 0M27.8 11.4m-0.4 0a0.4 0.4 0 1 0 0.9 0a0.4 0.4 0 1 0 -0.9 0M19.5 18.6m-0.5 0a0.5 0.5 0 1 0 1.0 0a0.5 0.5 0 1 0 -1.0 0M13.9 18.6m-0.4 0a0.4 0.4 0 1 0 0.9 0a0.4 0.4 0 1 0 -0.9 0M3.9 21.5m-0.4 0a0.4 0.4 0 1 0 0.9 0a0.4 0.4 0 1 0 -0.9 0M4.4 23.4m-0.3 0a0.3 0.3 0 1 0 0.6 0a0.3 0.3 0 1 0 -0.6 0M1.1 9.5m-0.3 0a0.3 0.3 0 1 0 0.7 0a0.3 0.3 0 1 0 -0.7 0" fill="#f2f4e6" fill-opacity="0.7"/><path d="M18.9 19.3m-0.6 0a0.6 0.6 0 1 0 1.1 0a0.6 0.6 0 1 0 -1.1 0M21.6 0.9m-0.3 0a0.3 0.3 0 1 0 0.7 0a0.3 0.3 0 1 0 -0.7 0M10.3 6.8m-0.6 0a0.6 0.6 0 1 0 1.1 0a0.6 0.6 0 1 0 -1.1 0M18.5 19.0m-0.4 0a0.4 0.4 0 1 0 0.8 0a0.4 0.4 0 1 0 -0.8 0M23.1 28.6m-0.5 0a0.5 0.5 0 1 0 1.0 0a0.5 0.5 0 1 0 -1.0 0M17.7 28.6m-0.4 0a0.4 0.4 0 1 0 0.9 0a0.4 0.4 0 1 0 -0.9 0M12.9 5.1m-0.4 0a0.4 0.4 0 1 0 0.7 0a0.4 0.4 0 1 0 -0.7 0M4.1 23.4m-0.6 0a0.6 0.6 0 1 0 1.1 0a0.6 0.6 0 1 0 -1.1 0M25.7 23.3m-0.4 0a0.4 0.4 0 1 0 0.7 0a0.4 0.4 0 1 0 -0.7 0M10.9 20.8m-0.3 0a0.3 0.3 0 1 0 0.7 0a0.3 0.3 0 1 0 -0.7 0M17.5 21.0m-0.4 0a0.4 0.4 0 1 0 0.7 0a0.4 0.4 0 1 0 -0.7 0M1.2 20.4m-0.3 0a0.3 0.3 0 1 0 0.6 0a0.3 0.3 0 1 0 -0.6 0M2.0 18.7m-0.5 0a0.5 0.5 0 1 0 0.9 0a0.5 0.5 0 1 0 -0.9 0M20.2 28.2m-0.5 0a0.5 0.5 0 1 0 1.1 0a0.5 0.5 0 1 0 -1.1 0M11.8 26.3m-0.5 0a0.5 0.5 0 1 0 0.9 0a0.5 0.5 0 1 0 -0.9 0M0.2 9.7m-0.4 0a0.4 0.4 0 1 0 0.9 0a0.4 0.4 0 1 0 -0.9 0M26.2 25.9m-0.6 0a0.6 0.6 0 1 0 1.1 0a0.6 0.6 0 1 0 -1.1 0M5.7 11.4m-0.3 0a0.3 0.3 0 1 0 0.6 0a0.3 0.3 0 1 0 -0.6 0M26.0 3.3m-0.3 0a0.3 0.3 0 1 0 0.7 0a0.3 0.3 0 1 0 -0.7 0M27.0 4.8m-0.3 0a0.3 0.3 0 1 0 0.6 0a0.3 0.3 0 1 0 -0.6 0M20.8 25.1m-0.6 0a0.6 0.6 0 1 0 1.2 0a0.6 0.6 0 1 0 -1.2 0M12.3 18.0m-0.5 0a0.5 0.5 0 1 0 1.1 0a0.5 0.5 0 1 0 -1.1 0M4.4 4.3m-0.4 0a0.4 0.4 0 1 0 0.8 0a0.4 0.4 0 1 0 -0.8 0M0.8 26.3m-0.4 0a0.4 0.4 0 1 0 0.9 0a0.4 0.4 0 1 0 -0.9 0M2.3 26.2m-0.5 0a0.5 0.5 0 1 0 0.9 0a0.5 0.5 0 1 0 -0.9 0M24.2 6.2m-0.5 0a0.5 0.5 0 1 0 1.0 0a0.5 0.5 0 1 0 -1.0 0M20.0 0.8m-0.5 0a0.5 0.5 0 1 0 0.9 0a0.5 0.5 0 1 0 -0.9 0M14.1 17.6m-0.4 0a0.4 0.4 0 1 0 0.7 0a0.4 0.4 0 1 0 -0.7 0M19.8 20.9m-0.5 0a0.5 0.5 0 1 0 1.0 0a0.5 0.5 0 1 0 -1.0 0M17.3 1.6m-0.5 0a0.5 0.5 0 1 0 1.0 0a0.5 0.5 0 1 0 -1.0 0M11.1 23.6m-0.4 0a0.4 0.4 0 1 0 0.9 0a0.4 0.4 0 1 0 -0.9 0M14.9 2.0m-0.6 0a0.6 0.6 0 1 0 1.1 0a0.6 0.6 0 1 0 -1.1 0M28.6 13.0m-0.4 0a0.4 0.4 0 1 0 0.8 0a0.4 0.4 0 1 0 -0.8 0M4.2 9.4m-0.4 0a0.4 0.4 0 1 0 0.8 0a0.4 0.4 0 1 0 -0.8 0M18.2 25.4m-0.5 0a0.5 0.5 0 1 0 1.0 0a0.5 0.5 0 1 0 -1.0 0M24.7 4.5m-0.3 0a0.3 0.3 0 1 0 0.6 0a0.3 0.3 0 1 0 -0.6 0M1.5 23.8m-0.5 0a0.5 0.5 0 1 0 1.1 0a0.5 0.5 0 1 0 -1.1 0M8.6 7.6m-0.5 0a0.5 0.5 0 1 0 1.1 0a0.5 0.5 0 1 0 -1.1 0M16.1 26.3m-0.4 0a0.4 0.4 0 1 0 0.8 0a0.4 0.4 0 1 0 -0.8 0M18.1 2.9m-0.4 0a0.4 0.4 0 1 0 0.9 0a0.4 0.4 0 1 0 -0.9 0M3.6 20.7m-0.4 0a0.4 0.4 0 1 0 0.9 0a0.4 0.4 0 1 0 -0.9 0M0.4 26.7m-0.5 0a0.5 0.5 0 1 0 1.0 0a0.5 0.5 0 1 0 -1.0 0M0.6 10.5m-0.5 0a0.5 0.5 0 1 0 1.1 0a0.5 0.5 0 1 0 -1.1 0M18.3 27.4m-0.5 0a0.5 0.5 0 1 0 1.1 0a0.5 0.5 0 1 0 -1.1 0M8.3 16.1m-0.4 0a0.4 0.4 0 1 0 0.8 0a0.4 0.4 0 1 0 -0.8 0M15.6 21.8m-0.5 0a0.5 0.5 0 1 0 1.0 0a0.5 0.5 0 1 0 -1.0 0M4.1 22.6m-0.3 0a0.3 0.3 0 1 0 0.6 0a0.3 0.3 0 1 0 -0.6 0M1.7 11.7m-0.5 0a0.5 0.5 0 1 0 1.1 0a0.5 0.5 0 1 0 -1.1 0M20.3 12.9m-0.5 0a0.5 0.5 0 1 0 1.0 0a0.5 0.5 0 1 0 -1.0 0M21.0 0.8m-0.5 0a0.5 0.5 0 1 0 1.0 0a0.5 0.5 0 1 0 -1.0 0M27.9 19.3m-0.4 0a0.4 0.4 0 1 0 0.9 0a0.4 0.4 0 1 0 -0.9 0M18.1 20.9m-0.6 0a0.6 0.6 0 1 0 1.1 0a0.6 0.6 0 1 0 -1.1 0M23.3 9.5m-0.4 0a0.4 0.4 0 1 0 0.9 0a0.4 0.4 0 1 0 -0.9 0M16.8 27.2m-0.5 0a0.5 0.5 0 1 0 1.0 0a0.5 0.5 0 1 0 -1.0 0M16.2 17.6m-0.6 0a0.6 0.6 0 1 0 1.1 0a0.6 0.6 0 1 0 -1.1 0M17.5 0.0m-0.5 0a0.5 0.5 0 1 0 1.1 0a0.5 0.5 0 1 0 -1.1 0M21.6 14.1m-0.5 0a0.5 0.5 0 1 0 0.9 0a0.5 0.5 0 1 0 -0.9 0M20.7 13.5m-0.5 0a0.5 0.5 0 1 0 1.0 0a0.5 0.5 0 1 0 -1.0 0M22.2 24.9m-0.6 0a0.6 0.6 0 1 0 1.1 0a0.6 0.6 0 1 0 -1.1 0M19.8 12.4m-0.3 0a0.3 0.3 0 1 0 0.6 0a0.3 0.3 0 1 0 -0.6 0M8.9 18.6m-0.5 0a0.5 0.5 0 1 0 1.0 0a0.5 0.5 0 1 0 -1.0 0M24.4 18.3m-0.3 0a0.3 0.3 0 1 0 0.6 0a0.3 0.3 0 1 0 -0.6 0M25.4 12.8m-0.4 0a0.4 0.4 0 1 0 0.8 0a0.4 0.4 0 1 0 -0.8 0M1.9 3.4m-0.4 0a0.4 0.4 0 1 0 0.7 0a0.4 0.4 0 1 0 -0.7 0M15.4 26.4m-0.3 0a0.3 0.3 0 1 0 0.6 0a0.3 0.3 0 1 0 -0.6 0M27.4 3.1m-0.4 0a0.4 0.4 0 1 0 0.7 0a0.4 0.4 0 1 0 -0.7 0M17.6 6.0m-0.5 0a0.5 0.5 0 1 0 1.0 0a0.5 0.5 0 1 0 -1.0 0M11.7 2.1m-0.4 0a0.4 0.4 0 1 0 0.8 0a0.4 0.4 0 1 0 -0.8 0M14.4 8.0m-0.4 0a0.4 0.4 0 1 0 0.7 0a0.4 0.4 0 1 0 -0.7 0M13.2 21.5m-0.4 0a0.4 0.4 0 1 0 0.7 0a0.4 0.4 0 1 0 -0.7 0M12.9 8.5m-0.6 0a0.6 0.6 0 1 0 1.1 0a0.6 0.6 0 1 0 -1.1 0M9.0 5.9m-0.3 0a0.3 0.3 0 1 0 0.7 0a0.3 0.3 0 1 0 -0.7 0M2.1 1.1m-0.4 0a0.4 0.4 0 1 0 0.8 0a0.4 0.4 0 1 0 -0.8 0M10.0 17.8m-0.4 0a0.4 0.4 0 1 0 0.7 0a0.4 0.4 0 1 0 -0.7 0M18.8 1.5m-0.4 0a0.4 0.4 0 1 0 0.9 0a0.4 0.4 0 1 0 -0.9 0M25.8 16.4m-0.3 0a0.3 0.3 0 1 0 0.6 0a0.3 0.3 0 1 0 -0.6 0M17.9 2.3m-0.3 0a0.3 0.3 0 1 0 0.6 0a0.3 0.3 0 1 0 -0.6 0M7.0 22.8m-0.4 0a0.4 0.4 0 1 0 0.7 0a0.4 0.4 0 1 0 -0.7 0M14.7 8.6m-0.4 0a0.4 0.4 0 1 0 0.8 0a0.4 0.4 0 1 0 -0.8 0M14.1 22.7m-0.6 0a0.6 0.6 0 1 0 1.1 0a0.6 0.6 0 1 0 -1.1 0M2.2 5.1m-0.3 0a0.3 0.3 0 1 0 0.6 0a0.3 0.3 0 1 0 -0.6 0M19.5 1.3m-0.3 0a0.3 0.3 0 1 0 0.6 0a0.3 0.3 0 1 0 -0.6 0M7.3 27.0m-0.3 0a0.3 0.3 0 1 0 0.6 0a0.3 0.3 0 1 0 -0.6 0M28.7 24.6m-0.3 0a0.3 0.3 0 1 0 0.7 0a0.3 0.3 0 1 0 -0.7 0M17.7 1.3m-0.3 0a0.3 0.3 0 1 0 0.7 0a0.3 0.3 0 1 0 -0.7 0M9.8 3.0m-0.5 0a0.5 0.5 0 1 0 0.9 0a0.5 0.5 0 1 0 -0.9 0M20.6 13.0m-0.4 0a0.4 0.4 0 1 0 0.8 0a0.4 0.4 0 1 0 -0.8 0M10.6 6.0m-0.5 0a0.5 0.5 0 1 0 0.9 0a0.5 0.5 0 1 0 -0.9 0M12.2 8.6m-0.3 0a0.3 0.3 0 1 0 0.7 0a0.3 0.3 0 1 0 -0.7 0M24.5 28.8m-0.5 0a0.5 0.5 0 1 0 1.0 0a0.5 0.5 0 1 0 -1.0 0M17.9 26.6m-0.5 0a0.5 0.5 0 1 0 1.0 0a0.5 0.5 0 1 0 -1.0 0M3.6 25.4m-0.3 0a0.3 0.3 0 1 0 0.7 0a0.3 0.3 0 1 0 -0.7 0M7.6 24.1m-0.5 0a0.5 0.5 0 1 0 1.0 0a0.5 0.5 0 1 0 -1.0 0M19.4 1.8m-0.4 0a0.4 0.4 0 1 0 0.8 0a0.4 0.4 0 1 0 -0.8 0M25.3 11.4m-0.4 0a0.4 0.4 0 1 0 0.8 0a0.4 0.4 0 1 0 -0.8 0M1.3 28.2m-0.3 0a0.3 0.3 0 1 0 0.7 0a0.3 0.3 0 1 0 -0.7 0M9.9 18.2m-0.3 0a0.3 0.3 0 1 0 0.6 0a0.3 0.3 0 1 0 -0.6 0M8.9 9.7m-0.3 0a0.3 0.3 0 1 0 0.7 0a0.3 0.3 0 1 0 -0.7 0M7.8 17.1m-0.6 0a0.6 0.6 0 1 0 1.1 0a0.6 0.6 0 1 0 -1.1 0M1.7 24.2m-0.4 0a0.4 0.4 0 1 0 0.7 0a0.4 0.4 0 1 0 -0.7 0M16.8 9.9m-0.4 0a0.4 0.4 0 1 0 0.7 0a0.4 0.4 0 1 0 -0.7 0M4.2 19.6m-0.6 0a0.6 0.6 0 1 0 1.2 0a0.6 0.6 0 1 0 -1.2 0M4.7 1.4m-0.4 0a0.4 0.4 0 1 0 0.8 0a0.4 0.4 0 1 0 -0.8 0M6.4 28.8m-0.3 0a0.3 0.3 0 1 0 0.6 0a0.3 0.3 0 1 0 -0.6 0M27.7 4.3m-0.5 0a0.5 0.5 0 1 0 1.0 0a0.5 0.5 0 1 0 -1.0 0M23.2 22.2m-0.5 0a0.5 0.5 0 1 0 1.0 0a0.5 0.5 0 1 0 -1.0 0M10.0 25.2m-0.4 0a0.4 0.4 0 1 0 0.9 0a0.4 0.4 0 1 0 -0.9 0M3.2 13.2m-0.3 0a0.3 0.3 0 1 0 0.7 0a0.3 0.3 0 1 0 -0.7 0M4.4 18.0m-0.4 0a0.4 0.4 0 1 0 0.8 0a0.4 0.4 0 1 0 -0.8 0M20.4 3.3m-0.4 0a0.4 0.4 0 1 0 0.8 0a0.4 0.4 0 1 0 -0.8 0M22.8 27.8m-0.6 0a0.6 0.6 0 1 0 1.2 0a0.6 0.6 0 1 0 -1.2 0M3.3 2.2m-0.3 0a0.3 0.3 0 1 0 0.6 0a0.3 0.3 0 1 0 -0.6 0M1.3 6.4m-0.4 0a0.4 0.4 0 1 0 0.8 0a0.4 0.4 0 1 0 -0.8 0M9.5 14.0m-0.6 0a0.6 0.6 0 1 0 1.2 0a0.6 0.6 0 1 0 -1.2 0M23.5 24.2m-0.4 0a0.4 0.4 0 1 0 0.8 0a0.4 0.4 0 1 0 -0.8 0M17.8 8.5m-0.4 0a0.4 0.4 0 1 0 0.8 0a0.4 0.4 0 1 0 -0.8 0M9.0 15.1m-0.5 0a0.5 0.5 0 1 0 1.0 0a0.5 0.5 0 1 0 -1.0 0M8.4 21.8m-0.4 0a0.4 0.4 0 1 0 0.8 0a0.4 0.4 0 1 0 -0.8 0M16.9 15.7m-0.3 0a0.3 0.3 0 1 0 0.7 0a0.3 0.3 0 1 0 -0.7 0M13.0 25.3m-0.3 0a0.3 0.3 0 1 0 0.6 0a0.3 0.3 0 1 0 -0.6 0M1.5 18.9m-0.4 0a0.4 0.4 0 1 0 0.8 0a0.4 0.4 0 1 0 -0.8 0M14.9 14.5m-0.4 0a0.4 0.4 0 1 0 0.8 0a0.4 0.4 0 1 0 -0.8 0M10.8 1.6m-0.4 0a0.4 0.4 0 1 0 0.8 0a0.4 0.4 0 1 0 -0.8 0M9.4 10.0m-0.6 0a0.6 0.6 0 1 0 1.2 0a0.6 0.6 0 1 0 -1.2 0M11.7 14.7m-0.5 0a0.5 0.5 0 1 0 1.1 0a0.5 0.5 0 1 0 -1.1 0M23.4 7.7m-0.3 0a0.3 0.3 0 1 0 0.7 0a0.3 0.3 0 1 0 -0.7 0M27.5 11.3m-0.3 0a0.3 0.3 0 1 0 0.7 0a0.3 0.3 0 1 0 -0.7 0M11.7 15.0m-0.5 0a0.5 0.5 0 1 0 1.0 0a0.5 0.5 0 1 0 -1.0 0M12.9 18.7m-0.4 0a0.4 0.4 0 1 0 0.9 0a0.4 0.4 0 1 0 -0.9 0M14.8 19.4m-0.4 0a0.4 0.4 0 1 0 0.8 0a0.4 0.4 0 1 0 -0.8 0M23.4 22.4m-0.4 0a0.4 0.4 0 1 0 0.8 0a0.4 0.4 0 1 0 -0.8 0M12.5 20.7m-0.4 0a0.4 0.4 0 1 0 0.7 0a0.4 0.4 0 1 0 -0.7 0M5.4 6.4m-0.5 0a0.5 0.5 0 1 0 0.9 0a0.5 0.5 0 1 0 -0.9 0M17.5 0.9m-0.3 0a0.3 0.3 0 1 0 0.7 0a0.3 0.3 0 1 0 -0.7 0M16.3 27.7m-0.4 0a0.4 0.4 0 1 0 0.9 0a0.4 0.4 0 1 0 -0.9 0M19.2 2.6m-0.3 0a0.3 0.3 0 1 0 0.7 0a0.3 0.3 0 1 0 -0.7 0M19.3 10.4m-0.3 0a0.3 0.3 0 1 0 0.7 0a0.3 0.3 0 1 0 -0.7 0M28.2 8.0m-0.4 0a0.4 0.4 0 1 0 0.8 0a0.4 0.4 0 1 0 -0.8 0M18.3 7.1m-0.3 0a0.3 0.3 0 1 0 0.6 0a0.3 0.3 0 1 0 -0.6 0M15.4 3.7m-0.3 0a0.3 0.3 0 1 0 0.6 0a0.3 0.3 0 1 0 -0.6 0M4.9 8.4m-0.4 0a0.4 0.4 0 1 0 0.8 0a0.4 0.4 0 1 0 -0.8 0M26.1 27.0m-0.5 0a0.5 0.5 0 1 0 1.1 0a0.5 0.5 0 1 0 -1.1 0M13.9 23.8m-0.4 0a0.4 0.4 0 1 0 0.9 0a0.4 0.4 0 1 0 -0.9 0M11.4 11.9m-0.3 0a0.3 0.3 0 1 0 0.7 0a0.3 0.3 0 1 0 -0.7 0M15.9 18.6m-0.5 0a0.5 0.5 0 1 0 1.1 0a0.5 0.5 0 1 0 -1.1 0M20.4 10.2m-0.5 0a0.5 0.5 0 1 0 1.1 0a0.5 0.5 0 1 0 -1.1 0M12.8 15.9m-0.4 0a0.4 0.4 0 1 0 0.7 0a0.4 0.4 0 1 0 -0.7 0M25.5 23.8m-0.4 0a0.4 0.4 0 1 0 0.8 0a0.4 0.4 0 1 0 -0.8 0M19.5 3.0m-0.5 0a0.5 0.5 0 1 0 1.0 0a0.5 0.5 0 1 0 -1.0 0M22.5 24.0m-0.4 0a0.4 0.4 0 1 0 0.7 0a0.4 0.4 0 1 0 -0.7 0M23.8 25.4m-0.5 0a0.5 0.5 0 1 0 1.1 0a0.5 0.5 0 1 0 -1.1 0M3.0 20.1m-0.4 0a0.4 0.4 0 1 0 0.8 0a0.4 0.4 0 1 0 -0.8 0M2.4 15.8m-0.4 0a0.4 0.4 0 1 0 0.8 0a0.4 0.4 0 1 0 -0.8 0M19.2 9.3m-0.3 0a0.3 0.3 0 1 0 0.6 0a0.3 0.3 0 1 0 -0.6 0M11.0 22.4m-0.6 0a0.6 0.6 0 1 0 1.1 0a0.6 0.6 0 1 0 -1.1 0M26.3 9.6m-0.5 0a0.5 0.5 0 1 0 1.1 0a0.5 0.5 0 1 0 -1.1 0M27.0 15.2m-0.6 0a0.6 0.6 0 1 0 1.1 0a0.6 0.6 0 1 0 -1.1 0M27.5 25.6m-0.5 0a0.5 0.5 0 1 0 0.9 0a0.5 0.5 0 1 0 -0.9 0M18.4 5.0m-0.5 0a0.5 0.5 0 1 0 1.0 0a0.5 0.5 0 1 0 -1.0 0M18.5 21.9m-0.3 0a0.3 0.3 0 1 0 0.6 0a0.3 0.3 0 1 0 -0.6 0M20.6 28.1m-0.4 0a0.4 0.4 0 1 0 0.8 0a0.4 0.4 0 1 0 -0.8 0M9.8 23.2m-0.4 0a0.4 0.4 0 1 0 0.8 0a0.4 0.4 0 1 0 -0.8 0M5.8 3.0m-0.4 0a0.4 0.4 0 1 0 0.8 0a0.4 0.4 0 1 0 -0.8 0M18.1 8.1m-0.6 0a0.6 0.6 0 1 0 1.1 0a0.6 0.6 0 1 0 -1.1 0M13.2 0.7m-0.3 0a0.3 0.3 0 1 0 0.6 0a0.3 0.3 0 1 0 -0.6 0M21.5 19.4m-0.4 0a0.4 0.4 0 1 0 0.8 0a0.4 0.4 0 1 0 -0.8 0M26.3 16.1m-0.5 0a0.5 0.5 0 1 0 1.0 0a0.5 0.5 0 1 0 -1.0 0M17.9 14.3m-0.5 0a0.5 0.5 0 1 0 0.9 0a0.5 0.5 0 1 0 -0.9 0" fill="#f2f4e6" fill-opacity="0.95"/></pattern>
<text x="284.30" y="228.76" font-size="16" text-anchor="start" fill="#000" font-weight="bold" textLength="13.6" lengthAdjust="spacingAndGlyphs">C</text>
<text x="366.50" y="234.40" font-size="8.6" text-anchor="middle" fill="#000" font-weight="bold" textLength="35.5" lengthAdjust="spacingAndGlyphs">BCR/ABL</text>
<text x="440.60" y="225.30" font-size="8.6" text-anchor="middle" fill="#000" font-weight="bold" textLength="26.2" lengthAdjust="spacingAndGlyphs">Hes1 +</text>
<text x="440.30" y="235.30" font-size="8.6" text-anchor="middle" fill="#000" font-weight="bold" textLength="35.5" lengthAdjust="spacingAndGlyphs">BCR/ABL</text>
<text x="318.00" y="265.10" font-size="8.6" text-anchor="middle" fill="#000" font-weight="bold" textLength="16.2" lengthAdjust="spacingAndGlyphs">KSL</text>
<text x="317.20" y="319.60" font-size="8.6" text-anchor="middle" fill="#000" font-weight="bold" textLength="18.3" lengthAdjust="spacingAndGlyphs">CMP</text>
<text x="317.20" y="372.90" font-size="8.6" text-anchor="middle" fill="#000" font-weight="bold" textLength="18.3" lengthAdjust="spacingAndGlyphs">GMP</text>
<clipPath id="c1"><rect x="332.30" y="236.70" width="68.60" height="51.40"/></clipPath>
<g clip-path="url(#c1)"><g filter="url(#bl)">
<rect x="332.30" y="236.70" width="68.60" height="51.40" fill="#2a2b20"/>
<rect x="332.30" y="236.70" width="12.00" height="51.40" fill="#1a1b14" stroke=" opacity="0.7"" stroke-width="1"/>
<radialGradient id="g2" gradientUnits="userSpaceOnUse" cx="400.00" cy="272.00" r="20.00"><stop offset="0" stop-color="#75733e" stop-opacity="0.8"/><stop offset="1" stop-color="#75733e" stop-opacity="0"/></radialGradient>
<rect x="380.00" y="252.00" width="40.00" height="40.00" fill="url(#g2)"/>
<radialGradient id="g3" gradientUnits="userSpaceOnUse" cx="369.00" cy="262.00" r="33.00"><stop offset="0" stop-color="#b8bca8" stop-opacity="1"/><stop offset="0.4" stop-color="#9a9e88" stop-opacity="0.9"/><stop offset="0.7" stop-color="#5e6050" stop-opacity="0.6"/><stop offset="1" stop-color="#3a3b2d" stop-opacity="0"/></radialGradient>
<rect x="336.00" y="229.00" width="66.00" height="66.00" fill="url(#g3)"/>
<radialGradient id="g4" gradientUnits="userSpaceOnUse" cx="369.00" cy="262.00" r="34.00"><stop offset="0" stop-color="#fff" stop-opacity="0"/><stop offset="0.25" stop-color="#fff" stop-opacity="1"/><stop offset="0.6" stop-color="#fff" stop-opacity="0.95"/><stop offset="0.85" stop-color="#fff" stop-opacity="0.5"/><stop offset="1" stop-color="#fff" stop-opacity="0"/></radialGradient>
<mask id="m5" maskUnits="userSpaceOnUse" x="332.3" y="236.7" width="68.6" height="51.4"><rect x="332.3" y="236.7" width="68.6" height="51.4" fill="url(#g4)"/></mask>
<rect x="332.3" y="236.7" width="68.6" height="51.4" fill="url(#pw)" mask="url(#m5)" transform="translate(0 0)"/>
<radialGradient id="g6" gradientUnits="userSpaceOnUse" cx="369.00" cy="262.00" r="24.00"><stop offset="0" stop-color="#fff" stop-opacity="0"/><stop offset="0.35" stop-color="#fff" stop-opacity="0.9"/><stop offset="0.7" stop-color="#fff" stop-opacity="0.6"/><stop offset="1" stop-color="#fff" stop-opacity="0"/></radialGradient>
<mask id="m7" maskUnits="userSpaceOnUse" x="332.3" y="236.7" width="68.6" height="51.4"><rect x="332.3" y="236.7" width="68.6" height="51.4" fill="url(#g6)"/></mask>
<rect x="332.3" y="236.7" width="68.6" height="51.4" fill="url(#pw3)" mask="url(#m7)" transform="translate(5 3)"/>
<ellipse cx="369" cy="262" rx="7.6" ry="8.8" fill="none" stroke="#eef2e0" stroke-width="1.8" stroke-opacity="0.75" transform="rotate(28 369 262)"/>
<ellipse cx="369" cy="262" rx="5.9" ry="7.1" fill="#a09a80" transform="rotate(28 369 262)"/>
<line x1="386.00" y1="285.60" x2="398.00" y2="285.60" stroke="#c8c838" stroke-width="1.0" opacity="0.55"/>
</g></g>
<clipPath id="c8"><rect x="407.00" y="236.70" width="68.60" height="51.40"/></clipPath>
<g clip-path="url(#c8)"><g filter="url(#bl)">
<rect x="407.00" y="236.70" width="68.60" height="51.40" fill="#191b13"/>
<radialGradient id="g9" gradientUnits="userSpaceOnUse" cx="440.30" cy="261.50" r="30.00"><stop offset="0" stop-color="#f0f2e4" stop-opacity="1"/><stop offset="0.3" stop-color="#e2e4d2" stop-opacity="1"/><stop offset="0.55" stop-color="#8a8c78" stop-opacity="0.75"/><stop offset="0.8" stop-color="#45473a" stop-opacity="0.4"/><stop offset="1" stop-color="#2a2c20" stop-opacity="0"/></radialGradient>
<rect x="410.30" y="231.50" width="60.00" height="60.00" fill="url(#g9)"/>
<radialGradient id="g10" gradientUnits="userSpaceOnUse" cx="440.30" cy="261.50" r="34.00"><stop offset="0" stop-color="#fff" stop-opacity="0.8"/><stop offset="0.35" stop-color="#fff" stop-opacity="1"/><stop offset="0.6" stop-color="#fff" stop-opacity="0.65"/><stop offset="0.85" stop-color="#fff" stop-opacity="0.25"/><stop offset="1" stop-color="#fff" stop-opacity="0"/></radialGradient>
<mask id="m11" maskUnits="userSpaceOnUse" x="407.0" y="236.7" width="68.6" height="51.4"><rect x="407.0" y="236.7" width="68.6" height="51.4" fill="url(#g10)"/></mask>
<rect x="407.0" y="236.7" width="68.6" height="51.4" fill="url(#pw2)" mask="url(#m11)" transform="translate(3 5)"/>
<radialGradient id="g12" gradientUnits="userSpaceOnUse" cx="440.30" cy="261.50" r="28.00"><stop offset="0" stop-color="#fff" stop-opacity="1"/><stop offset="0.5" stop-color="#fff" stop-opacity="0.9"/><stop offset="0.8" stop-color="#fff" stop-opacity="0.4"/><stop offset="1" stop-color="#fff" stop-opacity="0"/></radialGradient>
<mask id="m13" maskUnits="userSpaceOnUse" x="407.0" y="236.7" width="68.6" height="51.4"><rect x="407.0" y="236.7" width="68.6" height="51.4" fill="url(#g12)"/></mask>
<rect x="407.0" y="236.7" width="68.6" height="51.4" fill="url(#pw3)" mask="url(#m13)" transform="translate(8 1)"/>
<line x1="463.00" y1="285.40" x2="474.00" y2="285.40" stroke="#c8c838" stroke-width="1.0" opacity="0.55"/>
</g></g>
<clipPath id="c14"><rect x="332.30" y="290.90" width="68.60" height="51.60"/></clipPath>
<g clip-path="url(#c14)"><g filter="url(#bl)">
<rect x="332.30" y="290.90" width="68.60" height="51.60" fill="#a8a795"/>
<radialGradient id="g15" gradientUnits="userSpaceOnUse" cx="447.6" cy="229.3" r="170"><stop offset="0" stop-color="#a8a795" stop-opacity="1"/><stop offset="0.81" stop-color="#a8a795" stop-opacity="1"/><stop offset="0.842" stop-color="#cfcdbc" stop-opacity="1"/><stop offset="0.872" stop-color="#f0f0e8" stop-opacity="1"/><stop offset="0.9" stop-color="#fdfdf8" stop-opacity="1"/><stop offset="1" stop-color="#ffffff" stop-opacity="1"/></radialGradient>
<rect x="332.30" y="290.90" width="68.60" height="51.60" fill="url(#g15)"/>
<radialGradient id="g16" gradientUnits="userSpaceOnUse" cx="348.00" cy="296.00" r="24.00"><stop offset="0" stop-color="#b6aaa2" stop-opacity="0.6"/><stop offset="1" stop-color="#b6aaa2" stop-opacity="0"/></radialGradient>
<rect x="324.00" y="272.00" width="48.00" height="48.00" fill="url(#g16)"/>
<radialGradient id="g17" gradientUnits="userSpaceOnUse" cx="368.40" cy="314.30" r="9.00"><stop offset="0" stop-color="#ffffff" stop-opacity="1"/><stop offset="0.4" stop-color="#fafaf2" stop-opacity="1"/><stop offset="1" stop-color="#b0b0a0" stop-opacity="0"/></radialGradient>
<rect x="359.40" y="305.30" width="18.00" height="18.00" fill="url(#g17)"/>
<radialGradient id="g18" gradientUnits="userSpaceOnUse" cx="368.40" cy="314.30" r="12.00"><stop offset="0" stop-color="#fff" stop-opacity="1"/><stop offset="0.5" stop-color="#fff" stop-opacity="0.6"/><stop offset="1" stop-color="#fff" stop-opacity="0"/></radialGradient>
<mask id="m19" maskUnits="userSpaceOnUse" x="332.3" y="290.9" width="68.6" height="51.6"><rect x="332.3" y="290.9" width="68.6" height="51.6" fill="url(#g18)"/></mask>
<rect x="332.3" y="290.9" width="68.6" height="51.6" fill="url(#pw)" mask="url(#m19)" transform="translate(0 0)"/>
<radialGradient id="g20" gradientUnits="userSpaceOnUse" cx="391.00" cy="323.00" r="3.50"><stop offset="0" stop-color="#c4c4b4" stop-opacity="0.8"/><stop offset="1" stop-color="#c4c4b4" stop-opacity="0"/></radialGradient>
<rect x="387.50" y="319.50" width="7.00" height="7.00" fill="url(#g20)"/>
<line x1="386.00" y1="339.50" x2="398.00" y2="339.50" stroke="#c8c838" stroke-width="1.0" opacity="0.55"/>
</g></g>
<clipPath id="c21"><rect x="407.00" y="290.90" width="68.60" height="51.60"/></clipPath>
<g clip-path="url(#c21)"><g filter="url(#bl)">
<rect x="407.00" y="290.90" width="68.60" height="51.60" fill="#53543f"/>
<radialGradient id="g22" gradientUnits="userSpaceOnUse" cx="440.30" cy="317.20" r="38.00"><stop offset="0" stop-color="#e8e8d8" stop-opacity="1"/><stop offset="0.45" stop-color="#e0e0ce" stop-opacity="1"/><stop offset="0.7" stop-color="#9c9c84" stop-opacity="0.7"/><stop offset="1" stop-color="#4a4b38" stop-opacity="0"/></radialGradient>
<rect x="402.30" y="279.20" width="76.00" height="76.00" fill="url(#g22)"/>
<radialGradient id="g23" gradientUnits="userSpaceOnUse" cx="440.30" cy="317.20" r="38.00"><stop offset="0" stop-color="#fff" stop-opacity="1"/><stop offset="0.5" stop-color="#fff" stop-opacity="1"/><stop offset="0.8" stop-color="#fff" stop-opacity="0.7"/><stop offset="1" stop-color="#fff" stop-opacity="0"/></radialGradient>
<mask id="m24" maskUnits="userSpaceOnUse" x="407.0" y="290.9" width="68.6" height="51.6"><rect x="407.0" y="290.9" width="68.6" height="51.6" fill="url(#g23)"/></mask>
<rect x="407.0" y="290.9" width="68.6" height="51.6" fill="url(#pw2)" mask="url(#m24)" transform="translate(7 2)"/>
<radialGradient id="g25" gradientUnits="userSpaceOnUse" cx="440.30" cy="317.20" r="19.00" gradientTransform="translate(440.3 317.2) rotate(0) scale(0.95 1.05) translate(-440.3 -317.2)"><stop offset="0" stop-color="#fbfbf2" stop-opacity="1"/><stop offset="0.75" stop-color="#fafaf0" stop-opacity="1"/><stop offset="1" stop-color="#fafaf0" stop-opacity="0"/></radialGradient>
<rect x="420.35" y="297.25" width="39.90" height="39.90" fill="url(#g25)"/>
<radialGradient id="g26" gradientUnits="userSpaceOnUse" cx="440.30" cy="317.20" r="13.00" gradientTransform="translate(440.3 317.2) rotate(0) scale(0.86 1.0) translate(-440.3 -317.2)"><stop offset="0" stop-color="#b8ad8c" stop-opacity="1"/><stop offset="0.72" stop-color="#c4ba9c" stop-opacity="1"/><stop offset="1" stop-color="#f6f6ea" stop-opacity="0"/></radialGradient>
<rect x="427.30" y="304.20" width="26.00" height="26.00" fill="url(#g26)"/>
<line x1="464.00" y1="339.50" x2="474.00" y2="339.50" stroke="#c8c838" stroke-width="1.0" opacity="0.55"/>
</g></g>
<clipPath id="c27"><rect x="332.30" y="346.00" width="68.60" height="51.50"/></clipPath>
<g clip-path="url(#c27)"><g filter="url(#bl)">
<rect x="332.30" y="346.00" width="68.60" height="51.50" fill="#8e8f80"/>
<radialGradient id="g28" gradientUnits="userSpaceOnUse" cx="368.50" cy="372.00" r="10.00"><stop offset="0" stop-color="#fff" stop-opacity="0.75"/><stop offset="0.6" stop-color="#fff" stop-opacity="0.55"/><stop offset="1" stop-color="#fff" stop-opacity="0"/></radialGradient>
<mask id="m29" maskUnits="userSpaceOnUse" x="332.3" y="346.0" width="68.6" height="51.5"><rect x="332.3" y="346.0" width="68.6" height="51.5" fill="url(#g28)"/></mask>
<rect x="332.3" y="346.0" width="68.6" height="51.5" fill="url(#pw)" mask="url(#m29)" transform="translate(4 4)"/>
<line x1="386.00" y1="394.50" x2="398.00" y2="394.50" stroke="#c8c838" stroke-width="1.0" opacity="0.55"/>
</g></g>
<clipPath id="c30"><rect x="407.00" y="346.00" width="68.60" height="51.50"/></clipPath>
<g clip-path="url(#c30)"><g filter="url(#bl)">
<rect x="407.00" y="346.00" width="68.60" height="51.50" fill="#2e3024"/>
<radialGradient id="g31" gradientUnits="userSpaceOnUse" cx="470.00" cy="362.00" r="22.00"><stop offset="0" stop-color="#5e604a" stop-opacity="0.8"/><stop offset="1" stop-color="#5e604a" stop-opacity="0"/></radialGradient>
<rect x="448.00" y="340.00" width="44.00" height="44.00" fill="url(#g31)"/>
<radialGradient id="g32" gradientUnits="userSpaceOnUse" cx="438.90" cy="374.00" r="34.00"><stop offset="0" stop-color="#fff" stop-opacity="1"/><stop offset="0.5" stop-color="#fff" stop-opacity="1"/><stop offset="0.75" stop-color="#fff" stop-opacity="0.6"/><stop offset="1" stop-color="#fff" stop-opacity="0"/></radialGradient>
<mask id="m33" maskUnits="userSpaceOnUse" x="407.0" y="346.0" width="68.6" height="51.5"><rect x="407.0" y="346.0" width="68.6" height="51.5" fill="url(#g32)"/></mask>
<rect x="407.0" y="346.0" width="68.6" height="51.5" fill="url(#pw2)" mask="url(#m33)" transform="translate(2 9)"/>
<radialGradient id="g34" gradientUnits="userSpaceOnUse" cx="438.90" cy="374.00" r="26.00"><stop offset="0" stop-color="#fff" stop-opacity="1"/><stop offset="0.6" stop-color="#fff" stop-opacity="1"/><stop offset="0.85" stop-color="#fff" stop-opacity="0.7"/><stop offset="1" stop-color="#fff" stop-opacity="0"/></radialGradient>
<mask id="m35" maskUnits="userSpaceOnUse" x="407.0" y="346.0" width="68.6" height="51.5"><rect x="407.0" y="346.0" width="68.6" height="51.5" fill="url(#g34)"/></mask>
<rect x="407.0" y="346.0" width="68.6" height="51.5" fill="url(#pw3)" mask="url(#m35)" transform="translate(4 2)"/>
<radialGradient id="g36" gradientUnits="userSpaceOnUse" cx="438.90" cy="374.00" r="22.00"><stop offset="0" stop-color="#f6f6ec" stop-opacity="1"/><stop offset="0.66" stop-color="#f2f2e6" stop-opacity="1"/><stop offset="0.82" stop-color="#c8c8b4" stop-opacity="0.55"/><stop offset="1" stop-color="#5a5c48" stop-opacity="0"/></radialGradient>
<rect x="416.90" y="352.00" width="44.00" height="44.00" fill="url(#g36)"/>
<radialGradient id="g37" gradientUnits="userSpaceOnUse" cx="438.90" cy="374.00" r="9.00"><stop offset="0" stop-color="#b2aa8e" stop-opacity="1"/><stop offset="0.55" stop-color="#c2baa0" stop-opacity="0.9"/><stop offset="1" stop-color="#f2f2e6" stop-opacity="0"/></radialGradient>
<rect x="429.90" y="365.00" width="18.00" height="18.00" fill="url(#g37)"/>
<line x1="464.00" y1="393.50" x2="474.00" y2="393.50" stroke="#c8c838" stroke-width="1.0" opacity="0.55"/>
</g></g>
<filter id="bl2" x="-5%" y="-5%" width="110%" height="110%"><feGaussianBlur stdDeviation="0.55"/></filter>
<text x="1.60" y="429.66" font-size="16" text-anchor="start" fill="#000" font-weight="bold" textLength="13.4" lengthAdjust="spacingAndGlyphs">D</text>
<text x="104.20" y="436.40" font-size="8.6" text-anchor="middle" fill="#000" font-weight="bold" textLength="35.8" lengthAdjust="spacingAndGlyphs">BCR/ABL</text>
<text x="177.20" y="425.70" font-size="8.6" text-anchor="middle" fill="#000" font-weight="bold" textLength="25.8" lengthAdjust="spacingAndGlyphs">Hes1 +</text>
<text x="177.00" y="435.30" font-size="8.6" text-anchor="middle" fill="#000" font-weight="bold" textLength="35.2" lengthAdjust="spacingAndGlyphs">BCR/ABL</text>
<text x="57.40" y="466.90" font-size="8.6" text-anchor="middle" fill="#000" font-weight="bold" textLength="16.2" lengthAdjust="spacingAndGlyphs">KSL</text>
<text x="57.80" y="520.50" font-size="8.6" text-anchor="middle" fill="#000" font-weight="bold" textLength="18.3" lengthAdjust="spacingAndGlyphs">CMP</text>
<text x="57.80" y="574.90" font-size="8.6" text-anchor="middle" fill="#000" font-weight="bold" textLength="18.3" lengthAdjust="spacingAndGlyphs">GMP</text>
<clipPath id="c38"><rect x="70.50" y="438.80" width="69.00" height="52.00"/></clipPath>
<g clip-path="url(#c38)"><g filter="url(#bl2)">
<rect x="70.50" y="438.80" width="69.00" height="52.00" fill="#f4f2f6"/>
<radialGradient id="g39" gradientUnits="userSpaceOnUse" cx="100.00" cy="462.00" r="30.00"><stop offset="0" stop-color="#ece2f4" stop-opacity="0.8"/><stop offset="1" stop-color="#ece2f4" stop-opacity="0"/></radialGradient>
<rect x="70.00" y="432.00" width="60.00" height="60.00" fill="url(#g39)"/>
<ellipse cx="80" cy="455" rx="5" ry="8" fill="#e8d4f4" opacity="0.8"/>
<ellipse cx="90.3" cy="461.4" rx="6" ry="6" fill="#e8d4f4" opacity="0.8"/>
<ellipse cx="99" cy="460.5" rx="5" ry="5" fill="#e8d4f4" opacity="0.8"/>
<ellipse cx="83.2" cy="472" rx="7" ry="5" fill="#e8d4f4" opacity="0.8"/>
<ellipse cx="95.6" cy="471.5" rx="5" ry="4" fill="#e8d4f4" opacity="0.8"/>
<ellipse cx="90.7" cy="481.2" rx="5" ry="5" fill="#e8d4f4" opacity="0.8"/>
<ellipse cx="87.6" cy="488.3" rx="5" ry="4" fill="#e8d4f4" opacity="0.8"/>
<ellipse cx="108" cy="450" rx="6" ry="5" fill="#e8d4f4" opacity="0.8"/>
<ellipse cx="122" cy="451.2" rx="7" ry="7" fill="#e8d4f4" opacity="0.8"/>
<ellipse cx="110" cy="464" rx="8" ry="6" fill="#e8d4f4" opacity="0.8"/>
<ellipse cx="119" cy="462.3" rx="6" ry="5" fill="#e8d4f4" opacity="0.8"/>
<ellipse cx="134.4" cy="468" rx="6" ry="6" fill="#e8d4f4" opacity="0.8"/>
<ellipse cx="129.6" cy="479.5" rx="6" ry="5" fill="#e8d4f4" opacity="0.8"/>
<ellipse cx="106" cy="484.8" rx="7" ry="7" fill="#e8d4f4" opacity="0.8"/>
<ellipse cx="72.6" cy="463.1" rx="4" ry="4" fill="#e8d4f4" opacity="0.8"/>
<ellipse cx="79.5" cy="456.5" rx="2.4" ry="3.4" fill="#f0e6f8" stroke="#8a2cce" stroke-width="1.92"/>
<ellipse cx="72.6" cy="463.1" rx="2.2" ry="2.6" fill="#f0e6f8" stroke="#8a2cce" stroke-width="2.16"/>
<ellipse cx="90.3" cy="461.4" rx="3.6" ry="3.9" fill="#f0e6f8" stroke="#8a2cce" stroke-width="2.28"/>
<ellipse cx="99.1" cy="460.5" rx="2.8" ry="3.2" fill="#f0e6f8" stroke="#8a2cce" stroke-width="2.28"/>
<ellipse cx="83.2" cy="472" rx="4.8" ry="2.9" fill="#f0e6f8" stroke="#8a2cce" stroke-width="2.16"/>
<ellipse cx="90.7" cy="481.2" rx="3.2" ry="3.4" fill="#f0e6f8" stroke="#8a2cce" stroke-width="2.28"/>
<ellipse cx="87.6" cy="488.5" rx="3.4" ry="2.4" fill="#f0e6f8" stroke="#8a2cce" stroke-width="2.04"/>
<ellipse cx="122.1" cy="451.2" rx="4.6" ry="4.6" fill="#f0e6f8" stroke="#8a2cce" stroke-width="3.60"/>
<ellipse cx="96" cy="446" rx="2" ry="2" fill="#f0e6f8" stroke="#8a2cce" stroke-width="1.44"/>
<path d="M79.2,447.5 L79.6,455" stroke="#8a2cce" stroke-width="1.8" fill="none"/>
<ellipse cx="84.5" cy="455.2" rx="1.6" ry="1.4" fill="#7a28c0" transform="rotate(0 84.5 455.2)"/>
<ellipse cx="103.5" cy="446.8" rx="2.4" ry="3" fill="#8a30cc" transform="rotate(0 103.5 446.8)"/>
<ellipse cx="105.8" cy="446.8" rx="2.6" ry="2.4" fill="#7a28c0" transform="rotate(0 105.8 446.8)"/>
<ellipse cx="110.2" cy="449" rx="2.8" ry="2.4" fill="#6a20b4" transform="rotate(0 110.2 449)"/>
<ellipse cx="112" cy="453.9" rx="2.2" ry="2" fill="#5e1aa8" transform="rotate(0 112 453.9)"/>
<ellipse cx="131.4" cy="454.8" rx="2.4" ry="2.2" fill="#6a22b2" transform="rotate(0 131.4 454.8)"/>
<ellipse cx="107.5" cy="464.5" rx="5.4" ry="3.4" fill="#5a18a8" transform="rotate(30 107.5 464.5)"/>
<ellipse cx="119" cy="462.3" rx="4.2" ry="3" fill="#5a18a4" transform="rotate(10 119 462.3)"/>
<ellipse cx="127.4" cy="459.2" rx="1.8" ry="1.6" fill="#6a22b2" transform="rotate(0 127.4 459.2)"/>
<ellipse cx="130.5" cy="461" rx="1.6" ry="1.4" fill="#6a22b2" transform="rotate(0 130.5 461)"/>
<ellipse cx="134.4" cy="468" rx="4" ry="3.4" fill="#9a34d4" transform="rotate(0 134.4 468)"/>
<ellipse cx="118.1" cy="469.8" rx="1.8" ry="1.6" fill="#6a22b2" transform="rotate(0 118.1 469.8)"/>
<ellipse cx="116.4" cy="473" rx="1.6" ry="1.4" fill="#7a2ac0" transform="rotate(0 116.4 473)"/>
<ellipse cx="127.6" cy="478.5" rx="2.8" ry="2.6" fill="#8a30cc" transform="rotate(0 127.6 478.5)"/>
<ellipse cx="131.6" cy="481" rx="2.8" ry="2.4" fill="#8a30cc" transform="rotate(0 131.6 481)"/>
<ellipse cx="106.4" cy="484.8" rx="5" ry="4.8" fill="#9434d2" transform="rotate(0 106.4 484.8)"/>
<ellipse cx="95.6" cy="471.5" rx="3.6" ry="1.9" fill="#8a2cce" transform="rotate(-35 95.6 471.5)"/>
<ellipse cx="114" cy="458" rx="3" ry="2.4" fill="#6a22b2" transform="rotate(0 114 458)"/>
<ellipse cx="93" cy="440.6" rx="3" ry="1.6" fill="#b8a0d0" transform="rotate(0 93 440.6)"/>
<ellipse cx="104" cy="457" rx="2.6" ry="2.4" fill="#7024b8" transform="rotate(0 104 457)"/>
<ellipse cx="109" cy="456" rx="3" ry="2.6" fill="#6420b0" transform="rotate(0 109 456)"/>
<ellipse cx="113.5" cy="462" rx="3.4" ry="2.8" fill="#5a18a8" transform="rotate(0 113.5 462)"/>
<ellipse cx="106" cy="469" rx="3" ry="2.2" fill="#6a22b2" transform="rotate(20 106 469)"/>
<ellipse cx="101" cy="452" rx="2.2" ry="2" fill="#8a30cc" transform="rotate(0 101 452)"/>
<ellipse cx="116.5" cy="450" rx="2.2" ry="2.6" fill="#7a28c0" transform="rotate(0 116.5 450)"/>
<ellipse cx="126" cy="455.5" rx="2" ry="2.4" fill="#7a28c0" transform="rotate(0 126 455.5)"/>
<ellipse cx="106.4" cy="484.8" rx="2.2" ry="2" fill="#6a1aae"/>
<ellipse cx="122.1" cy="451.2" rx="2" ry="2" fill="#c090e0"/>
<rect x="126.00" y="486.50" width="8.00" height="2.50" fill="#f0ec90" opacity="0.7"/>
</g></g>
<clipPath id="c40"><rect x="141.80" y="438.80" width="69.00" height="52.00"/></clipPath>
<g clip-path="url(#c40)"><g filter="url(#bl2)">
<rect x="141.80" y="438.80" width="69.00" height="52.00" fill="#ebe7ef"/>
<g stroke="#f2eafc" stroke-width="0.8" stroke-opacity="0.85"><circle cx="187.0" cy="463.5" r="5.9" fill="#a466dc"/><circle cx="199.4" cy="483.9" r="6.4" fill="#a060d8"/><circle cx="176.7" cy="448.4" r="5.6" fill="#8e4ccc"/><circle cx="166.1" cy="470.1" r="5.7" fill="#9652d2"/><circle cx="199.5" cy="448.2" r="6.0" fill="#a466dc"/><circle cx="185.5" cy="435.9" r="6.1" fill="#9652d2"/><circle cx="212.0" cy="456.6" r="5.8" fill="#a466dc"/><circle cx="155.4" cy="482.2" r="5.9" fill="#a060d8"/><circle cx="213.3" cy="489.2" r="6.8" fill="#9652d2"/><circle cx="197.1" cy="469.8" r="6.8" fill="#9652d2"/><circle cx="169.2" cy="456.4" r="6.3" fill="#8a46c6"/><circle cx="167.3" cy="495.5" r="6.2" fill="#8a46c6"/><circle cx="193.5" cy="495.4" r="6.4" fill="#a060d8"/><circle cx="175.6" cy="467.9" r="6.8" fill="#8a46c6"/><circle cx="198.2" cy="457.0" r="6.7" fill="#8e4ccc"/><circle cx="183.5" cy="488.6" r="6.4" fill="#9a58d6"/><circle cx="206.0" cy="443.9" r="5.7" fill="#a060d8"/><circle cx="175.0" cy="485.7" r="5.7" fill="#9a58d6"/><circle cx="207.8" cy="494.8" r="6.8" fill="#8a46c6"/><circle cx="212.6" cy="466.4" r="6.8" fill="#a466dc"/><circle cx="206.4" cy="471.1" r="6.3" fill="#8a46c6"/><circle cx="212.2" cy="435.3" r="6.5" fill="#a466dc"/><circle cx="166.6" cy="477.8" r="6.5" fill="#a060d8"/><circle cx="199.3" cy="434.3" r="6.3" fill="#a060d8"/><circle cx="177.7" cy="457.9" r="6.2" fill="#9a58d6"/><circle cx="190.8" cy="449.0" r="7.1" fill="#9652d2"/><circle cx="151.7" cy="493.4" r="5.7" fill="#a466dc"/><circle cx="200.8" cy="491.8" r="6.7" fill="#9a58d6"/><circle cx="190.6" cy="474.3" r="5.9" fill="#8a46c6"/><circle cx="178.2" cy="438.7" r="6.9" fill="#8e4ccc"/><circle cx="184.8" cy="480.7" r="6.6" fill="#a466dc"/><circle cx="215.6" cy="446.0" r="6.0" fill="#8a46c6"/><circle cx="176.1" cy="478.0" r="5.9" fill="#8a46c6"/><circle cx="176.3" cy="493.5" r="6.2" fill="#8a46c6"/><circle cx="207.2" cy="481.6" r="6.5" fill="#a060d8"/><circle cx="205.2" cy="460.2" r="6.7" fill="#9a58d6"/><circle cx="162.8" cy="489.1" r="7.0" fill="#8e4ccc"/><circle cx="194.4" cy="441.0" r="6.2" fill="#9652d2"/><circle cx="184.0" cy="444.3" r="5.7" fill="#8e4ccc"/><circle cx="158.7" cy="475.2" r="6.8" fill="#9a58d6"/><circle cx="183.2" cy="452.7" r="7.2" fill="#8a46c6"/><circle cx="215.0" cy="475.3" r="7.1" fill="#a060d8"/><circle cx="181.9" cy="472.6" r="5.6" fill="#8e4ccc"/><circle cx="162.4" cy="461.3" r="6.5" fill="#9652d2"/><circle cx="191.4" cy="485.4" r="5.9" fill="#8e4ccc"/><circle cx="168.5" cy="448.7" r="6.9" fill="#9a58d6"/></g>
<g><ellipse cx="186.4" cy="462.2" rx="3.2" ry="2.9" fill="#6a24b0" fill-opacity="0.6"/><ellipse cx="198.5" cy="482.9" rx="4.4" ry="4.1" fill="#7430ba" fill-opacity="0.6"/><ellipse cx="177.9" cy="448.1" rx="3.0" ry="3.0" fill="#7a36be" fill-opacity="0.6"/><ellipse cx="167.2" cy="469.4" rx="3.9" ry="3.7" fill="#5e1ea6" fill-opacity="0.6"/><ellipse cx="198.7" cy="449.9" rx="3.4" ry="2.9" fill="#7a36be" fill-opacity="0.6"/><ellipse cx="186.1" cy="435.8" rx="3.9" ry="3.9" fill="#6a24b0" fill-opacity="0.6"/><ellipse cx="210.9" cy="455.5" rx="3.2" ry="3.3" fill="#6a24b0" fill-opacity="0.6"/><ellipse cx="156.4" cy="481.3" rx="4.2" ry="3.1" fill="#5e1ea6" fill-opacity="0.6"/><ellipse cx="214.8" cy="491.0" rx="4.8" ry="4.9" fill="#7a36be" fill-opacity="0.6"/><ellipse cx="196.2" cy="469.7" rx="4.4" ry="3.5" fill="#7a36be" fill-opacity="0.6"/><ellipse cx="169.8" cy="455.0" rx="3.4" ry="3.2" fill="#6a24b0" fill-opacity="0.6"/><ellipse cx="169.0" cy="494.6" rx="4.2" ry="3.5" fill="#7a36be" fill-opacity="0.6"/><ellipse cx="192.9" cy="497.0" rx="4.4" ry="4.8" fill="#7a36be" fill-opacity="0.6"/><ellipse cx="174.4" cy="469.3" rx="3.8" ry="3.2" fill="#5e1ea6" fill-opacity="0.6"/><ellipse cx="199.5" cy="456.2" rx="3.5" ry="3.7" fill="#6a24b0" fill-opacity="0.6"/><ellipse cx="182.1" cy="489.8" rx="3.3" ry="2.5" fill="#7a36be" fill-opacity="0.6"/><ellipse cx="204.8" cy="445.5" rx="3.7" ry="3.1" fill="#7430ba" fill-opacity="0.6"/><ellipse cx="175.1" cy="485.5" rx="3.5" ry="3.4" fill="#7430ba" fill-opacity="0.6"/><ellipse cx="208.1" cy="495.4" rx="4.3" ry="3.6" fill="#7430ba" fill-opacity="0.6"/><ellipse cx="213.1" cy="467.4" rx="4.4" ry="4.5" fill="#6a24b0" fill-opacity="0.6"/><ellipse cx="206.3" cy="471.4" rx="3.9" ry="3.1" fill="#7430ba" fill-opacity="0.6"/><ellipse cx="212.5" cy="434.8" rx="4.5" ry="4.3" fill="#7a36be" fill-opacity="0.6"/><ellipse cx="167.4" cy="477.4" rx="4.1" ry="4.4" fill="#7a36be" fill-opacity="0.6"/><ellipse cx="200.5" cy="434.5" rx="3.3" ry="2.6" fill="#7a36be" fill-opacity="0.6"/><ellipse cx="176.1" cy="459.0" rx="3.9" ry="4.2" fill="#7a36be" fill-opacity="0.6"/><ellipse cx="192.1" cy="450.1" rx="4.0" ry="4.3" fill="#7a36be" fill-opacity="0.6"/><ellipse cx="153.1" cy="492.3" rx="3.0" ry="3.2" fill="#6a24b0" fill-opacity="0.6"/><ellipse cx="200.7" cy="491.2" rx="3.8" ry="3.3" fill="#6a24b0" fill-opacity="0.6"/><ellipse cx="192.2" cy="476.0" rx="3.7" ry="3.0" fill="#7430ba" fill-opacity="0.6"/><ellipse cx="179.2" cy="439.9" rx="4.4" ry="3.9" fill="#5e1ea6" fill-opacity="0.6"/><ellipse cx="184.5" cy="481.6" rx="3.5" ry="3.8" fill="#6a24b0" fill-opacity="0.6"/><ellipse cx="216.3" cy="446.7" rx="3.5" ry="3.0" fill="#7a36be" fill-opacity="0.6"/><ellipse cx="174.5" cy="476.3" rx="3.5" ry="3.3" fill="#7a36be" fill-opacity="0.6"/><ellipse cx="175.6" cy="493.6" rx="4.1" ry="4.2" fill="#5e1ea6" fill-opacity="0.6"/><ellipse cx="205.7" cy="480.2" rx="4.3" ry="4.1" fill="#6a24b0" fill-opacity="0.6"/><ellipse cx="204.5" cy="459.5" rx="3.6" ry="2.9" fill="#5e1ea6" fill-opacity="0.6"/><ellipse cx="161.4" cy="490.3" rx="4.2" ry="3.0" fill="#7a36be" fill-opacity="0.6"/><ellipse cx="195.4" cy="440.8" rx="3.3" ry="2.4" fill="#7430ba" fill-opacity="0.6"/><ellipse cx="183.3" cy="444.0" rx="2.9" ry="2.1" fill="#7a36be" fill-opacity="0.6"/><ellipse cx="157.7" cy="476.1" rx="4.6" ry="4.4" fill="#7430ba" fill-opacity="0.6"/><ellipse cx="185.0" cy="454.1" rx="4.4" ry="3.7" fill="#7430ba" fill-opacity="0.6"/><ellipse cx="215.6" cy="476.8" rx="3.6" ry="3.0" fill="#7430ba" fill-opacity="0.6"/><ellipse cx="181.7" cy="471.7" rx="3.0" ry="3.0" fill="#5e1ea6" fill-opacity="0.6"/><ellipse cx="163.5" cy="460.4" rx="4.5" ry="3.7" fill="#7a36be" fill-opacity="0.6"/><ellipse cx="189.7" cy="487.2" rx="3.7" ry="2.8" fill="#7a36be" fill-opacity="0.6"/><ellipse cx="168.2" cy="449.6" rx="3.7" ry="2.8" fill="#6a24b0" fill-opacity="0.6"/></g>
<radialGradient id="g41" gradientUnits="userSpaceOnUse" cx="208.00" cy="440.00" r="12.00"><stop offset="0" stop-color="#f0ecf4" stop-opacity="0.9"/><stop offset="1" stop-color="#f0ecf4" stop-opacity="0"/></radialGradient>
<rect x="196.00" y="428.00" width="24.00" height="24.00" fill="url(#g41)"/>
<rect x="191.00" y="486.00" width="6.00" height="2.50" fill="#f0d070" opacity="0.8"/>
</g></g>
<clipPath id="c42"><rect x="70.50" y="492.80" width="69.00" height="52.00"/></clipPath>
<g clip-path="url(#c42)"><g filter="url(#bl2)">
<rect x="70.50" y="492.80" width="69.00" height="52.00" fill="#e5e5e7"/>
<circle cx="102.3" cy="518" r="8.2" fill="#e4e2ee" stroke="#c4bce0" stroke-width="0.9"/>
<circle cx="105.3" cy="520.6" r="3.4" fill="#8a2ed0"/>
<circle cx="105.3" cy="520.6" r="4.6" fill="none" stroke="#cc88e8" stroke-width="1" opacity="0.7"/>
<rect x="122.00" y="538.00" width="8.00" height="2.50" fill="#f2eeb0" opacity="0.6"/>
</g></g>
<clipPath id="c43"><rect x="141.80" y="492.80" width="69.00" height="52.00"/></clipPath>
<g clip-path="url(#c43)"><g filter="url(#bl2)">
<rect x="141.80" y="492.80" width="69.00" height="52.00" fill="#9a5ad2"/>
<g stroke="#f2eafc" stroke-width="0.8" stroke-opacity="0.85"><circle cx="181.9" cy="527.0" r="6.9" fill="#a466dc"/><circle cx="158.7" cy="528.2" r="7.0" fill="#9a58d6"/><circle cx="208.6" cy="499.4" r="6.6" fill="#8a46c6"/><circle cx="185.6" cy="519.0" r="7.1" fill="#a060d8"/><circle cx="178.5" cy="515.4" r="7.1" fill="#9652d2"/><circle cx="187.0" cy="506.5" r="6.1" fill="#a466dc"/><circle cx="176.0" cy="491.1" r="6.6" fill="#9652d2"/><circle cx="194.9" cy="514.2" r="7.0" fill="#8a46c6"/><circle cx="210.1" cy="522.2" r="6.7" fill="#9a58d6"/><circle cx="146.1" cy="491.3" r="7.2" fill="#9652d2"/><circle cx="159.3" cy="501.0" r="7.0" fill="#a466dc"/><circle cx="196.0" cy="495.4" r="6.1" fill="#9a58d6"/><circle cx="137.3" cy="520.3" r="6.1" fill="#9652d2"/><circle cx="167.9" cy="499.3" r="5.8" fill="#9a58d6"/><circle cx="139.4" cy="541.9" r="6.8" fill="#8e4ccc"/><circle cx="161.8" cy="491.4" r="6.0" fill="#a060d8"/><circle cx="179.4" cy="536.5" r="6.1" fill="#a466dc"/><circle cx="166.8" cy="536.2" r="5.8" fill="#9a58d6"/><circle cx="205.7" cy="488.7" r="6.5" fill="#9652d2"/><circle cx="171.8" cy="507.4" r="7.0" fill="#a466dc"/><circle cx="206.0" cy="547.4" r="6.4" fill="#9a58d6"/><circle cx="138.4" cy="512.4" r="6.9" fill="#a060d8"/><circle cx="151.4" cy="531.9" r="6.6" fill="#8e4ccc"/><circle cx="196.9" cy="547.7" r="6.9" fill="#a060d8"/><circle cx="196.1" cy="524.2" r="6.4" fill="#9652d2"/><circle cx="144.1" cy="504.6" r="6.5" fill="#9652d2"/><circle cx="182.1" cy="500.1" r="5.9" fill="#a466dc"/><circle cx="210.0" cy="535.7" r="6.5" fill="#a060d8"/><circle cx="215.5" cy="529.9" r="5.6" fill="#8a46c6"/><circle cx="211.0" cy="513.4" r="7.1" fill="#8e4ccc"/><circle cx="198.5" cy="536.9" r="6.0" fill="#a060d8"/><circle cx="138.1" cy="488.2" r="7.0" fill="#a466dc"/><circle cx="163.6" cy="518.5" r="6.3" fill="#9a58d6"/><circle cx="152.8" cy="495.8" r="5.8" fill="#9a58d6"/><circle cx="173.1" cy="527.4" r="6.0" fill="#8a46c6"/><circle cx="163.4" cy="510.2" r="6.0" fill="#8e4ccc"/><circle cx="140.1" cy="497.7" r="7.2" fill="#a060d8"/><circle cx="142.9" cy="526.5" r="5.9" fill="#a466dc"/><circle cx="152.6" cy="542.6" r="6.3" fill="#8e4ccc"/><circle cx="201.0" cy="505.4" r="6.8" fill="#8e4ccc"/><circle cx="144.6" cy="535.4" r="5.9" fill="#a060d8"/><circle cx="149.8" cy="511.6" r="6.4" fill="#8a46c6"/><circle cx="147.5" cy="520.2" r="7.0" fill="#a466dc"/><circle cx="215.2" cy="543.6" r="6.4" fill="#9652d2"/><circle cx="173.0" cy="544.6" r="6.0" fill="#a060d8"/><circle cx="161.8" cy="543.8" r="6.3" fill="#9652d2"/><circle cx="214.9" cy="492.7" r="6.3" fill="#8e4ccc"/><circle cx="187.3" cy="534.9" r="5.6" fill="#9652d2"/><circle cx="187.8" cy="546.8" r="6.9" fill="#9a58d6"/><circle cx="147.2" cy="549.2" r="7.0" fill="#9652d2"/><circle cx="188.4" cy="489.3" r="7.0" fill="#8a46c6"/><circle cx="202.6" cy="512.9" r="6.1" fill="#8a46c6"/><circle cx="213.3" cy="505.5" r="6.7" fill="#a466dc"/><circle cx="172.0" cy="519.5" r="6.6" fill="#8a46c6"/><circle cx="202.9" cy="528.7" r="6.0" fill="#8a46c6"/><circle cx="137.1" cy="531.6" r="6.5" fill="#a060d8"/><circle cx="180.2" cy="548.8" r="5.9" fill="#a060d8"/><circle cx="155.6" cy="519.1" r="6.9" fill="#8e4ccc"/><circle cx="137.6" cy="549.6" r="5.8" fill="#9652d2"/><circle cx="197.7" cy="487.9" r="6.1" fill="#9a58d6"/></g>
<g><ellipse cx="183.1" cy="526.4" rx="4.3" ry="4.0" fill="#5e1ea6" fill-opacity="0.6"/><ellipse cx="160.4" cy="526.6" rx="4.8" ry="4.7" fill="#7430ba" fill-opacity="0.6"/><ellipse cx="208.5" cy="497.9" rx="3.4" ry="3.0" fill="#5e1ea6" fill-opacity="0.6"/><ellipse cx="185.0" cy="517.4" rx="3.9" ry="4.0" fill="#6a24b0" fill-opacity="0.6"/><ellipse cx="178.0" cy="514.2" rx="4.3" ry="4.7" fill="#6a24b0" fill-opacity="0.6"/><ellipse cx="187.8" cy="507.8" rx="3.4" ry="3.1" fill="#7430ba" fill-opacity="0.6"/><ellipse cx="176.6" cy="490.2" rx="3.9" ry="3.8" fill="#5e1ea6" fill-opacity="0.6"/><ellipse cx="196.0" cy="515.1" rx="4.4" ry="4.8" fill="#6a24b0" fill-opacity="0.6"/><ellipse cx="208.3" cy="522.3" rx="4.4" ry="4.2" fill="#7a36be" fill-opacity="0.6"/><ellipse cx="145.5" cy="492.0" rx="3.9" ry="3.5" fill="#7a36be" fill-opacity="0.6"/><ellipse cx="160.0" cy="501.1" rx="4.4" ry="4.7" fill="#5e1ea6" fill-opacity="0.6"/><ellipse cx="194.8" cy="496.5" rx="4.1" ry="3.6" fill="#7430ba" fill-opacity="0.6"/><ellipse cx="136.4" cy="519.6" rx="3.3" ry="3.0" fill="#6a24b0" fill-opacity="0.6"/><ellipse cx="167.2" cy="498.5" rx="3.7" ry="2.7" fill="#7a36be" fill-opacity="0.6"/><ellipse cx="139.5" cy="542.9" rx="3.8" ry="4.2" fill="#6a24b0" fill-opacity="0.6"/><ellipse cx="160.3" cy="491.8" rx="4.0" ry="4.0" fill="#7a36be" fill-opacity="0.6"/><ellipse cx="179.8" cy="537.3" rx="4.1" ry="3.8" fill="#7a36be" fill-opacity="0.6"/><ellipse cx="167.7" cy="537.9" rx="3.4" ry="2.7" fill="#5e1ea6" fill-opacity="0.6"/><ellipse cx="206.2" cy="489.6" rx="3.3" ry="2.7" fill="#7430ba" fill-opacity="0.6"/><ellipse cx="170.5" cy="508.6" rx="4.0" ry="3.8" fill="#5e1ea6" fill-opacity="0.6"/><ellipse cx="204.6" cy="545.9" rx="4.2" ry="3.8" fill="#7a36be" fill-opacity="0.6"/><ellipse cx="138.7" cy="511.2" rx="4.7" ry="3.3" fill="#7430ba" fill-opacity="0.6"/><ellipse cx="153.1" cy="531.3" rx="3.8" ry="3.6" fill="#5e1ea6" fill-opacity="0.6"/><ellipse cx="198.5" cy="549.0" rx="3.6" ry="3.0" fill="#7430ba" fill-opacity="0.6"/><ellipse cx="194.6" cy="524.7" rx="3.7" ry="3.4" fill="#5e1ea6" fill-opacity="0.6"/><ellipse cx="145.8" cy="503.4" rx="3.7" ry="3.1" fill="#5e1ea6" fill-opacity="0.6"/><ellipse cx="182.3" cy="501.5" rx="4.0" ry="3.2" fill="#7430ba" fill-opacity="0.6"/><ellipse cx="209.0" cy="535.6" rx="3.3" ry="2.7" fill="#5e1ea6" fill-opacity="0.6"/><ellipse cx="215.7" cy="529.3" rx="3.2" ry="3.0" fill="#6a24b0" fill-opacity="0.6"/><ellipse cx="212.7" cy="513.1" rx="3.7" ry="3.4" fill="#7a36be" fill-opacity="0.6"/><ellipse cx="199.3" cy="536.3" rx="3.6" ry="2.7" fill="#7430ba" fill-opacity="0.6"/><ellipse cx="138.6" cy="488.0" rx="3.7" ry="2.8" fill="#6a24b0" fill-opacity="0.6"/><ellipse cx="164.1" cy="519.5" rx="3.4" ry="2.9" fill="#7a36be" fill-opacity="0.6"/><ellipse cx="152.8" cy="495.7" rx="3.9" ry="3.5" fill="#5e1ea6" fill-opacity="0.6"/><ellipse cx="174.6" cy="525.8" rx="4.1" ry="3.0" fill="#7a36be" fill-opacity="0.6"/><ellipse cx="164.3" cy="508.6" rx="3.7" ry="3.1" fill="#5e1ea6" fill-opacity="0.6"/><ellipse cx="140.0" cy="499.1" rx="4.0" ry="4.2" fill="#6a24b0" fill-opacity="0.6"/><ellipse cx="142.2" cy="527.3" rx="3.1" ry="2.5" fill="#6a24b0" fill-opacity="0.6"/><ellipse cx="151.9" cy="540.9" rx="3.9" ry="3.3" fill="#7430ba" fill-opacity="0.6"/><ellipse cx="200.8" cy="505.0" rx="3.7" ry="2.8" fill="#5e1ea6" fill-opacity="0.6"/><ellipse cx="143.8" cy="534.1" rx="3.7" ry="2.8" fill="#7a36be" fill-opacity="0.6"/><ellipse cx="149.5" cy="511.1" rx="3.9" ry="3.9" fill="#7430ba" fill-opacity="0.6"/><ellipse cx="146.2" cy="521.0" rx="3.6" ry="2.8" fill="#5e1ea6" fill-opacity="0.6"/><ellipse cx="215.6" cy="544.6" rx="4.3" ry="3.4" fill="#6a24b0" fill-opacity="0.6"/><ellipse cx="173.2" cy="544.6" rx="3.6" ry="2.7" fill="#5e1ea6" fill-opacity="0.6"/><ellipse cx="162.8" cy="544.1" rx="4.4" ry="4.1" fill="#6a24b0" fill-opacity="0.6"/><ellipse cx="216.5" cy="491.7" rx="4.4" ry="4.1" fill="#7430ba" fill-opacity="0.6"/><ellipse cx="188.5" cy="535.4" rx="3.2" ry="3.1" fill="#7430ba" fill-opacity="0.6"/><ellipse cx="187.0" cy="546.7" rx="4.0" ry="4.1" fill="#7430ba" fill-opacity="0.6"/><ellipse cx="149.0" cy="550.9" rx="3.7" ry="3.9" fill="#5e1ea6" fill-opacity="0.6"/><ellipse cx="189.1" cy="487.6" rx="3.9" ry="3.6" fill="#6a24b0" fill-opacity="0.6"/><ellipse cx="203.4" cy="514.0" rx="3.5" ry="2.6" fill="#7a36be" fill-opacity="0.6"/><ellipse cx="212.6" cy="504.5" rx="3.7" ry="3.0" fill="#6a24b0" fill-opacity="0.6"/><ellipse cx="173.3" cy="519.7" rx="3.5" ry="2.7" fill="#5e1ea6" fill-opacity="0.6"/><ellipse cx="202.3" cy="528.0" rx="3.7" ry="3.2" fill="#7430ba" fill-opacity="0.6"/><ellipse cx="136.5" cy="531.0" rx="4.4" ry="4.3" fill="#7430ba" fill-opacity="0.6"/><ellipse cx="180.1" cy="547.3" rx="4.0" ry="3.0" fill="#5e1ea6" fill-opacity="0.6"/><ellipse cx="153.8" cy="519.7" rx="3.8" ry="3.6" fill="#7a36be" fill-opacity="0.6"/><ellipse cx="136.5" cy="549.9" rx="3.4" ry="3.1" fill="#7a36be" fill-opacity="0.6"/><ellipse cx="195.9" cy="487.5" rx="4.1" ry="3.1" fill="#7a36be" fill-opacity="0.6"/></g>
<radialGradient id="g44" gradientUnits="userSpaceOnUse" cx="192.00" cy="500.00" r="14.00"><stop offset="0" stop-color="#e0d4f0" stop-opacity="0.8"/><stop offset="1" stop-color="#e0d4f0" stop-opacity="0"/></radialGradient>
<rect x="178.00" y="486.00" width="28.00" height="28.00" fill="url(#g44)"/>
</g></g>
<clipPath id="c45"><rect x="70.50" y="547.10" width="69.00" height="51.80"/></clipPath>
<g clip-path="url(#c45)"><g filter="url(#bl2)">
<rect x="70.50" y="547.10" width="69.00" height="51.80" fill="#e5e5e7"/>
<circle cx="107.3" cy="572.5" r="11.3" fill="#e8e6f0" stroke="#b4aad4" stroke-width="1"/>
<ellipse cx="111.2" cy="576.6" rx="7.2" ry="4.6" fill="#b070dc" transform="rotate(-38 111.2 576.6)"/>
<ellipse cx="111.6" cy="576.4" rx="4" ry="2.4" fill="#9040cc" transform="rotate(-38 111.6 576.4)"/>
<rect x="120.00" y="592.50" width="9.00" height="2.50" fill="#f2eeb0" opacity="0.6"/>
</g></g>
<clipPath id="c46"><rect x="141.80" y="547.10" width="69.00" height="51.80"/></clipPath>
<g clip-path="url(#c46)"><g filter="url(#bl2)">
<rect x="141.80" y="547.10" width="69.00" height="51.80" fill="#9656d0"/>
<g stroke="#f2eafc" stroke-width="0.8" stroke-opacity="0.85"><circle cx="164.6" cy="568.7" r="6.2" fill="#9652d2"/><circle cx="167.8" cy="544.6" r="6.2" fill="#9a58d6"/><circle cx="138.7" cy="548.4" r="5.9" fill="#8a46c6"/><circle cx="213.1" cy="571.9" r="6.4" fill="#9652d2"/><circle cx="209.3" cy="597.6" r="6.4" fill="#8e4ccc"/><circle cx="155.0" cy="574.4" r="6.0" fill="#9a58d6"/><circle cx="212.5" cy="544.2" r="6.1" fill="#8a46c6"/><circle cx="191.1" cy="579.2" r="6.4" fill="#a060d8"/><circle cx="197.0" cy="556.8" r="6.9" fill="#a060d8"/><circle cx="156.8" cy="582.2" r="7.0" fill="#a060d8"/><circle cx="190.1" cy="559.8" r="6.8" fill="#a060d8"/><circle cx="140.0" cy="561.4" r="6.8" fill="#9652d2"/><circle cx="200.0" cy="579.6" r="6.5" fill="#8a46c6"/><circle cx="180.9" cy="569.5" r="7.2" fill="#8e4ccc"/><circle cx="180.0" cy="591.8" r="5.5" fill="#8e4ccc"/><circle cx="157.8" cy="592.3" r="6.4" fill="#8e4ccc"/><circle cx="198.6" cy="569.0" r="7.1" fill="#8a46c6"/><circle cx="190.1" cy="571.3" r="6.7" fill="#a060d8"/><circle cx="164.1" cy="603.5" r="7.1" fill="#9a58d6"/><circle cx="147.6" cy="590.6" r="6.0" fill="#9652d2"/><circle cx="167.8" cy="558.6" r="5.4" fill="#9652d2"/><circle cx="146.5" cy="546.3" r="5.4" fill="#9652d2"/><circle cx="198.7" cy="592.3" r="6.4" fill="#a466dc"/><circle cx="181.3" cy="542.7" r="5.5" fill="#9652d2"/><circle cx="206.1" cy="556.6" r="5.5" fill="#9a58d6"/><circle cx="141.1" cy="576.0" r="5.8" fill="#a060d8"/><circle cx="185.7" cy="603.3" r="5.5" fill="#a466dc"/><circle cx="175.6" cy="576.5" r="7.1" fill="#9a58d6"/><circle cx="175.5" cy="550.7" r="7.1" fill="#a060d8"/><circle cx="197.1" cy="546.2" r="6.8" fill="#8e4ccc"/><circle cx="191.7" cy="598.9" r="7.1" fill="#a060d8"/><circle cx="145.4" cy="599.8" r="6.9" fill="#8e4ccc"/><circle cx="209.9" cy="581.3" r="5.9" fill="#a466dc"/><circle cx="153.4" cy="555.0" r="6.9" fill="#8a46c6"/><circle cx="201.7" cy="601.2" r="6.2" fill="#9652d2"/><circle cx="190.1" cy="551.7" r="6.3" fill="#8e4ccc"/><circle cx="139.0" cy="595.6" r="6.3" fill="#9652d2"/><circle cx="160.0" cy="560.8" r="7.1" fill="#8a46c6"/><circle cx="177.3" cy="561.4" r="5.4" fill="#a060d8"/><circle cx="183.4" cy="578.9" r="6.5" fill="#8e4ccc"/><circle cx="167.2" cy="587.9" r="6.5" fill="#8e4ccc"/><circle cx="169.3" cy="597.1" r="5.6" fill="#8e4ccc"/><circle cx="175.2" cy="602.3" r="6.0" fill="#a060d8"/><circle cx="205.2" cy="547.0" r="6.3" fill="#9652d2"/><circle cx="146.8" cy="566.4" r="6.0" fill="#9a58d6"/><circle cx="212.8" cy="560.3" r="6.6" fill="#a466dc"/><circle cx="213.9" cy="588.7" r="7.0" fill="#8e4ccc"/><circle cx="158.2" cy="545.7" r="5.4" fill="#8a46c6"/><circle cx="137.4" cy="568.5" r="6.7" fill="#a060d8"/><circle cx="153.0" cy="602.0" r="6.6" fill="#a466dc"/><circle cx="163.7" cy="577.1" r="7.2" fill="#8a46c6"/><circle cx="140.4" cy="583.7" r="6.4" fill="#8a46c6"/><circle cx="188.6" cy="587.4" r="6.5" fill="#9a58d6"/><circle cx="207.3" cy="565.5" r="6.0" fill="#9652d2"/><circle cx="145.4" cy="554.4" r="5.9" fill="#a060d8"/><circle cx="215.4" cy="552.0" r="7.0" fill="#8a46c6"/><circle cx="154.5" cy="566.5" r="6.9" fill="#9a58d6"/><circle cx="174.0" cy="584.3" r="6.1" fill="#8e4ccc"/><circle cx="161.5" cy="553.2" r="5.9" fill="#8a46c6"/><circle cx="205.5" cy="587.4" r="7.2" fill="#a060d8"/><circle cx="149.1" cy="582.2" r="6.4" fill="#9a58d6"/><circle cx="172.1" cy="567.6" r="7.0" fill="#9a58d6"/><circle cx="183.7" cy="555.8" r="5.8" fill="#a060d8"/><circle cx="188.9" cy="544.3" r="7.2" fill="#a060d8"/><circle cx="214.6" cy="603.1" r="6.8" fill="#a466dc"/><circle cx="138.3" cy="603.2" r="7.0" fill="#9652d2"/></g>
<g><ellipse cx="165.0" cy="569.4" rx="3.9" ry="3.1" fill="#7430ba" fill-opacity="0.6"/><ellipse cx="168.7" cy="544.4" rx="3.5" ry="2.8" fill="#5e1ea6" fill-opacity="0.6"/><ellipse cx="138.5" cy="547.9" rx="3.5" ry="3.3" fill="#6a24b0" fill-opacity="0.6"/><ellipse cx="212.9" cy="571.1" rx="4.2" ry="4.5" fill="#7a36be" fill-opacity="0.6"/><ellipse cx="209.9" cy="597.2" rx="3.4" ry="3.7" fill="#7430ba" fill-opacity="0.6"/><ellipse cx="154.3" cy="573.1" rx="3.7" ry="4.0" fill="#5e1ea6" fill-opacity="0.6"/><ellipse cx="211.2" cy="543.1" rx="4.1" ry="3.7" fill="#7430ba" fill-opacity="0.6"/><ellipse cx="191.5" cy="580.9" rx="3.5" ry="3.1" fill="#7430ba" fill-opacity="0.6"/><ellipse cx="197.5" cy="556.3" rx="4.1" ry="3.8" fill="#7a36be" fill-opacity="0.6"/><ellipse cx="156.0" cy="583.2" rx="4.1" ry="4.1" fill="#7430ba" fill-opacity="0.6"/><ellipse cx="191.7" cy="559.5" rx="4.3" ry="3.0" fill="#6a24b0" fill-opacity="0.6"/><ellipse cx="139.1" cy="561.4" rx="3.9" ry="3.9" fill="#7a36be" fill-opacity="0.6"/><ellipse cx="201.2" cy="578.8" rx="3.8" ry="3.4" fill="#7430ba" fill-opacity="0.6"/><ellipse cx="181.2" cy="568.3" rx="4.7" ry="4.3" fill="#6a24b0" fill-opacity="0.6"/><ellipse cx="181.7" cy="592.9" rx="3.8" ry="3.8" fill="#6a24b0" fill-opacity="0.6"/><ellipse cx="157.6" cy="592.7" rx="4.1" ry="3.4" fill="#6a24b0" fill-opacity="0.6"/><ellipse cx="197.4" cy="569.9" rx="4.7" ry="4.5" fill="#7a36be" fill-opacity="0.6"/><ellipse cx="191.2" cy="572.4" rx="4.5" ry="4.4" fill="#7a36be" fill-opacity="0.6"/><ellipse cx="162.8" cy="604.8" rx="4.3" ry="3.2" fill="#5e1ea6" fill-opacity="0.6"/><ellipse cx="148.3" cy="591.7" rx="3.1" ry="3.1" fill="#6a24b0" fill-opacity="0.6"/><ellipse cx="166.8" cy="558.4" rx="3.0" ry="3.0" fill="#7430ba" fill-opacity="0.6"/><ellipse cx="147.3" cy="546.0" rx="3.2" ry="3.1" fill="#6a24b0" fill-opacity="0.6"/><ellipse cx="197.6" cy="592.7" rx="3.8" ry="3.1" fill="#7430ba" fill-opacity="0.6"/><ellipse cx="181.7" cy="544.4" rx="3.3" ry="3.0" fill="#7430ba" fill-opacity="0.6"/><ellipse cx="206.1" cy="557.2" rx="2.9" ry="2.6" fill="#7a36be" fill-opacity="0.6"/><ellipse cx="141.9" cy="574.4" rx="3.2" ry="2.9" fill="#6a24b0" fill-opacity="0.6"/><ellipse cx="184.3" cy="601.9" rx="3.8" ry="3.5" fill="#6a24b0" fill-opacity="0.6"/><ellipse cx="176.1" cy="577.7" rx="3.6" ry="3.1" fill="#6a24b0" fill-opacity="0.6"/><ellipse cx="176.4" cy="549.5" rx="4.6" ry="4.2" fill="#7a36be" fill-opacity="0.6"/><ellipse cx="197.7" cy="545.9" rx="4.6" ry="4.8" fill="#6a24b0" fill-opacity="0.6"/><ellipse cx="191.3" cy="597.4" rx="4.2" ry="3.9" fill="#7a36be" fill-opacity="0.6"/><ellipse cx="144.4" cy="599.5" rx="4.3" ry="3.2" fill="#6a24b0" fill-opacity="0.6"/><ellipse cx="209.3" cy="580.1" rx="3.7" ry="3.0" fill="#5e1ea6" fill-opacity="0.6"/><ellipse cx="153.3" cy="553.5" rx="4.2" ry="4.5" fill="#7430ba" fill-opacity="0.6"/><ellipse cx="200.2" cy="602.2" rx="3.6" ry="2.9" fill="#7430ba" fill-opacity="0.6"/><ellipse cx="189.2" cy="553.5" rx="3.7" ry="4.0" fill="#6a24b0" fill-opacity="0.6"/><ellipse cx="138.3" cy="594.8" rx="3.2" ry="2.3" fill="#6a24b0" fill-opacity="0.6"/><ellipse cx="160.0" cy="560.0" rx="4.1" ry="4.1" fill="#5e1ea6" fill-opacity="0.6"/><ellipse cx="175.6" cy="561.3" rx="2.9" ry="2.4" fill="#7430ba" fill-opacity="0.6"/><ellipse cx="182.8" cy="578.6" rx="3.3" ry="3.0" fill="#5e1ea6" fill-opacity="0.6"/><ellipse cx="167.8" cy="587.5" rx="4.2" ry="4.4" fill="#7430ba" fill-opacity="0.6"/><ellipse cx="169.1" cy="598.3" rx="3.8" ry="2.6" fill="#7430ba" fill-opacity="0.6"/><ellipse cx="174.0" cy="602.2" rx="3.8" ry="3.7" fill="#5e1ea6" fill-opacity="0.6"/><ellipse cx="206.7" cy="547.0" rx="3.4" ry="3.1" fill="#7430ba" fill-opacity="0.6"/><ellipse cx="146.6" cy="565.5" rx="3.2" ry="2.3" fill="#5e1ea6" fill-opacity="0.6"/><ellipse cx="212.3" cy="559.1" rx="3.5" ry="3.5" fill="#7a36be" fill-opacity="0.6"/><ellipse cx="213.4" cy="588.8" rx="4.6" ry="4.3" fill="#7430ba" fill-opacity="0.6"/><ellipse cx="159.0" cy="544.6" rx="2.9" ry="2.4" fill="#5e1ea6" fill-opacity="0.6"/><ellipse cx="135.8" cy="569.2" rx="4.6" ry="4.1" fill="#6a24b0" fill-opacity="0.6"/><ellipse cx="153.4" cy="602.0" rx="3.8" ry="3.8" fill="#7430ba" fill-opacity="0.6"/><ellipse cx="162.0" cy="576.8" rx="3.7" ry="3.8" fill="#7a36be" fill-opacity="0.6"/><ellipse cx="141.3" cy="583.0" rx="4.2" ry="4.4" fill="#7430ba" fill-opacity="0.6"/><ellipse cx="188.5" cy="585.6" rx="3.5" ry="3.5" fill="#7430ba" fill-opacity="0.6"/><ellipse cx="207.3" cy="567.3" rx="3.6" ry="2.8" fill="#7a36be" fill-opacity="0.6"/><ellipse cx="144.0" cy="552.9" rx="3.9" ry="3.8" fill="#5e1ea6" fill-opacity="0.6"/><ellipse cx="214.5" cy="552.6" rx="4.2" ry="3.3" fill="#7a36be" fill-opacity="0.6"/><ellipse cx="154.3" cy="565.5" rx="3.9" ry="3.2" fill="#7a36be" fill-opacity="0.6"/><ellipse cx="174.6" cy="584.1" rx="3.8" ry="4.1" fill="#7430ba" fill-opacity="0.6"/><ellipse cx="162.7" cy="551.7" rx="3.2" ry="2.5" fill="#7430ba" fill-opacity="0.6"/><ellipse cx="204.1" cy="587.0" rx="3.6" ry="3.2" fill="#5e1ea6" fill-opacity="0.6"/><ellipse cx="150.4" cy="582.7" rx="3.9" ry="4.3" fill="#7430ba" fill-opacity="0.6"/><ellipse cx="171.2" cy="566.2" rx="3.6" ry="4.0" fill="#7a36be" fill-opacity="0.6"/><ellipse cx="184.0" cy="556.1" rx="3.5" ry="2.9" fill="#5e1ea6" fill-opacity="0.6"/><ellipse cx="187.5" cy="545.4" rx="4.8" ry="4.9" fill="#6a24b0" fill-opacity="0.6"/><ellipse cx="214.2" cy="603.5" rx="4.3" ry="3.9" fill="#5e1ea6" fill-opacity="0.6"/><ellipse cx="139.4" cy="601.6" rx="4.7" ry="4.5" fill="#7430ba" fill-opacity="0.6"/></g>
<radialGradient id="g47" gradientUnits="userSpaceOnUse" cx="145.00" cy="550.00" r="12.00"><stop offset="0" stop-color="#ece4f4" stop-opacity="0.9"/><stop offset="1" stop-color="#ece4f4" stop-opacity="0"/></radialGradient>
<rect x="133.00" y="538.00" width="24.00" height="24.00" fill="url(#g47)"/>
</g></g>
<text x="279.30" y="430.66" font-size="16" text-anchor="start" fill="#000" font-weight="bold" textLength="11.6" lengthAdjust="spacingAndGlyphs">E</text>
<rect x="306.90" y="428.80" width="82.00" height="11.20" fill="#ffffff" stroke="#555" stroke-width="0.9"/>
<text x="348.00" y="436.63" font-size="6.2" text-anchor="middle" fill="#222" font-weight="bold" textLength="65" lengthAdjust="spacingAndGlyphs">Hes1 + BCR/ABL  KSL</text>
<rect x="294.90" y="453.40" width="35.60" height="35.40" fill="#ffffff" stroke="#555" stroke-width="1"/>
<line x1="305.70" y1="453.40" x2="305.70" y2="488.80" stroke="#777" stroke-width="0.8"/>
<line x1="294.90" y1="478.60" x2="330.50" y2="478.60" stroke="#aaa" stroke-width="0.8"/>
<g><rect x="307.3" y="482.3" width="1.1" height="1.1" fill="#5a7ad8"/><rect x="313.3" y="484.8" width="1.1" height="1.1" fill="#3a5ed0"/><rect x="307.1" y="481.3" width="1.1" height="1.1" fill="#2a4ec0"/><rect x="306.8" y="487.0" width="1.1" height="1.1" fill="#2244b4"/><rect x="307.1" y="483.8" width="1.1" height="1.1" fill="#2a4ec0"/><rect x="310.1" y="482.6" width="1.1" height="1.1" fill="#3a5ed0"/><rect x="314.2" y="482.9" width="1.1" height="1.1" fill="#3a5ed0"/><rect x="310.5" y="483.7" width="1.1" height="1.1" fill="#5a7ad8"/><rect x="309.4" y="483.8" width="1.1" height="1.1" fill="#2a4ec0"/><rect x="310.7" y="484.4" width="1.1" height="1.1" fill="#3a5ed0"/><rect x="311.9" y="484.1" width="1.1" height="1.1" fill="#3a5ed0"/><rect x="306.6" y="483.7" width="1.1" height="1.1" fill="#3a5ed0"/><rect x="310.0" y="484.7" width="1.1" height="1.1" fill="#2244b4"/><rect x="311.1" y="485.3" width="1.1" height="1.1" fill="#2a4ec0"/><rect x="308.0" y="487.3" width="1.1" height="1.1" fill="#5a7ad8"/><rect x="314.3" y="484.5" width="1.1" height="1.1" fill="#1a3aa8"/><rect x="312.6" y="485.1" width="1.1" height="1.1" fill="#1a3aa8"/><rect x="308.2" y="484.6" width="1.1" height="1.1" fill="#2244b4"/><rect x="308.8" y="484.6" width="1.1" height="1.1" fill="#1a3aa8"/><rect x="311.0" y="484.3" width="1.1" height="1.1" fill="#1a3aa8"/><rect x="310.7" y="484.1" width="1.1" height="1.1" fill="#2244b4"/><rect x="308.1" y="486.2" width="1.1" height="1.1" fill="#2a4ec0"/><rect x="306.5" y="485.2" width="1.1" height="1.1" fill="#5a7ad8"/><rect x="312.1" y="484.1" width="1.1" height="1.1" fill="#3a5ed0"/><rect x="316.0" y="482.6" width="1.1" height="1.1" fill="#1a3aa8"/><rect x="304.9" y="484.1" width="1.1" height="1.1" fill="#1a3aa8"/><rect x="310.6" y="483.6" width="1.1" height="1.1" fill="#1a3aa8"/><rect x="310.9" y="484.0" width="1.1" height="1.1" fill="#2a4ec0"/><rect x="311.2" y="486.5" width="1.1" height="1.1" fill="#1a3aa8"/><rect x="312.5" y="483.6" width="1.1" height="1.1" fill="#5a7ad8"/><rect x="313.7" y="485.9" width="1.1" height="1.1" fill="#1a3aa8"/><rect x="310.9" y="485.1" width="1.1" height="1.1" fill="#3a5ed0"/><rect x="310.0" y="482.9" width="1.1" height="1.1" fill="#2244b4"/><rect x="310.8" y="484.9" width="1.1" height="1.1" fill="#5a7ad8"/><rect x="307.8" y="484.0" width="1.1" height="1.1" fill="#3a5ed0"/><rect x="310.3" y="482.8" width="1.1" height="1.1" fill="#1a3aa8"/><rect x="307.8" y="484.9" width="1.1" height="1.1" fill="#2a4ec0"/><rect x="314.1" y="484.1" width="1.1" height="1.1" fill="#2244b4"/><rect x="309.5" y="485.5" width="1.1" height="1.1" fill="#5a7ad8"/><rect x="313.9" y="483.6" width="1.1" height="1.1" fill="#2244b4"/><rect x="312.6" y="485.6" width="1.1" height="1.1" fill="#3a5ed0"/><rect x="312.9" y="485.1" width="1.1" height="1.1" fill="#3a5ed0"/><rect x="300.9" y="486.4" width="1.1" height="1.1" fill="#3a5ed0"/><rect x="313.2" y="484.1" width="1.1" height="1.1" fill="#2244b4"/><rect x="309.5" y="482.9" width="1.1" height="1.1" fill="#1a3aa8"/><rect x="309.7" y="486.2" width="1.1" height="1.1" fill="#3a5ed0"/><rect x="314.1" y="486.6" width="1.1" height="1.1" fill="#5a7ad8"/><rect x="313.9" y="483.8" width="1.1" height="1.1" fill="#2244b4"/><rect x="311.5" y="483.6" width="1.1" height="1.1" fill="#2244b4"/><rect x="309.8" y="487.5" width="1.1" height="1.1" fill="#5a7ad8"/><rect x="307.5" y="486.8" width="1.1" height="1.1" fill="#1a3aa8"/><rect x="309.1" y="481.9" width="1.1" height="1.1" fill="#1a3aa8"/><rect x="307.7" y="486.5" width="1.1" height="1.1" fill="#1a3aa8"/><rect x="311.4" y="483.2" width="1.1" height="1.1" fill="#1a3aa8"/><rect x="312.7" y="484.0" width="1.1" height="1.1" fill="#3a5ed0"/><rect x="310.1" y="484.3" width="1.1" height="1.1" fill="#5a7ad8"/><rect x="310.7" y="482.8" width="1.1" height="1.1" fill="#1a3aa8"/><rect x="305.1" y="484.4" width="1.1" height="1.1" fill="#a0acea"/><rect x="308.5" y="486.2" width="1.1" height="1.1" fill="#6a7ad0"/><rect x="307.4" y="487.1" width="1.1" height="1.1" fill="#6a7ad0"/><rect x="320.1" y="482.5" width="1.1" height="1.1" fill="#7a88d8"/><rect x="309.3" y="483.1" width="1.1" height="1.1" fill="#a0acea"/><rect x="315.1" y="482.4" width="1.1" height="1.1" fill="#8898e0"/><rect x="310.3" y="479.6" width="1.1" height="1.1" fill="#7a88d8"/><rect x="305.3" y="479.6" width="1.1" height="1.1" fill="#6a7ad0"/><rect x="310.0" y="486.3" width="1.1" height="1.1" fill="#a0acea"/><rect x="311.2" y="482.8" width="1.1" height="1.1" fill="#7a88d8"/><rect x="307.2" y="481.7" width="1.1" height="1.1" fill="#7a88d8"/><rect x="312.4" y="487.0" width="1.1" height="1.1" fill="#8898e0"/><rect x="321.1" y="482.8" width="1.1" height="1.1" fill="#7a88d8"/><rect x="313.2" y="483.8" width="1.1" height="1.1" fill="#a0acea"/><rect x="315.3" y="482.8" width="1.1" height="1.1" fill="#8898e0"/><rect x="308.6" y="484.5" width="1.1" height="1.1" fill="#8898e0"/><rect x="309.2" y="482.5" width="1.1" height="1.1" fill="#a0acea"/><rect x="315.0" y="483.4" width="1.1" height="1.1" fill="#a0acea"/><rect x="315.7" y="479.6" width="1.1" height="1.1" fill="#a0acea"/><rect x="315.7" y="482.7" width="1.1" height="1.1" fill="#a0acea"/><rect x="315.0" y="485.1" width="1.1" height="1.1" fill="#a0acea"/><rect x="314.2" y="482.8" width="1.1" height="1.1" fill="#a0acea"/><rect x="312.9" y="481.1" width="1.1" height="1.1" fill="#a0acea"/><rect x="309.4" y="483.7" width="1.1" height="1.1" fill="#6a7ad0"/><rect x="303.3" y="481.0" width="1.1" height="1.1" fill="#7a88d8"/><rect x="308.9" y="482.0" width="1.1" height="1.1" fill="#8898e0"/><rect x="309.1" y="484.8" width="1.1" height="1.1" fill="#7a88d8"/><rect x="308.1" y="487.8" width="1.1" height="1.1" fill="#6a7ad0"/><rect x="302.7" y="486.2" width="1.1" height="1.1" fill="#6a7ad0"/><rect x="304.9" y="487.6" width="1.1" height="1.1" fill="#7a88d8"/><rect x="309.2" y="482.3" width="1.1" height="1.1" fill="#a0acea"/><rect x="307.8" y="483.5" width="1.1" height="1.1" fill="#a0acea"/><rect x="314.2" y="482.7" width="1.1" height="1.1" fill="#a0acea"/><rect x="311.9" y="483.8" width="1.1" height="1.1" fill="#6a7ad0"/><rect x="316.9" y="468.5" width="1.1" height="1.1" fill="#b0b0c0"/><rect x="318.9" y="470.4" width="1.1" height="1.1" fill="#b0b0c0"/><rect x="313.1" y="468.0" width="1.1" height="1.1" fill="#b0b0c0"/><rect x="317.0" y="471.9" width="1.1" height="1.1" fill="#b0b0c0"/></g>
<text x="296.30" y="458.14" font-size="4.0" text-anchor="start" fill="#333">0.0</text>
<text x="329.10" y="458.14" font-size="4.0" text-anchor="end" fill="#333">0.7</text>
<text x="296.30" y="487.14" font-size="4.0" text-anchor="start" fill="#333">0.1</text>
<text x="329.10" y="487.14" font-size="4.0" text-anchor="end" fill="#333">99.2</text>
<line x1="297.90" y1="490.00" x2="297.90" y2="491.20" stroke="#bbb" stroke-width="0.6"/>
<line x1="305.70" y1="490.00" x2="305.70" y2="491.20" stroke="#bbb" stroke-width="0.6"/>
<line x1="312.90" y1="490.00" x2="312.90" y2="491.20" stroke="#bbb" stroke-width="0.6"/>
<line x1="319.90" y1="490.00" x2="319.90" y2="491.20" stroke="#bbb" stroke-width="0.6"/>
<text x="291.20" y="473.78" font-size="6.6" text-anchor="middle" fill="#222" font-weight="bold" textLength="11.5" lengthAdjust="spacingAndGlyphs" transform="rotate(-90 291.20 471.40)">Gr-1</text>
<rect x="352.20" y="453.40" width="35.60" height="35.40" fill="#ffffff" stroke="#555" stroke-width="1"/>
<line x1="363.00" y1="453.40" x2="363.00" y2="488.80" stroke="#777" stroke-width="0.8"/>
<line x1="352.20" y1="478.00" x2="387.80" y2="478.00" stroke="#aaa" stroke-width="0.8"/>
<g><rect x="368.4" y="485.4" width="1.1" height="1.1" fill="#3a5ed0"/><rect x="365.3" y="483.4" width="1.1" height="1.1" fill="#2244b4"/><rect x="363.6" y="483.6" width="1.1" height="1.1" fill="#5a7ad8"/><rect x="369.4" y="482.3" width="1.1" height="1.1" fill="#2a4ec0"/><rect x="365.8" y="483.4" width="1.1" height="1.1" fill="#5a7ad8"/><rect x="364.8" y="482.5" width="1.1" height="1.1" fill="#5a7ad8"/><rect x="367.9" y="485.2" width="1.1" height="1.1" fill="#5a7ad8"/><rect x="365.8" y="485.0" width="1.1" height="1.1" fill="#5a7ad8"/><rect x="360.6" y="486.0" width="1.1" height="1.1" fill="#5a7ad8"/><rect x="366.6" y="486.7" width="1.1" height="1.1" fill="#2244b4"/><rect x="362.7" y="483.4" width="1.1" height="1.1" fill="#2244b4"/><rect x="368.6" y="482.2" width="1.1" height="1.1" fill="#2244b4"/><rect x="362.1" y="487.1" width="1.1" height="1.1" fill="#3a5ed0"/><rect x="367.9" y="483.7" width="1.1" height="1.1" fill="#2a4ec0"/><rect x="365.6" y="485.0" width="1.1" height="1.1" fill="#2244b4"/><rect x="362.7" y="483.6" width="1.1" height="1.1" fill="#2244b4"/><rect x="366.8" y="484.4" width="1.1" height="1.1" fill="#2244b4"/><rect x="364.0" y="481.3" width="1.1" height="1.1" fill="#1a3aa8"/><rect x="363.2" y="484.5" width="1.1" height="1.1" fill="#5a7ad8"/><rect x="366.0" y="484.3" width="1.1" height="1.1" fill="#3a5ed0"/><rect x="365.6" y="485.7" width="1.1" height="1.1" fill="#2a4ec0"/><rect x="365.4" y="484.5" width="1.1" height="1.1" fill="#2244b4"/><rect x="374.2" y="484.0" width="1.1" height="1.1" fill="#2244b4"/><rect x="370.1" y="485.9" width="1.1" height="1.1" fill="#3a5ed0"/><rect x="362.3" y="482.7" width="1.1" height="1.1" fill="#2a4ec0"/><rect x="365.4" y="484.0" width="1.1" height="1.1" fill="#1a3aa8"/><rect x="365.0" y="483.0" width="1.1" height="1.1" fill="#3a5ed0"/><rect x="363.8" y="483.7" width="1.1" height="1.1" fill="#3a5ed0"/><rect x="367.2" y="485.4" width="1.1" height="1.1" fill="#5a7ad8"/><rect x="367.5" y="486.0" width="1.1" height="1.1" fill="#2a4ec0"/><rect x="365.1" y="487.2" width="1.1" height="1.1" fill="#2a4ec0"/><rect x="365.5" y="481.2" width="1.1" height="1.1" fill="#3a5ed0"/><rect x="366.7" y="484.9" width="1.1" height="1.1" fill="#5a7ad8"/><rect x="363.5" y="485.0" width="1.1" height="1.1" fill="#1a3aa8"/><rect x="366.8" y="484.4" width="1.1" height="1.1" fill="#1a3aa8"/><rect x="367.7" y="487.0" width="1.1" height="1.1" fill="#5a7ad8"/><rect x="364.1" y="484.5" width="1.1" height="1.1" fill="#2a4ec0"/><rect x="364.0" y="484.5" width="1.1" height="1.1" fill="#1a3aa8"/><rect x="364.4" y="484.8" width="1.1" height="1.1" fill="#3a5ed0"/><rect x="371.5" y="465.4" width="1.1" height="1.1" fill="#6a7ad0"/><rect x="371.4" y="479.0" width="1.1" height="1.1" fill="#a0acea"/><rect x="373.3" y="474.9" width="1.1" height="1.1" fill="#8898e0"/><rect x="371.7" y="465.0" width="1.1" height="1.1" fill="#6a7ad0"/><rect x="369.7" y="482.7" width="1.1" height="1.1" fill="#6a7ad0"/><rect x="370.7" y="469.7" width="1.1" height="1.1" fill="#8898e0"/><rect x="366.2" y="468.9" width="1.1" height="1.1" fill="#7a88d8"/><rect x="372.4" y="468.2" width="1.1" height="1.1" fill="#7a88d8"/><rect x="369.2" y="467.9" width="1.1" height="1.1" fill="#6a7ad0"/><rect x="370.0" y="467.4" width="1.1" height="1.1" fill="#6a7ad0"/><rect x="367.8" y="473.9" width="1.1" height="1.1" fill="#a0acea"/><rect x="373.7" y="466.4" width="1.1" height="1.1" fill="#6a7ad0"/><rect x="365.5" y="477.1" width="1.1" height="1.1" fill="#a0acea"/><rect x="365.7" y="461.7" width="1.1" height="1.1" fill="#6a7ad0"/><rect x="372.1" y="469.0" width="1.1" height="1.1" fill="#8898e0"/><rect x="365.7" y="466.1" width="1.1" height="1.1" fill="#7a88d8"/><rect x="368.1" y="472.1" width="1.1" height="1.1" fill="#8898e0"/><rect x="370.0" y="474.0" width="1.1" height="1.1" fill="#6a7ad0"/><rect x="372.0" y="466.0" width="1.1" height="1.1" fill="#a0acea"/><rect x="372.8" y="470.4" width="1.1" height="1.1" fill="#6a7ad0"/><rect x="367.6" y="476.4" width="1.1" height="1.1" fill="#7a88d8"/><rect x="370.3" y="473.3" width="1.1" height="1.1" fill="#a0acea"/><rect x="373.6" y="461.5" width="1.1" height="1.1" fill="#6a7ad0"/><rect x="370.6" y="474.2" width="1.1" height="1.1" fill="#a0acea"/><rect x="371.4" y="461.3" width="1.1" height="1.1" fill="#7a88d8"/><rect x="375.9" y="473.0" width="1.1" height="1.1" fill="#a0acea"/><rect x="371.9" y="467.8" width="1.1" height="1.1" fill="#8898e0"/><rect x="367.4" y="462.1" width="1.1" height="1.1" fill="#6a7ad0"/><rect x="370.3" y="467.6" width="1.1" height="1.1" fill="#a0acea"/><rect x="368.0" y="479.1" width="1.1" height="1.1" fill="#7a88d8"/><rect x="374.2" y="472.4" width="1.1" height="1.1" fill="#7a88d8"/><rect x="366.7" y="463.5" width="1.1" height="1.1" fill="#a0acea"/><rect x="368.3" y="466.9" width="1.1" height="1.1" fill="#a0acea"/><rect x="368.1" y="479.9" width="1.1" height="1.1" fill="#6a7ad0"/><rect x="370.4" y="474.2" width="1.1" height="1.1" fill="#7a88d8"/><rect x="373.5" y="467.2" width="1.1" height="1.1" fill="#6a7ad0"/><rect x="368.8" y="465.7" width="1.1" height="1.1" fill="#6a7ad0"/><rect x="374.4" y="474.3" width="1.1" height="1.1" fill="#6a7ad0"/><rect x="369.6" y="471.8" width="1.1" height="1.1" fill="#a0acea"/><rect x="373.9" y="466.9" width="1.1" height="1.1" fill="#7a88d8"/></g>
<text x="353.60" y="458.14" font-size="4.0" text-anchor="start" fill="#333">0.0</text>
<text x="386.40" y="458.14" font-size="4.0" text-anchor="end" fill="#333">27.0</text>
<text x="353.60" y="487.14" font-size="4.0" text-anchor="start" fill="#333">0.0</text>
<text x="386.40" y="487.14" font-size="4.0" text-anchor="end" fill="#333">73.0</text>
<line x1="355.20" y1="490.00" x2="355.20" y2="491.20" stroke="#bbb" stroke-width="0.6"/>
<line x1="363.00" y1="490.00" x2="363.00" y2="491.20" stroke="#bbb" stroke-width="0.6"/>
<line x1="370.20" y1="490.00" x2="370.20" y2="491.20" stroke="#bbb" stroke-width="0.6"/>
<line x1="377.20" y1="490.00" x2="377.20" y2="491.20" stroke="#bbb" stroke-width="0.6"/>
<text x="348.50" y="473.78" font-size="6.6" text-anchor="middle" fill="#222" font-weight="bold" textLength="19.5" lengthAdjust="spacingAndGlyphs" transform="rotate(-90 348.50 471.40)">CD11b</text>
<rect x="409.60" y="453.40" width="35.60" height="35.40" fill="#ffffff" stroke="#555" stroke-width="1"/>
<line x1="420.40" y1="453.40" x2="420.40" y2="488.80" stroke="#777" stroke-width="0.8"/>
<line x1="409.60" y1="477.40" x2="445.20" y2="477.40" stroke="#aaa" stroke-width="0.8"/>
<g><rect x="424.5" y="476.9" width="1.1" height="1.1" fill="#2244b4"/><rect x="424.0" y="478.3" width="1.1" height="1.1" fill="#2a4ec0"/><rect x="419.1" y="477.9" width="1.1" height="1.1" fill="#2a4ec0"/><rect x="422.5" y="479.4" width="1.1" height="1.1" fill="#1a3aa8"/><rect x="420.0" y="475.5" width="1.1" height="1.1" fill="#3a5ed0"/><rect x="423.6" y="479.5" width="1.1" height="1.1" fill="#2244b4"/><rect x="423.2" y="478.9" width="1.1" height="1.1" fill="#1a3aa8"/><rect x="422.8" y="477.3" width="1.1" height="1.1" fill="#3a5ed0"/><rect x="419.4" y="476.2" width="1.1" height="1.1" fill="#3a5ed0"/><rect x="421.1" y="476.8" width="1.1" height="1.1" fill="#1a3aa8"/><rect x="420.0" y="478.1" width="1.1" height="1.1" fill="#2244b4"/><rect x="421.5" y="477.8" width="1.1" height="1.1" fill="#2a4ec0"/><rect x="424.1" y="477.2" width="1.1" height="1.1" fill="#2244b4"/><rect x="428.8" y="474.1" width="1.1" height="1.1" fill="#5a7ad8"/><rect x="423.9" y="478.8" width="1.1" height="1.1" fill="#2a4ec0"/><rect x="422.9" y="476.7" width="1.1" height="1.1" fill="#2244b4"/><rect x="422.2" y="478.6" width="1.1" height="1.1" fill="#2a4ec0"/><rect x="419.6" y="478.3" width="1.1" height="1.1" fill="#2244b4"/><rect x="425.5" y="477.5" width="1.1" height="1.1" fill="#1a3aa8"/><rect x="425.5" y="478.8" width="1.1" height="1.1" fill="#2a4ec0"/><rect x="421.6" y="475.3" width="1.1" height="1.1" fill="#1a3aa8"/><rect x="423.2" y="477.5" width="1.1" height="1.1" fill="#1a3aa8"/><rect x="420.1" y="479.7" width="1.1" height="1.1" fill="#2a4ec0"/><rect x="424.9" y="476.6" width="1.1" height="1.1" fill="#3a5ed0"/><rect x="420.7" y="477.2" width="1.1" height="1.1" fill="#2a4ec0"/><rect x="422.2" y="475.6" width="1.1" height="1.1" fill="#1a3aa8"/><rect x="425.4" y="479.6" width="1.1" height="1.1" fill="#5a7ad8"/><rect x="423.1" y="478.3" width="1.1" height="1.1" fill="#3a5ed0"/><rect x="424.1" y="479.2" width="1.1" height="1.1" fill="#1a3aa8"/><rect x="422.4" y="478.4" width="1.1" height="1.1" fill="#5a7ad8"/><rect x="427.1" y="473.1" width="1.1" height="1.1" fill="#7a88d8"/><rect x="427.1" y="464.8" width="1.1" height="1.1" fill="#a0acea"/><rect x="429.5" y="468.9" width="1.1" height="1.1" fill="#7a88d8"/><rect x="424.1" y="471.7" width="1.1" height="1.1" fill="#7a88d8"/><rect x="425.4" y="473.5" width="1.1" height="1.1" fill="#7a88d8"/><rect x="425.4" y="468.9" width="1.1" height="1.1" fill="#7a88d8"/><rect x="424.5" y="469.1" width="1.1" height="1.1" fill="#6a7ad0"/><rect x="426.0" y="468.5" width="1.1" height="1.1" fill="#a0acea"/><rect x="423.6" y="474.3" width="1.1" height="1.1" fill="#6a7ad0"/><rect x="426.0" y="474.6" width="1.1" height="1.1" fill="#7a88d8"/><rect x="417.8" y="468.1" width="1.1" height="1.1" fill="#8898e0"/><rect x="430.0" y="481.3" width="1.1" height="1.1" fill="#6a7ad0"/><rect x="424.8" y="467.4" width="1.1" height="1.1" fill="#8898e0"/><rect x="429.5" y="474.6" width="1.1" height="1.1" fill="#6a7ad0"/><rect x="424.8" y="465.2" width="1.1" height="1.1" fill="#6a7ad0"/><rect x="426.1" y="478.7" width="1.1" height="1.1" fill="#7a88d8"/><rect x="424.4" y="481.5" width="1.1" height="1.1" fill="#7a88d8"/><rect x="421.9" y="483.2" width="1.1" height="1.1" fill="#8898e0"/><rect x="423.4" y="466.9" width="1.1" height="1.1" fill="#7a88d8"/><rect x="427.0" y="477.0" width="1.1" height="1.1" fill="#6a7ad0"/><rect x="427.4" y="473.5" width="1.1" height="1.1" fill="#8898e0"/><rect x="425.7" y="465.9" width="1.1" height="1.1" fill="#7a88d8"/><rect x="427.0" y="459.5" width="1.1" height="1.1" fill="#6a7ad0"/><rect x="423.2" y="457.8" width="1.1" height="1.1" fill="#8898e0"/><rect x="426.5" y="465.0" width="1.1" height="1.1" fill="#8898e0"/><rect x="428.9" y="479.0" width="1.1" height="1.1" fill="#7a88d8"/><rect x="425.8" y="470.8" width="1.1" height="1.1" fill="#8898e0"/><rect x="422.8" y="466.3" width="1.1" height="1.1" fill="#6a7ad0"/><rect x="421.2" y="468.9" width="1.1" height="1.1" fill="#6a7ad0"/><rect x="431.1" y="470.8" width="1.1" height="1.1" fill="#8898e0"/><rect x="420.4" y="469.1" width="1.1" height="1.1" fill="#a0acea"/><rect x="426.2" y="472.0" width="1.1" height="1.1" fill="#7a88d8"/><rect x="425.3" y="475.5" width="1.1" height="1.1" fill="#8898e0"/><rect x="426.2" y="461.5" width="1.1" height="1.1" fill="#6a7ad0"/><rect x="424.9" y="484.9" width="1.1" height="1.1" fill="#8898e0"/><rect x="426.9" y="473.2" width="1.1" height="1.1" fill="#a0acea"/><rect x="429.3" y="465.1" width="1.1" height="1.1" fill="#7a88d8"/><rect x="424.3" y="472.8" width="1.1" height="1.1" fill="#8898e0"/><rect x="422.7" y="470.2" width="1.1" height="1.1" fill="#8898e0"/><rect x="424.2" y="465.5" width="1.1" height="1.1" fill="#7a88d8"/><rect x="429.1" y="466.5" width="1.1" height="1.1" fill="#6a7ad0"/><rect x="423.0" y="486.2" width="1.1" height="1.1" fill="#a0acea"/><rect x="425.6" y="476.1" width="1.1" height="1.1" fill="#a0acea"/><rect x="424.8" y="478.3" width="1.1" height="1.1" fill="#8898e0"/><rect x="427.1" y="469.5" width="1.1" height="1.1" fill="#6a7ad0"/><rect x="425.8" y="466.7" width="1.1" height="1.1" fill="#8898e0"/><rect x="421.8" y="467.6" width="1.1" height="1.1" fill="#6a7ad0"/><rect x="422.9" y="476.6" width="1.1" height="1.1" fill="#7a88d8"/></g>
<text x="411.00" y="458.14" font-size="4.0" text-anchor="start" fill="#333">0.1</text>
<text x="443.80" y="458.14" font-size="4.0" text-anchor="end" fill="#333">43.2</text>
<text x="411.00" y="487.14" font-size="4.0" text-anchor="start" fill="#333">0.2</text>
<text x="443.80" y="487.14" font-size="4.0" text-anchor="end" fill="#333">56.5</text>
<line x1="412.60" y1="490.00" x2="412.60" y2="491.20" stroke="#bbb" stroke-width="0.6"/>
<line x1="420.40" y1="490.00" x2="420.40" y2="491.20" stroke="#bbb" stroke-width="0.6"/>
<line x1="427.60" y1="490.00" x2="427.60" y2="491.20" stroke="#bbb" stroke-width="0.6"/>
<line x1="434.60" y1="490.00" x2="434.60" y2="491.20" stroke="#bbb" stroke-width="0.6"/>
<text x="405.90" y="473.78" font-size="6.6" text-anchor="middle" fill="#222" font-weight="bold" textLength="13" lengthAdjust="spacingAndGlyphs" transform="rotate(-90 405.90 471.40)">cKit</text>
<rect x="467.00" y="453.40" width="35.60" height="35.40" fill="#ffffff" stroke="#555" stroke-width="1"/>
<line x1="477.80" y1="453.40" x2="477.80" y2="488.80" stroke="#777" stroke-width="0.8"/>
<line x1="467.00" y1="478.10" x2="502.60" y2="478.10" stroke="#aaa" stroke-width="0.8"/>
<g><rect x="479.5" y="480.9" width="1.1" height="1.1" fill="#5a7ad8"/><rect x="481.4" y="478.3" width="1.1" height="1.1" fill="#2244b4"/><rect x="481.0" y="479.6" width="1.1" height="1.1" fill="#5a7ad8"/><rect x="477.6" y="478.5" width="1.1" height="1.1" fill="#2244b4"/><rect x="481.0" y="481.9" width="1.1" height="1.1" fill="#1a3aa8"/><rect x="479.9" y="478.7" width="1.1" height="1.1" fill="#2244b4"/><rect x="481.6" y="481.2" width="1.1" height="1.1" fill="#2a4ec0"/><rect x="478.4" y="482.9" width="1.1" height="1.1" fill="#2244b4"/><rect x="481.3" y="478.8" width="1.1" height="1.1" fill="#5a7ad8"/><rect x="481.2" y="477.5" width="1.1" height="1.1" fill="#2a4ec0"/><rect x="483.0" y="479.4" width="1.1" height="1.1" fill="#2a4ec0"/><rect x="481.0" y="480.0" width="1.1" height="1.1" fill="#5a7ad8"/><rect x="480.2" y="476.8" width="1.1" height="1.1" fill="#2244b4"/><rect x="479.7" y="475.7" width="1.1" height="1.1" fill="#3a5ed0"/><rect x="479.0" y="475.0" width="1.1" height="1.1" fill="#5a7ad8"/><rect x="476.3" y="475.7" width="1.1" height="1.1" fill="#2a4ec0"/><rect x="477.6" y="482.1" width="1.1" height="1.1" fill="#3a5ed0"/><rect x="480.5" y="481.3" width="1.1" height="1.1" fill="#2244b4"/><rect x="484.6" y="475.6" width="1.1" height="1.1" fill="#2a4ec0"/><rect x="480.1" y="484.2" width="1.1" height="1.1" fill="#2244b4"/><rect x="479.3" y="480.1" width="1.1" height="1.1" fill="#5a7ad8"/><rect x="481.0" y="479.1" width="1.1" height="1.1" fill="#2a4ec0"/><rect x="474.9" y="479.5" width="1.1" height="1.1" fill="#2a4ec0"/><rect x="475.3" y="479.7" width="1.1" height="1.1" fill="#1a3aa8"/><rect x="483.6" y="479.8" width="1.1" height="1.1" fill="#1a3aa8"/><rect x="484.0" y="466.1" width="1.1" height="1.1" fill="#a0acea"/><rect x="481.9" y="475.9" width="1.1" height="1.1" fill="#6a7ad0"/><rect x="480.3" y="460.8" width="1.1" height="1.1" fill="#8898e0"/><rect x="481.4" y="468.3" width="1.1" height="1.1" fill="#a0acea"/><rect x="485.2" y="470.4" width="1.1" height="1.1" fill="#6a7ad0"/><rect x="487.5" y="474.0" width="1.1" height="1.1" fill="#7a88d8"/><rect x="483.3" y="484.1" width="1.1" height="1.1" fill="#7a88d8"/><rect x="483.8" y="475.0" width="1.1" height="1.1" fill="#6a7ad0"/><rect x="482.0" y="473.5" width="1.1" height="1.1" fill="#6a7ad0"/><rect x="485.6" y="466.7" width="1.1" height="1.1" fill="#6a7ad0"/><rect x="480.1" y="482.9" width="1.1" height="1.1" fill="#8898e0"/><rect x="484.8" y="467.4" width="1.1" height="1.1" fill="#8898e0"/><rect x="488.5" y="472.8" width="1.1" height="1.1" fill="#6a7ad0"/><rect x="485.0" y="469.0" width="1.1" height="1.1" fill="#7a88d8"/><rect x="486.2" y="484.9" width="1.1" height="1.1" fill="#8898e0"/><rect x="482.5" y="472.0" width="1.1" height="1.1" fill="#a0acea"/><rect x="478.5" y="462.5" width="1.1" height="1.1" fill="#6a7ad0"/><rect x="482.8" y="471.3" width="1.1" height="1.1" fill="#6a7ad0"/><rect x="484.5" y="462.1" width="1.1" height="1.1" fill="#8898e0"/><rect x="484.8" y="479.6" width="1.1" height="1.1" fill="#6a7ad0"/><rect x="486.5" y="457.6" width="1.1" height="1.1" fill="#6a7ad0"/><rect x="486.9" y="467.4" width="1.1" height="1.1" fill="#7a88d8"/><rect x="485.5" y="468.6" width="1.1" height="1.1" fill="#7a88d8"/><rect x="475.7" y="481.5" width="1.1" height="1.1" fill="#a0acea"/><rect x="484.8" y="479.6" width="1.1" height="1.1" fill="#a0acea"/><rect x="486.1" y="477.2" width="1.1" height="1.1" fill="#8898e0"/><rect x="483.1" y="467.8" width="1.1" height="1.1" fill="#7a88d8"/><rect x="484.1" y="468.2" width="1.1" height="1.1" fill="#6a7ad0"/><rect x="487.5" y="473.2" width="1.1" height="1.1" fill="#7a88d8"/><rect x="484.2" y="472.9" width="1.1" height="1.1" fill="#6a7ad0"/><rect x="488.6" y="468.8" width="1.1" height="1.1" fill="#7a88d8"/><rect x="482.6" y="472.0" width="1.1" height="1.1" fill="#a0acea"/><rect x="484.8" y="470.6" width="1.1" height="1.1" fill="#7a88d8"/><rect x="484.6" y="468.3" width="1.1" height="1.1" fill="#7a88d8"/><rect x="484.1" y="463.7" width="1.1" height="1.1" fill="#7a88d8"/><rect x="486.4" y="479.3" width="1.1" height="1.1" fill="#8898e0"/><rect x="483.7" y="475.1" width="1.1" height="1.1" fill="#6a7ad0"/><rect x="481.6" y="476.8" width="1.1" height="1.1" fill="#6a7ad0"/><rect x="480.4" y="468.9" width="1.1" height="1.1" fill="#7a88d8"/><rect x="485.9" y="470.4" width="1.1" height="1.1" fill="#8898e0"/><rect x="478.6" y="467.8" width="1.1" height="1.1" fill="#7a88d8"/><rect x="484.4" y="483.2" width="1.1" height="1.1" fill="#8898e0"/><rect x="490.0" y="472.1" width="1.1" height="1.1" fill="#6a7ad0"/><rect x="484.6" y="484.0" width="1.1" height="1.1" fill="#7a88d8"/><rect x="484.3" y="468.8" width="1.1" height="1.1" fill="#7a88d8"/><rect x="487.4" y="473.3" width="1.1" height="1.1" fill="#a0acea"/><rect x="484.7" y="461.3" width="1.1" height="1.1" fill="#6a7ad0"/><rect x="479.1" y="475.0" width="1.1" height="1.1" fill="#a0acea"/><rect x="481.4" y="468.7" width="1.1" height="1.1" fill="#6a7ad0"/><rect x="487.0" y="470.9" width="1.1" height="1.1" fill="#7a88d8"/></g>
<text x="468.40" y="458.14" font-size="4.0" text-anchor="start" fill="#333">0.1</text>
<text x="501.20" y="458.14" font-size="4.0" text-anchor="end" fill="#333">41.6</text>
<text x="468.40" y="487.14" font-size="4.0" text-anchor="start" fill="#333">0.1</text>
<text x="501.20" y="487.14" font-size="4.0" text-anchor="end" fill="#333">57.5</text>
<line x1="470.00" y1="490.00" x2="470.00" y2="491.20" stroke="#bbb" stroke-width="0.6"/>
<line x1="477.80" y1="490.00" x2="477.80" y2="491.20" stroke="#bbb" stroke-width="0.6"/>
<line x1="485.00" y1="490.00" x2="485.00" y2="491.20" stroke="#bbb" stroke-width="0.6"/>
<line x1="492.00" y1="490.00" x2="492.00" y2="491.20" stroke="#bbb" stroke-width="0.6"/>
<text x="462.40" y="473.78" font-size="6.6" text-anchor="middle" fill="#222" font-weight="bold" textLength="15.5" lengthAdjust="spacingAndGlyphs" transform="rotate(-90 462.40 471.40)">Sca-1</text>
<rect x="294.90" y="499.80" width="35.60" height="35.40" fill="#ffffff" stroke="#555" stroke-width="1"/>
<line x1="305.70" y1="499.80" x2="305.70" y2="535.20" stroke="#777" stroke-width="0.8"/>
<line x1="294.90" y1="522.80" x2="330.50" y2="522.80" stroke="#aaa" stroke-width="0.8"/>
<g><rect x="305.8" y="528.0" width="1.1" height="1.1" fill="#2244b4"/><rect x="310.5" y="530.3" width="1.1" height="1.1" fill="#5a7ad8"/><rect x="304.7" y="533.0" width="1.1" height="1.1" fill="#1a3aa8"/><rect x="309.9" y="527.9" width="1.1" height="1.1" fill="#2244b4"/><rect x="310.3" y="531.4" width="1.1" height="1.1" fill="#2244b4"/><rect x="312.0" y="529.9" width="1.1" height="1.1" fill="#5a7ad8"/><rect x="308.1" y="530.0" width="1.1" height="1.1" fill="#2a4ec0"/><rect x="312.6" y="532.9" width="1.1" height="1.1" fill="#1a3aa8"/><rect x="310.7" y="529.5" width="1.1" height="1.1" fill="#1a3aa8"/><rect x="307.6" y="529.9" width="1.1" height="1.1" fill="#2a4ec0"/><rect x="308.6" y="533.9" width="1.1" height="1.1" fill="#1a3aa8"/><rect x="306.3" y="531.8" width="1.1" height="1.1" fill="#3a5ed0"/><rect x="307.9" y="527.0" width="1.1" height="1.1" fill="#2244b4"/><rect x="312.8" y="527.7" width="1.1" height="1.1" fill="#5a7ad8"/><rect x="309.4" y="530.3" width="1.1" height="1.1" fill="#1a3aa8"/><rect x="308.6" y="529.7" width="1.1" height="1.1" fill="#2a4ec0"/><rect x="307.8" y="527.0" width="1.1" height="1.1" fill="#2a4ec0"/><rect x="311.3" y="530.2" width="1.1" height="1.1" fill="#2244b4"/><rect x="308.3" y="526.8" width="1.1" height="1.1" fill="#5a7ad8"/><rect x="306.3" y="528.5" width="1.1" height="1.1" fill="#2a4ec0"/><rect x="307.9" y="526.4" width="1.1" height="1.1" fill="#5a7ad8"/><rect x="309.6" y="530.3" width="1.1" height="1.1" fill="#2244b4"/><rect x="307.9" y="532.3" width="1.1" height="1.1" fill="#5a7ad8"/><rect x="308.7" y="529.0" width="1.1" height="1.1" fill="#1a3aa8"/><rect x="311.8" y="532.3" width="1.1" height="1.1" fill="#1a3aa8"/><rect x="307.0" y="530.3" width="1.1" height="1.1" fill="#1a3aa8"/><rect x="303.8" y="529.3" width="1.1" height="1.1" fill="#2244b4"/><rect x="306.3" y="532.0" width="1.1" height="1.1" fill="#1a3aa8"/><rect x="307.6" y="532.6" width="1.1" height="1.1" fill="#2244b4"/><rect x="310.8" y="530.9" width="1.1" height="1.1" fill="#2a4ec0"/><rect x="307.3" y="528.0" width="1.1" height="1.1" fill="#5a7ad8"/><rect x="308.0" y="528.7" width="1.1" height="1.1" fill="#3a5ed0"/><rect x="310.2" y="529.1" width="1.1" height="1.1" fill="#5a7ad8"/><rect x="305.9" y="530.7" width="1.1" height="1.1" fill="#2a4ec0"/><rect x="310.1" y="531.2" width="1.1" height="1.1" fill="#2244b4"/><rect x="303.0" y="529.7" width="1.1" height="1.1" fill="#3a5ed0"/><rect x="305.6" y="528.7" width="1.1" height="1.1" fill="#2244b4"/><rect x="307.2" y="529.3" width="1.1" height="1.1" fill="#1a3aa8"/><rect x="308.6" y="530.8" width="1.1" height="1.1" fill="#1a3aa8"/><rect x="304.8" y="531.7" width="1.1" height="1.1" fill="#5a7ad8"/><rect x="308.6" y="532.9" width="1.1" height="1.1" fill="#2a4ec0"/><rect x="310.0" y="529.5" width="1.1" height="1.1" fill="#2a4ec0"/><rect x="308.3" y="530.7" width="1.1" height="1.1" fill="#1a3aa8"/><rect x="310.7" y="527.4" width="1.1" height="1.1" fill="#2a4ec0"/><rect x="309.4" y="527.1" width="1.1" height="1.1" fill="#3a5ed0"/><rect x="306.4" y="527.1" width="1.1" height="1.1" fill="#1a3aa8"/><rect x="312.7" y="532.4" width="1.1" height="1.1" fill="#2a4ec0"/><rect x="308.1" y="531.5" width="1.1" height="1.1" fill="#1a3aa8"/><rect x="304.8" y="532.2" width="1.1" height="1.1" fill="#2a4ec0"/><rect x="309.7" y="530.1" width="1.1" height="1.1" fill="#2a4ec0"/><rect x="314.7" y="527.0" width="1.1" height="1.1" fill="#6a7ad0"/><rect x="312.0" y="530.7" width="1.1" height="1.1" fill="#7a88d8"/><rect x="302.7" y="532.2" width="1.1" height="1.1" fill="#a0acea"/><rect x="306.6" y="525.1" width="1.1" height="1.1" fill="#a0acea"/><rect x="316.5" y="525.8" width="1.1" height="1.1" fill="#6a7ad0"/><rect x="308.0" y="530.1" width="1.1" height="1.1" fill="#7a88d8"/><rect x="312.4" y="531.3" width="1.1" height="1.1" fill="#8898e0"/><rect x="306.7" y="525.1" width="1.1" height="1.1" fill="#6a7ad0"/><rect x="307.0" y="529.7" width="1.1" height="1.1" fill="#6a7ad0"/><rect x="312.7" y="528.3" width="1.1" height="1.1" fill="#7a88d8"/><rect x="316.1" y="523.1" width="1.1" height="1.1" fill="#7a88d8"/><rect x="306.1" y="531.7" width="1.1" height="1.1" fill="#7a88d8"/><rect x="306.7" y="533.7" width="1.1" height="1.1" fill="#8898e0"/><rect x="310.1" y="529.6" width="1.1" height="1.1" fill="#6a7ad0"/><rect x="308.0" y="532.4" width="1.1" height="1.1" fill="#a0acea"/><rect x="308.3" y="533.6" width="1.1" height="1.1" fill="#a0acea"/><rect x="306.3" y="529.6" width="1.1" height="1.1" fill="#8898e0"/><rect x="310.8" y="530.3" width="1.1" height="1.1" fill="#8898e0"/><rect x="307.2" y="529.5" width="1.1" height="1.1" fill="#7a88d8"/><rect x="310.1" y="529.9" width="1.1" height="1.1" fill="#6a7ad0"/><rect x="309.2" y="532.1" width="1.1" height="1.1" fill="#7a88d8"/><rect x="310.6" y="525.5" width="1.1" height="1.1" fill="#a0acea"/><rect x="307.3" y="527.7" width="1.1" height="1.1" fill="#a0acea"/><rect x="308.1" y="525.2" width="1.1" height="1.1" fill="#8898e0"/><rect x="309.6" y="529.4" width="1.1" height="1.1" fill="#6a7ad0"/><rect x="307.0" y="526.1" width="1.1" height="1.1" fill="#a0acea"/><rect x="308.5" y="528.2" width="1.1" height="1.1" fill="#a0acea"/><rect x="311.6" y="531.1" width="1.1" height="1.1" fill="#6a7ad0"/><rect x="305.6" y="532.6" width="1.1" height="1.1" fill="#a0acea"/><rect x="306.4" y="524.6" width="1.1" height="1.1" fill="#8898e0"/><rect x="317.1" y="528.8" width="1.1" height="1.1" fill="#a0acea"/><rect x="312.6" y="528.1" width="1.1" height="1.1" fill="#a0acea"/><rect x="304.0" y="531.5" width="1.1" height="1.1" fill="#6a7ad0"/><rect x="306.6" y="532.9" width="1.1" height="1.1" fill="#a0acea"/><rect x="308.3" y="524.8" width="1.1" height="1.1" fill="#8898e0"/></g>
<text x="296.30" y="504.54" font-size="4.0" text-anchor="start" fill="#333">0.0</text>
<text x="329.10" y="504.54" font-size="4.0" text-anchor="end" fill="#333">1.2</text>
<text x="296.30" y="533.54" font-size="4.0" text-anchor="start" fill="#333">0.0</text>
<text x="329.10" y="533.54" font-size="4.0" text-anchor="end" fill="#333">98.7</text>
<line x1="297.90" y1="536.40" x2="297.90" y2="537.60" stroke="#bbb" stroke-width="0.6"/>
<line x1="305.70" y1="536.40" x2="305.70" y2="537.60" stroke="#bbb" stroke-width="0.6"/>
<line x1="312.90" y1="536.40" x2="312.90" y2="537.60" stroke="#bbb" stroke-width="0.6"/>
<line x1="319.90" y1="536.40" x2="319.90" y2="537.60" stroke="#bbb" stroke-width="0.6"/>
<text x="291.20" y="520.18" font-size="6.6" text-anchor="middle" fill="#222" font-weight="bold" textLength="12" lengthAdjust="spacingAndGlyphs" transform="rotate(-90 291.20 517.80)">CD3</text>
<rect x="352.20" y="499.80" width="35.60" height="35.40" fill="#ffffff" stroke="#555" stroke-width="1"/>
<line x1="363.00" y1="499.80" x2="363.00" y2="535.20" stroke="#777" stroke-width="0.8"/>
<line x1="352.20" y1="522.10" x2="387.80" y2="522.10" stroke="#aaa" stroke-width="0.8"/>
<g><rect x="368.3" y="531.2" width="1.1" height="1.1" fill="#2a4ec0"/><rect x="363.8" y="529.7" width="1.1" height="1.1" fill="#2244b4"/><rect x="367.1" y="529.7" width="1.1" height="1.1" fill="#5a7ad8"/><rect x="373.6" y="530.0" width="1.1" height="1.1" fill="#3a5ed0"/><rect x="367.5" y="530.6" width="1.1" height="1.1" fill="#5a7ad8"/><rect x="367.1" y="532.2" width="1.1" height="1.1" fill="#2a4ec0"/><rect x="363.9" y="531.1" width="1.1" height="1.1" fill="#3a5ed0"/><rect x="363.1" y="527.9" width="1.1" height="1.1" fill="#3a5ed0"/><rect x="364.8" y="528.7" width="1.1" height="1.1" fill="#5a7ad8"/><rect x="364.3" y="531.1" width="1.1" height="1.1" fill="#3a5ed0"/><rect x="366.5" y="528.8" width="1.1" height="1.1" fill="#5a7ad8"/><rect x="362.2" y="529.3" width="1.1" height="1.1" fill="#2a4ec0"/><rect x="369.2" y="529.1" width="1.1" height="1.1" fill="#2a4ec0"/><rect x="367.2" y="530.3" width="1.1" height="1.1" fill="#2a4ec0"/><rect x="367.3" y="530.7" width="1.1" height="1.1" fill="#3a5ed0"/><rect x="364.0" y="530.3" width="1.1" height="1.1" fill="#2244b4"/><rect x="363.6" y="530.2" width="1.1" height="1.1" fill="#2a4ec0"/><rect x="367.2" y="528.2" width="1.1" height="1.1" fill="#5a7ad8"/><rect x="363.2" y="528.4" width="1.1" height="1.1" fill="#5a7ad8"/><rect x="362.2" y="528.4" width="1.1" height="1.1" fill="#5a7ad8"/><rect x="367.8" y="531.7" width="1.1" height="1.1" fill="#2244b4"/><rect x="368.4" y="529.9" width="1.1" height="1.1" fill="#2a4ec0"/><rect x="366.1" y="529.2" width="1.1" height="1.1" fill="#5a7ad8"/><rect x="365.9" y="530.4" width="1.1" height="1.1" fill="#3a5ed0"/><rect x="366.2" y="530.2" width="1.1" height="1.1" fill="#2a4ec0"/><rect x="365.4" y="531.8" width="1.1" height="1.1" fill="#2244b4"/><rect x="363.2" y="531.3" width="1.1" height="1.1" fill="#2a4ec0"/><rect x="369.8" y="528.9" width="1.1" height="1.1" fill="#3a5ed0"/><rect x="370.5" y="531.9" width="1.1" height="1.1" fill="#3a5ed0"/><rect x="366.2" y="530.2" width="1.1" height="1.1" fill="#2244b4"/><rect x="365.0" y="529.9" width="1.1" height="1.1" fill="#1a3aa8"/><rect x="367.1" y="527.6" width="1.1" height="1.1" fill="#2244b4"/><rect x="367.4" y="528.8" width="1.1" height="1.1" fill="#5a7ad8"/><rect x="369.7" y="528.7" width="1.1" height="1.1" fill="#2244b4"/><rect x="366.5" y="529.2" width="1.1" height="1.1" fill="#5a7ad8"/><rect x="366.7" y="531.8" width="1.1" height="1.1" fill="#2a4ec0"/><rect x="367.8" y="531.4" width="1.1" height="1.1" fill="#3a5ed0"/><rect x="365.9" y="530.4" width="1.1" height="1.1" fill="#5a7ad8"/><rect x="362.3" y="530.9" width="1.1" height="1.1" fill="#1a3aa8"/><rect x="368.0" y="531.4" width="1.1" height="1.1" fill="#2244b4"/><rect x="370.8" y="529.4" width="1.1" height="1.1" fill="#5a7ad8"/><rect x="361.9" y="530.5" width="1.1" height="1.1" fill="#1a3aa8"/><rect x="365.9" y="527.5" width="1.1" height="1.1" fill="#2244b4"/><rect x="366.9" y="530.1" width="1.1" height="1.1" fill="#2a4ec0"/><rect x="366.3" y="528.9" width="1.1" height="1.1" fill="#2244b4"/><rect x="366.4" y="531.6" width="1.1" height="1.1" fill="#1a3aa8"/><rect x="364.2" y="529.1" width="1.1" height="1.1" fill="#3a5ed0"/><rect x="364.1" y="531.0" width="1.1" height="1.1" fill="#2a4ec0"/><rect x="367.0" y="531.0" width="1.1" height="1.1" fill="#5a7ad8"/><rect x="369.6" y="530.6" width="1.1" height="1.1" fill="#3a5ed0"/><rect x="370.0" y="530.9" width="1.1" height="1.1" fill="#1a3aa8"/><rect x="370.2" y="531.1" width="1.1" height="1.1" fill="#2244b4"/><rect x="367.8" y="531.0" width="1.1" height="1.1" fill="#2a4ec0"/><rect x="365.3" y="531.7" width="1.1" height="1.1" fill="#2a4ec0"/><rect x="371.6" y="528.9" width="1.1" height="1.1" fill="#2a4ec0"/><rect x="369.7" y="530.4" width="1.1" height="1.1" fill="#2244b4"/><rect x="367.2" y="531.0" width="1.1" height="1.1" fill="#2244b4"/><rect x="366.2" y="531.3" width="1.1" height="1.1" fill="#2a4ec0"/><rect x="369.8" y="529.7" width="1.1" height="1.1" fill="#1a3aa8"/><rect x="368.4" y="528.6" width="1.1" height="1.1" fill="#2a4ec0"/><rect x="369.8" y="528.6" width="1.1" height="1.1" fill="#8898e0"/><rect x="369.8" y="531.7" width="1.1" height="1.1" fill="#6a7ad0"/><rect x="369.9" y="530.3" width="1.1" height="1.1" fill="#7a88d8"/><rect x="366.2" y="530.0" width="1.1" height="1.1" fill="#a0acea"/><rect x="372.7" y="531.6" width="1.1" height="1.1" fill="#a0acea"/><rect x="375.8" y="530.4" width="1.1" height="1.1" fill="#8898e0"/><rect x="361.3" y="526.9" width="1.1" height="1.1" fill="#a0acea"/><rect x="366.6" y="533.0" width="1.1" height="1.1" fill="#a0acea"/><rect x="365.7" y="529.2" width="1.1" height="1.1" fill="#6a7ad0"/><rect x="365.3" y="530.0" width="1.1" height="1.1" fill="#6a7ad0"/><rect x="368.8" y="528.9" width="1.1" height="1.1" fill="#8898e0"/><rect x="360.7" y="530.8" width="1.1" height="1.1" fill="#a0acea"/><rect x="368.0" y="527.3" width="1.1" height="1.1" fill="#8898e0"/><rect x="368.9" y="531.2" width="1.1" height="1.1" fill="#a0acea"/><rect x="368.8" y="529.5" width="1.1" height="1.1" fill="#8898e0"/><rect x="368.5" y="529.6" width="1.1" height="1.1" fill="#a0acea"/><rect x="366.1" y="532.2" width="1.1" height="1.1" fill="#8898e0"/><rect x="364.6" y="530.0" width="1.1" height="1.1" fill="#a0acea"/><rect x="355.9" y="528.1" width="1.1" height="1.1" fill="#6a7ad0"/><rect x="369.8" y="527.0" width="1.1" height="1.1" fill="#8898e0"/><rect x="368.9" y="531.3" width="1.1" height="1.1" fill="#a0acea"/><rect x="368.1" y="528.6" width="1.1" height="1.1" fill="#6a7ad0"/><rect x="369.7" y="528.0" width="1.1" height="1.1" fill="#a0acea"/><rect x="374.8" y="527.6" width="1.1" height="1.1" fill="#6a7ad0"/><rect x="364.2" y="530.6" width="1.1" height="1.1" fill="#a0acea"/><rect x="371.1" y="531.7" width="1.1" height="1.1" fill="#6a7ad0"/><rect x="365.9" y="530.3" width="1.1" height="1.1" fill="#6a7ad0"/><rect x="372.3" y="529.5" width="1.1" height="1.1" fill="#a0acea"/><rect x="367.0" y="532.1" width="1.1" height="1.1" fill="#6a7ad0"/><rect x="370.7" y="528.0" width="1.1" height="1.1" fill="#8898e0"/></g>
<text x="353.60" y="504.54" font-size="4.0" text-anchor="start" fill="#333">0.0</text>
<text x="386.40" y="504.54" font-size="4.0" text-anchor="end" fill="#333">0.7</text>
<text x="353.60" y="533.54" font-size="4.0" text-anchor="start" fill="#333">0.1</text>
<text x="386.40" y="533.54" font-size="4.0" text-anchor="end" fill="#333">99.2</text>
<line x1="355.20" y1="536.40" x2="355.20" y2="537.60" stroke="#bbb" stroke-width="0.6"/>
<line x1="363.00" y1="536.40" x2="363.00" y2="537.60" stroke="#bbb" stroke-width="0.6"/>
<line x1="370.20" y1="536.40" x2="370.20" y2="537.60" stroke="#bbb" stroke-width="0.6"/>
<line x1="377.20" y1="536.40" x2="377.20" y2="537.60" stroke="#bbb" stroke-width="0.6"/>
<text x="348.50" y="520.18" font-size="6.6" text-anchor="middle" fill="#222" font-weight="bold" textLength="12" lengthAdjust="spacingAndGlyphs" transform="rotate(-90 348.50 517.80)">CD4</text>
<rect x="409.60" y="499.80" width="35.60" height="35.40" fill="#ffffff" stroke="#555" stroke-width="1"/>
<line x1="420.40" y1="499.80" x2="420.40" y2="535.20" stroke="#777" stroke-width="0.8"/>
<line x1="409.60" y1="523.30" x2="445.20" y2="523.30" stroke="#aaa" stroke-width="0.8"/>
<g><rect x="423.9" y="530.8" width="1.1" height="1.1" fill="#3a5ed0"/><rect x="423.0" y="529.2" width="1.1" height="1.1" fill="#2244b4"/><rect x="426.8" y="528.4" width="1.1" height="1.1" fill="#2a4ec0"/><rect x="427.8" y="528.5" width="1.1" height="1.1" fill="#1a3aa8"/><rect x="426.0" y="531.3" width="1.1" height="1.1" fill="#1a3aa8"/><rect x="427.3" y="533.9" width="1.1" height="1.1" fill="#2a4ec0"/><rect x="424.3" y="530.7" width="1.1" height="1.1" fill="#2244b4"/><rect x="423.3" y="530.2" width="1.1" height="1.1" fill="#3a5ed0"/><rect x="426.4" y="530.2" width="1.1" height="1.1" fill="#1a3aa8"/><rect x="424.6" y="532.3" width="1.1" height="1.1" fill="#2a4ec0"/><rect x="422.7" y="527.4" width="1.1" height="1.1" fill="#2a4ec0"/><rect x="426.3" y="530.1" width="1.1" height="1.1" fill="#3a5ed0"/><rect x="427.1" y="528.8" width="1.1" height="1.1" fill="#5a7ad8"/><rect x="428.4" y="528.7" width="1.1" height="1.1" fill="#1a3aa8"/><rect x="424.1" y="531.4" width="1.1" height="1.1" fill="#1a3aa8"/><rect x="423.2" y="532.0" width="1.1" height="1.1" fill="#3a5ed0"/><rect x="423.5" y="528.2" width="1.1" height="1.1" fill="#2a4ec0"/><rect x="424.4" y="528.3" width="1.1" height="1.1" fill="#3a5ed0"/><rect x="426.6" y="528.0" width="1.1" height="1.1" fill="#5a7ad8"/><rect x="424.9" y="532.9" width="1.1" height="1.1" fill="#2a4ec0"/><rect x="424.0" y="530.8" width="1.1" height="1.1" fill="#1a3aa8"/><rect x="425.6" y="530.3" width="1.1" height="1.1" fill="#2a4ec0"/><rect x="426.1" y="529.6" width="1.1" height="1.1" fill="#3a5ed0"/><rect x="427.0" y="529.7" width="1.1" height="1.1" fill="#2a4ec0"/><rect x="422.2" y="529.4" width="1.1" height="1.1" fill="#2244b4"/><rect x="422.9" y="531.4" width="1.1" height="1.1" fill="#3a5ed0"/><rect x="426.9" y="527.8" width="1.1" height="1.1" fill="#1a3aa8"/><rect x="420.3" y="531.1" width="1.1" height="1.1" fill="#5a7ad8"/><rect x="422.5" y="529.6" width="1.1" height="1.1" fill="#2a4ec0"/><rect x="423.1" y="530.0" width="1.1" height="1.1" fill="#3a5ed0"/><rect x="425.2" y="532.9" width="1.1" height="1.1" fill="#5a7ad8"/><rect x="425.1" y="533.7" width="1.1" height="1.1" fill="#3a5ed0"/><rect x="426.7" y="531.9" width="1.1" height="1.1" fill="#5a7ad8"/><rect x="418.8" y="530.6" width="1.1" height="1.1" fill="#1a3aa8"/><rect x="423.7" y="529.6" width="1.1" height="1.1" fill="#3a5ed0"/><rect x="420.2" y="528.6" width="1.1" height="1.1" fill="#2a4ec0"/><rect x="422.4" y="528.0" width="1.1" height="1.1" fill="#5a7ad8"/><rect x="421.0" y="530.6" width="1.1" height="1.1" fill="#2a4ec0"/><rect x="423.0" y="532.5" width="1.1" height="1.1" fill="#5a7ad8"/><rect x="426.6" y="533.0" width="1.1" height="1.1" fill="#2244b4"/><rect x="423.6" y="532.3" width="1.1" height="1.1" fill="#5a7ad8"/><rect x="422.2" y="529.3" width="1.1" height="1.1" fill="#3a5ed0"/><rect x="421.0" y="531.1" width="1.1" height="1.1" fill="#3a5ed0"/><rect x="423.9" y="527.8" width="1.1" height="1.1" fill="#2a4ec0"/><rect x="425.5" y="529.7" width="1.1" height="1.1" fill="#5a7ad8"/><rect x="426.1" y="530.6" width="1.1" height="1.1" fill="#3a5ed0"/><rect x="423.3" y="533.6" width="1.1" height="1.1" fill="#1a3aa8"/><rect x="426.2" y="531.1" width="1.1" height="1.1" fill="#2a4ec0"/><rect x="423.7" y="530.0" width="1.1" height="1.1" fill="#3a5ed0"/><rect x="430.4" y="527.7" width="1.1" height="1.1" fill="#6a7ad0"/><rect x="422.1" y="530.0" width="1.1" height="1.1" fill="#6a7ad0"/><rect x="417.1" y="533.7" width="1.1" height="1.1" fill="#6a7ad0"/><rect x="421.9" y="525.7" width="1.1" height="1.1" fill="#6a7ad0"/><rect x="425.7" y="529.0" width="1.1" height="1.1" fill="#6a7ad0"/><rect x="423.8" y="528.8" width="1.1" height="1.1" fill="#a0acea"/><rect x="422.1" y="532.7" width="1.1" height="1.1" fill="#a0acea"/><rect x="419.0" y="531.3" width="1.1" height="1.1" fill="#7a88d8"/><rect x="429.4" y="527.5" width="1.1" height="1.1" fill="#7a88d8"/><rect x="419.1" y="527.5" width="1.1" height="1.1" fill="#8898e0"/><rect x="421.2" y="530.8" width="1.1" height="1.1" fill="#7a88d8"/><rect x="425.0" y="526.4" width="1.1" height="1.1" fill="#6a7ad0"/><rect x="420.5" y="530.5" width="1.1" height="1.1" fill="#7a88d8"/><rect x="422.2" y="533.0" width="1.1" height="1.1" fill="#7a88d8"/><rect x="429.7" y="531.6" width="1.1" height="1.1" fill="#6a7ad0"/><rect x="418.8" y="528.2" width="1.1" height="1.1" fill="#7a88d8"/><rect x="429.8" y="529.6" width="1.1" height="1.1" fill="#7a88d8"/><rect x="430.5" y="528.1" width="1.1" height="1.1" fill="#8898e0"/><rect x="426.6" y="527.0" width="1.1" height="1.1" fill="#7a88d8"/><rect x="430.0" y="527.8" width="1.1" height="1.1" fill="#a0acea"/><rect x="425.5" y="526.6" width="1.1" height="1.1" fill="#a0acea"/><rect x="422.6" y="522.6" width="1.1" height="1.1" fill="#6a7ad0"/><rect x="418.0" y="528.9" width="1.1" height="1.1" fill="#a0acea"/><rect x="432.8" y="531.3" width="1.1" height="1.1" fill="#a0acea"/><rect x="434.8" y="529.7" width="1.1" height="1.1" fill="#7a88d8"/><rect x="424.1" y="531.5" width="1.1" height="1.1" fill="#7a88d8"/><rect x="423.4" y="529.6" width="1.1" height="1.1" fill="#6a7ad0"/><rect x="427.7" y="527.5" width="1.1" height="1.1" fill="#a0acea"/></g>
<text x="411.00" y="504.54" font-size="4.0" text-anchor="start" fill="#333">0.0</text>
<text x="443.80" y="504.54" font-size="4.0" text-anchor="end" fill="#333">1.2</text>
<text x="411.00" y="533.54" font-size="4.0" text-anchor="start" fill="#333">0.1</text>
<text x="443.80" y="533.54" font-size="4.0" text-anchor="end" fill="#333">98.6</text>
<line x1="412.60" y1="536.40" x2="412.60" y2="537.60" stroke="#bbb" stroke-width="0.6"/>
<line x1="420.40" y1="536.40" x2="420.40" y2="537.60" stroke="#bbb" stroke-width="0.6"/>
<line x1="427.60" y1="536.40" x2="427.60" y2="537.60" stroke="#bbb" stroke-width="0.6"/>
<line x1="434.60" y1="536.40" x2="434.60" y2="537.60" stroke="#bbb" stroke-width="0.6"/>
<text x="405.90" y="520.18" font-size="6.6" text-anchor="middle" fill="#222" font-weight="bold" textLength="15.5" lengthAdjust="spacingAndGlyphs" transform="rotate(-90 405.90 517.80)">CD8a</text>
<rect x="467.00" y="499.80" width="35.60" height="35.40" fill="#ffffff" stroke="#555" stroke-width="1"/>
<line x1="477.80" y1="499.80" x2="477.80" y2="535.20" stroke="#777" stroke-width="0.8"/>
<line x1="467.00" y1="523.80" x2="502.60" y2="523.80" stroke="#aaa" stroke-width="0.8"/>
<g><rect x="481.3" y="530.1" width="1.1" height="1.1" fill="#2244b4"/><rect x="484.4" y="529.3" width="1.1" height="1.1" fill="#3a5ed0"/><rect x="483.2" y="531.1" width="1.1" height="1.1" fill="#3a5ed0"/><rect x="485.4" y="528.6" width="1.1" height="1.1" fill="#3a5ed0"/><rect x="484.3" y="529.3" width="1.1" height="1.1" fill="#5a7ad8"/><rect x="481.6" y="529.4" width="1.1" height="1.1" fill="#5a7ad8"/><rect x="482.4" y="528.8" width="1.1" height="1.1" fill="#2a4ec0"/><rect x="484.9" y="530.4" width="1.1" height="1.1" fill="#3a5ed0"/><rect x="477.5" y="528.1" width="1.1" height="1.1" fill="#1a3aa8"/><rect x="482.2" y="530.5" width="1.1" height="1.1" fill="#2244b4"/><rect x="485.3" y="527.9" width="1.1" height="1.1" fill="#2a4ec0"/><rect x="487.0" y="532.0" width="1.1" height="1.1" fill="#5a7ad8"/><rect x="482.0" y="525.8" width="1.1" height="1.1" fill="#2a4ec0"/><rect x="485.4" y="529.4" width="1.1" height="1.1" fill="#2244b4"/><rect x="485.9" y="532.0" width="1.1" height="1.1" fill="#3a5ed0"/><rect x="478.3" y="533.6" width="1.1" height="1.1" fill="#1a3aa8"/><rect x="482.5" y="531.6" width="1.1" height="1.1" fill="#5a7ad8"/><rect x="486.2" y="529.4" width="1.1" height="1.1" fill="#2244b4"/><rect x="485.8" y="530.9" width="1.1" height="1.1" fill="#2a4ec0"/><rect x="483.1" y="531.6" width="1.1" height="1.1" fill="#2a4ec0"/><rect x="479.5" y="527.7" width="1.1" height="1.1" fill="#5a7ad8"/><rect x="480.5" y="527.5" width="1.1" height="1.1" fill="#2244b4"/><rect x="480.3" y="529.0" width="1.1" height="1.1" fill="#3a5ed0"/><rect x="482.8" y="528.8" width="1.1" height="1.1" fill="#5a7ad8"/><rect x="482.7" y="529.5" width="1.1" height="1.1" fill="#2244b4"/><rect x="481.9" y="530.7" width="1.1" height="1.1" fill="#1a3aa8"/><rect x="484.8" y="528.4" width="1.1" height="1.1" fill="#3a5ed0"/><rect x="484.9" y="527.3" width="1.1" height="1.1" fill="#2a4ec0"/><rect x="482.6" y="532.3" width="1.1" height="1.1" fill="#5a7ad8"/><rect x="475.1" y="527.4" width="1.1" height="1.1" fill="#2244b4"/><rect x="488.6" y="530.6" width="1.1" height="1.1" fill="#2a4ec0"/><rect x="482.5" y="528.7" width="1.1" height="1.1" fill="#2244b4"/><rect x="477.4" y="528.8" width="1.1" height="1.1" fill="#3a5ed0"/><rect x="483.5" y="530.9" width="1.1" height="1.1" fill="#2a4ec0"/><rect x="483.5" y="527.0" width="1.1" height="1.1" fill="#3a5ed0"/><rect x="477.4" y="530.9" width="1.1" height="1.1" fill="#2244b4"/><rect x="478.0" y="527.3" width="1.1" height="1.1" fill="#2244b4"/><rect x="488.3" y="527.9" width="1.1" height="1.1" fill="#2244b4"/><rect x="485.4" y="530.9" width="1.1" height="1.1" fill="#2a4ec0"/><rect x="485.5" y="529.1" width="1.1" height="1.1" fill="#1a3aa8"/><rect x="486.4" y="524.9" width="1.1" height="1.1" fill="#3a5ed0"/><rect x="485.0" y="530.1" width="1.1" height="1.1" fill="#1a3aa8"/><rect x="486.6" y="527.5" width="1.1" height="1.1" fill="#2a4ec0"/><rect x="482.9" y="527.2" width="1.1" height="1.1" fill="#3a5ed0"/><rect x="484.6" y="527.6" width="1.1" height="1.1" fill="#2244b4"/><rect x="481.5" y="530.5" width="1.1" height="1.1" fill="#2244b4"/><rect x="484.0" y="528.0" width="1.1" height="1.1" fill="#3a5ed0"/><rect x="483.1" y="524.2" width="1.1" height="1.1" fill="#2a4ec0"/><rect x="482.5" y="529.9" width="1.1" height="1.1" fill="#3a5ed0"/><rect x="485.5" y="528.0" width="1.1" height="1.1" fill="#5a7ad8"/><rect x="481.0" y="524.2" width="1.1" height="1.1" fill="#8898e0"/><rect x="481.9" y="527.8" width="1.1" height="1.1" fill="#7a88d8"/><rect x="480.4" y="529.6" width="1.1" height="1.1" fill="#6a7ad0"/><rect x="492.2" y="524.3" width="1.1" height="1.1" fill="#a0acea"/><rect x="485.7" y="529.4" width="1.1" height="1.1" fill="#a0acea"/><rect x="481.9" y="526.9" width="1.1" height="1.1" fill="#8898e0"/><rect x="484.1" y="523.7" width="1.1" height="1.1" fill="#8898e0"/><rect x="481.9" y="524.3" width="1.1" height="1.1" fill="#a0acea"/><rect x="485.7" y="527.9" width="1.1" height="1.1" fill="#a0acea"/><rect x="480.0" y="526.7" width="1.1" height="1.1" fill="#7a88d8"/><rect x="475.6" y="528.2" width="1.1" height="1.1" fill="#6a7ad0"/><rect x="486.8" y="526.5" width="1.1" height="1.1" fill="#8898e0"/><rect x="485.4" y="521.4" width="1.1" height="1.1" fill="#7a88d8"/><rect x="488.6" y="530.4" width="1.1" height="1.1" fill="#8898e0"/><rect x="482.8" y="522.4" width="1.1" height="1.1" fill="#a0acea"/><rect x="484.9" y="520.1" width="1.1" height="1.1" fill="#a0acea"/><rect x="489.0" y="524.9" width="1.1" height="1.1" fill="#8898e0"/><rect x="483.3" y="524.5" width="1.1" height="1.1" fill="#7a88d8"/><rect x="480.4" y="517.5" width="1.1" height="1.1" fill="#a0acea"/><rect x="482.3" y="533.9" width="1.1" height="1.1" fill="#6a7ad0"/><rect x="483.5" y="524.9" width="1.1" height="1.1" fill="#6a7ad0"/><rect x="482.9" y="531.5" width="1.1" height="1.1" fill="#6a7ad0"/><rect x="482.8" y="529.3" width="1.1" height="1.1" fill="#a0acea"/><rect x="486.8" y="527.4" width="1.1" height="1.1" fill="#6a7ad0"/><rect x="479.6" y="527.6" width="1.1" height="1.1" fill="#7a88d8"/><rect x="483.9" y="528.2" width="1.1" height="1.1" fill="#8898e0"/><rect x="485.4" y="527.6" width="1.1" height="1.1" fill="#6a7ad0"/><rect x="488.8" y="526.1" width="1.1" height="1.1" fill="#a0acea"/><rect x="488.1" y="526.5" width="1.1" height="1.1" fill="#6a7ad0"/><rect x="488.6" y="527.9" width="1.1" height="1.1" fill="#a0acea"/><rect x="484.3" y="522.2" width="1.1" height="1.1" fill="#8898e0"/><rect x="490.1" y="518.0" width="1.1" height="1.1" fill="#7a88d8"/><rect x="480.1" y="524.4" width="1.1" height="1.1" fill="#8898e0"/><rect x="476.4" y="527.0" width="1.1" height="1.1" fill="#8898e0"/><rect x="482.9" y="528.3" width="1.1" height="1.1" fill="#7a88d8"/></g>
<text x="468.40" y="504.54" font-size="4.0" text-anchor="start" fill="#333">0.0</text>
<text x="501.20" y="504.54" font-size="4.0" text-anchor="end" fill="#333">6.8</text>
<text x="468.40" y="533.54" font-size="4.0" text-anchor="start" fill="#333">0.2</text>
<text x="501.20" y="533.54" font-size="4.0" text-anchor="end" fill="#333">93.0</text>
<line x1="470.00" y1="536.40" x2="470.00" y2="537.60" stroke="#bbb" stroke-width="0.6"/>
<line x1="477.80" y1="536.40" x2="477.80" y2="537.60" stroke="#bbb" stroke-width="0.6"/>
<line x1="485.00" y1="536.40" x2="485.00" y2="537.60" stroke="#bbb" stroke-width="0.6"/>
<line x1="492.00" y1="536.40" x2="492.00" y2="537.60" stroke="#bbb" stroke-width="0.6"/>
<text x="462.40" y="520.18" font-size="6.6" text-anchor="middle" fill="#222" font-weight="bold" textLength="15.5" lengthAdjust="spacingAndGlyphs" transform="rotate(-90 462.40 517.80)">B220</text>
<rect x="294.90" y="544.60" width="35.60" height="35.40" fill="#ffffff" stroke="#555" stroke-width="1"/>
<line x1="305.70" y1="544.60" x2="305.70" y2="580.00" stroke="#777" stroke-width="0.8"/>
<line x1="294.90" y1="568.40" x2="330.50" y2="568.40" stroke="#aaa" stroke-width="0.8"/>
<g><rect x="307.6" y="573.2" width="1.1" height="1.1" fill="#3a5ed0"/><rect x="306.6" y="575.9" width="1.1" height="1.1" fill="#2244b4"/><rect x="306.9" y="573.8" width="1.1" height="1.1" fill="#2a4ec0"/><rect x="309.4" y="577.3" width="1.1" height="1.1" fill="#3a5ed0"/><rect x="302.5" y="571.9" width="1.1" height="1.1" fill="#3a5ed0"/><rect x="303.7" y="573.1" width="1.1" height="1.1" fill="#5a7ad8"/><rect x="305.9" y="574.6" width="1.1" height="1.1" fill="#3a5ed0"/><rect x="308.9" y="577.7" width="1.1" height="1.1" fill="#1a3aa8"/><rect x="309.7" y="573.8" width="1.1" height="1.1" fill="#2244b4"/><rect x="308.5" y="575.7" width="1.1" height="1.1" fill="#2244b4"/><rect x="306.7" y="574.7" width="1.1" height="1.1" fill="#2a4ec0"/><rect x="307.0" y="576.0" width="1.1" height="1.1" fill="#3a5ed0"/><rect x="310.1" y="575.4" width="1.1" height="1.1" fill="#2244b4"/><rect x="306.1" y="573.3" width="1.1" height="1.1" fill="#3a5ed0"/><rect x="306.5" y="577.6" width="1.1" height="1.1" fill="#2244b4"/><rect x="309.7" y="578.2" width="1.1" height="1.1" fill="#5a7ad8"/><rect x="307.2" y="571.9" width="1.1" height="1.1" fill="#2a4ec0"/><rect x="302.8" y="574.4" width="1.1" height="1.1" fill="#1a3aa8"/><rect x="306.7" y="576.1" width="1.1" height="1.1" fill="#1a3aa8"/><rect x="306.6" y="576.4" width="1.1" height="1.1" fill="#2a4ec0"/><rect x="310.9" y="577.6" width="1.1" height="1.1" fill="#3a5ed0"/><rect x="311.2" y="577.8" width="1.1" height="1.1" fill="#2244b4"/><rect x="303.9" y="577.4" width="1.1" height="1.1" fill="#2244b4"/><rect x="307.5" y="577.9" width="1.1" height="1.1" fill="#3a5ed0"/><rect x="309.9" y="577.4" width="1.1" height="1.1" fill="#1a3aa8"/><rect x="309.6" y="573.8" width="1.1" height="1.1" fill="#3a5ed0"/><rect x="308.6" y="574.1" width="1.1" height="1.1" fill="#3a5ed0"/><rect x="306.4" y="574.9" width="1.1" height="1.1" fill="#3a5ed0"/><rect x="306.2" y="576.2" width="1.1" height="1.1" fill="#2a4ec0"/><rect x="305.8" y="571.8" width="1.1" height="1.1" fill="#2244b4"/><rect x="306.6" y="575.6" width="1.1" height="1.1" fill="#5a7ad8"/><rect x="311.0" y="577.9" width="1.1" height="1.1" fill="#3a5ed0"/><rect x="305.3" y="574.2" width="1.1" height="1.1" fill="#5a7ad8"/><rect x="307.8" y="575.8" width="1.1" height="1.1" fill="#1a3aa8"/><rect x="307.8" y="574.6" width="1.1" height="1.1" fill="#2a4ec0"/><rect x="303.2" y="576.4" width="1.1" height="1.1" fill="#2a4ec0"/><rect x="306.0" y="575.2" width="1.1" height="1.1" fill="#2244b4"/><rect x="309.3" y="572.7" width="1.1" height="1.1" fill="#2244b4"/><rect x="307.1" y="576.2" width="1.1" height="1.1" fill="#2a4ec0"/><rect x="306.8" y="573.0" width="1.1" height="1.1" fill="#1a3aa8"/><rect x="305.0" y="574.3" width="1.1" height="1.1" fill="#3a5ed0"/><rect x="312.9" y="575.0" width="1.1" height="1.1" fill="#3a5ed0"/><rect x="308.2" y="574.8" width="1.1" height="1.1" fill="#5a7ad8"/><rect x="305.7" y="577.4" width="1.1" height="1.1" fill="#1a3aa8"/><rect x="309.5" y="574.5" width="1.1" height="1.1" fill="#2a4ec0"/><rect x="307.8" y="578.6" width="1.1" height="1.1" fill="#2244b4"/><rect x="309.9" y="573.8" width="1.1" height="1.1" fill="#6a7ad0"/><rect x="310.3" y="573.3" width="1.1" height="1.1" fill="#a0acea"/><rect x="304.2" y="573.5" width="1.1" height="1.1" fill="#a0acea"/><rect x="311.0" y="574.2" width="1.1" height="1.1" fill="#a0acea"/><rect x="309.6" y="577.7" width="1.1" height="1.1" fill="#7a88d8"/><rect x="303.3" y="575.0" width="1.1" height="1.1" fill="#8898e0"/><rect x="310.5" y="578.8" width="1.1" height="1.1" fill="#a0acea"/><rect x="313.4" y="574.4" width="1.1" height="1.1" fill="#8898e0"/><rect x="314.6" y="570.0" width="1.1" height="1.1" fill="#8898e0"/><rect x="306.3" y="574.3" width="1.1" height="1.1" fill="#a0acea"/><rect x="314.5" y="572.1" width="1.1" height="1.1" fill="#7a88d8"/><rect x="305.4" y="569.2" width="1.1" height="1.1" fill="#7a88d8"/><rect x="305.0" y="575.5" width="1.1" height="1.1" fill="#a0acea"/><rect x="310.6" y="570.6" width="1.1" height="1.1" fill="#7a88d8"/><rect x="307.6" y="571.3" width="1.1" height="1.1" fill="#8898e0"/><rect x="310.8" y="575.4" width="1.1" height="1.1" fill="#7a88d8"/><rect x="305.9" y="577.7" width="1.1" height="1.1" fill="#8898e0"/><rect x="307.3" y="569.5" width="1.1" height="1.1" fill="#a0acea"/><rect x="306.8" y="570.1" width="1.1" height="1.1" fill="#8898e0"/><rect x="313.3" y="574.6" width="1.1" height="1.1" fill="#6a7ad0"/><rect x="307.6" y="571.5" width="1.1" height="1.1" fill="#8898e0"/><rect x="306.4" y="573.0" width="1.1" height="1.1" fill="#6a7ad0"/><rect x="309.3" y="572.6" width="1.1" height="1.1" fill="#6a7ad0"/><rect x="315.3" y="574.4" width="1.1" height="1.1" fill="#8898e0"/><rect x="310.6" y="572.9" width="1.1" height="1.1" fill="#6a7ad0"/><rect x="310.1" y="571.0" width="1.1" height="1.1" fill="#a0acea"/><rect x="308.7" y="572.2" width="1.1" height="1.1" fill="#8898e0"/><rect x="309.0" y="576.4" width="1.1" height="1.1" fill="#8898e0"/></g>
<text x="296.30" y="549.34" font-size="4.0" text-anchor="start" fill="#333">0.0</text>
<text x="329.10" y="549.34" font-size="4.0" text-anchor="end" fill="#333">0.6</text>
<text x="296.30" y="578.34" font-size="4.0" text-anchor="start" fill="#333">0.1</text>
<text x="329.10" y="578.34" font-size="4.0" text-anchor="end" fill="#333">99.3</text>
<line x1="297.90" y1="581.20" x2="297.90" y2="582.40" stroke="#bbb" stroke-width="0.6"/>
<line x1="305.70" y1="581.20" x2="305.70" y2="582.40" stroke="#bbb" stroke-width="0.6"/>
<line x1="312.90" y1="581.20" x2="312.90" y2="582.40" stroke="#bbb" stroke-width="0.6"/>
<line x1="319.90" y1="581.20" x2="319.90" y2="582.40" stroke="#bbb" stroke-width="0.6"/>
<text x="291.20" y="564.98" font-size="6.6" text-anchor="middle" fill="#222" font-weight="bold" textLength="15.5" lengthAdjust="spacingAndGlyphs" transform="rotate(-90 291.20 562.60)">CD19</text>
<rect x="352.20" y="544.60" width="35.60" height="35.40" fill="#ffffff" stroke="#555" stroke-width="1"/>
<line x1="363.00" y1="544.60" x2="363.00" y2="580.00" stroke="#777" stroke-width="0.8"/>
<line x1="352.20" y1="570.10" x2="387.80" y2="570.10" stroke="#aaa" stroke-width="0.8"/>
<g><rect x="372.6" y="571.0" width="1.1" height="1.1" fill="#5a7ad8"/><rect x="372.2" y="564.0" width="1.1" height="1.1" fill="#1a3aa8"/><rect x="367.7" y="566.1" width="1.1" height="1.1" fill="#1a3aa8"/><rect x="363.5" y="571.0" width="1.1" height="1.1" fill="#2244b4"/><rect x="368.9" y="574.4" width="1.1" height="1.1" fill="#2a4ec0"/><rect x="374.3" y="572.6" width="1.1" height="1.1" fill="#1a3aa8"/><rect x="369.2" y="565.1" width="1.1" height="1.1" fill="#3a5ed0"/><rect x="368.5" y="568.8" width="1.1" height="1.1" fill="#1a3aa8"/><rect x="362.7" y="570.2" width="1.1" height="1.1" fill="#5a7ad8"/><rect x="371.7" y="570.3" width="1.1" height="1.1" fill="#2a4ec0"/><rect x="366.9" y="567.0" width="1.1" height="1.1" fill="#2244b4"/><rect x="370.6" y="563.2" width="1.1" height="1.1" fill="#5a7ad8"/><rect x="372.0" y="564.9" width="1.1" height="1.1" fill="#2244b4"/><rect x="373.4" y="570.9" width="1.1" height="1.1" fill="#1a3aa8"/><rect x="370.4" y="570.2" width="1.1" height="1.1" fill="#2244b4"/><rect x="368.1" y="567.1" width="1.1" height="1.1" fill="#2244b4"/><rect x="370.9" y="563.7" width="1.1" height="1.1" fill="#1a3aa8"/><rect x="372.5" y="572.4" width="1.1" height="1.1" fill="#2244b4"/><rect x="366.3" y="566.3" width="1.1" height="1.1" fill="#2244b4"/><rect x="372.9" y="569.9" width="1.1" height="1.1" fill="#1a3aa8"/><rect x="370.8" y="565.2" width="1.1" height="1.1" fill="#5a7ad8"/><rect x="372.4" y="571.8" width="1.1" height="1.1" fill="#1a3aa8"/><rect x="368.8" y="569.2" width="1.1" height="1.1" fill="#3a5ed0"/><rect x="368.1" y="565.4" width="1.1" height="1.1" fill="#2244b4"/><rect x="365.4" y="567.3" width="1.1" height="1.1" fill="#3a5ed0"/><rect x="371.8" y="566.8" width="1.1" height="1.1" fill="#5a7ad8"/><rect x="370.3" y="567.5" width="1.1" height="1.1" fill="#1a3aa8"/><rect x="368.6" y="567.0" width="1.1" height="1.1" fill="#1a3aa8"/><rect x="370.7" y="566.9" width="1.1" height="1.1" fill="#2244b4"/><rect x="362.8" y="561.7" width="1.1" height="1.1" fill="#5a7ad8"/><rect x="372.2" y="564.6" width="1.1" height="1.1" fill="#3a5ed0"/><rect x="367.2" y="565.5" width="1.1" height="1.1" fill="#3a5ed0"/><rect x="372.6" y="564.5" width="1.1" height="1.1" fill="#2244b4"/><rect x="372.6" y="565.2" width="1.1" height="1.1" fill="#2a4ec0"/><rect x="363.5" y="565.9" width="1.1" height="1.1" fill="#3a5ed0"/><rect x="369.7" y="562.8" width="1.1" height="1.1" fill="#2244b4"/><rect x="370.3" y="571.1" width="1.1" height="1.1" fill="#1a3aa8"/><rect x="367.5" y="567.1" width="1.1" height="1.1" fill="#3a5ed0"/><rect x="368.3" y="564.9" width="1.1" height="1.1" fill="#2a4ec0"/><rect x="370.3" y="566.5" width="1.1" height="1.1" fill="#2a4ec0"/><rect x="370.7" y="568.2" width="1.1" height="1.1" fill="#2244b4"/><rect x="369.8" y="573.5" width="1.1" height="1.1" fill="#2244b4"/><rect x="365.5" y="568.5" width="1.1" height="1.1" fill="#2244b4"/><rect x="370.2" y="565.2" width="1.1" height="1.1" fill="#3a5ed0"/><rect x="361.2" y="568.5" width="1.1" height="1.1" fill="#3a5ed0"/><rect x="374.4" y="568.1" width="1.1" height="1.1" fill="#1a3aa8"/><rect x="365.2" y="572.0" width="1.1" height="1.1" fill="#5a7ad8"/><rect x="372.5" y="568.8" width="1.1" height="1.1" fill="#2244b4"/><rect x="368.9" y="568.3" width="1.1" height="1.1" fill="#5a7ad8"/><rect x="371.4" y="564.0" width="1.1" height="1.1" fill="#2244b4"/><rect x="368.7" y="572.1" width="1.1" height="1.1" fill="#2244b4"/><rect x="369.3" y="569.6" width="1.1" height="1.1" fill="#1a3aa8"/><rect x="366.8" y="566.2" width="1.1" height="1.1" fill="#3a5ed0"/><rect x="364.2" y="567.3" width="1.1" height="1.1" fill="#1a3aa8"/><rect x="366.7" y="564.8" width="1.1" height="1.1" fill="#1a3aa8"/><rect x="371.2" y="569.9" width="1.1" height="1.1" fill="#a0acea"/><rect x="368.6" y="573.3" width="1.1" height="1.1" fill="#a0acea"/><rect x="369.7" y="568.7" width="1.1" height="1.1" fill="#7a88d8"/><rect x="370.0" y="563.9" width="1.1" height="1.1" fill="#a0acea"/><rect x="369.7" y="567.2" width="1.1" height="1.1" fill="#a0acea"/><rect x="374.9" y="573.1" width="1.1" height="1.1" fill="#a0acea"/><rect x="366.6" y="569.0" width="1.1" height="1.1" fill="#6a7ad0"/><rect x="371.0" y="565.3" width="1.1" height="1.1" fill="#a0acea"/><rect x="380.5" y="563.9" width="1.1" height="1.1" fill="#7a88d8"/><rect x="365.8" y="562.9" width="1.1" height="1.1" fill="#7a88d8"/><rect x="368.1" y="563.2" width="1.1" height="1.1" fill="#6a7ad0"/><rect x="378.0" y="562.7" width="1.1" height="1.1" fill="#8898e0"/><rect x="368.1" y="573.9" width="1.1" height="1.1" fill="#a0acea"/><rect x="373.3" y="573.1" width="1.1" height="1.1" fill="#7a88d8"/><rect x="366.8" y="561.7" width="1.1" height="1.1" fill="#6a7ad0"/><rect x="369.3" y="564.1" width="1.1" height="1.1" fill="#7a88d8"/><rect x="365.2" y="567.2" width="1.1" height="1.1" fill="#8898e0"/><rect x="373.8" y="575.6" width="1.1" height="1.1" fill="#6a7ad0"/><rect x="370.0" y="568.0" width="1.1" height="1.1" fill="#8898e0"/><rect x="370.2" y="568.1" width="1.1" height="1.1" fill="#6a7ad0"/><rect x="363.7" y="569.2" width="1.1" height="1.1" fill="#a0acea"/><rect x="362.2" y="572.5" width="1.1" height="1.1" fill="#a0acea"/><rect x="369.0" y="565.9" width="1.1" height="1.1" fill="#7a88d8"/><rect x="363.9" y="572.3" width="1.1" height="1.1" fill="#a0acea"/><rect x="369.1" y="561.3" width="1.1" height="1.1" fill="#7a88d8"/><rect x="367.6" y="566.9" width="1.1" height="1.1" fill="#a0acea"/><rect x="373.5" y="572.4" width="1.1" height="1.1" fill="#a0acea"/><rect x="374.8" y="560.4" width="1.1" height="1.1" fill="#a0acea"/><rect x="376.4" y="570.4" width="1.1" height="1.1" fill="#7a88d8"/><rect x="375.8" y="574.2" width="1.1" height="1.1" fill="#a0acea"/><rect x="369.3" y="570.1" width="1.1" height="1.1" fill="#6a7ad0"/><rect x="368.4" y="564.9" width="1.1" height="1.1" fill="#6a7ad0"/><rect x="370.4" y="563.2" width="1.1" height="1.1" fill="#7a88d8"/><rect x="370.9" y="576.1" width="1.1" height="1.1" fill="#7a88d8"/><rect x="376.1" y="567.4" width="1.1" height="1.1" fill="#a0acea"/></g>
<text x="353.60" y="549.34" font-size="4.0" text-anchor="start" fill="#333">0.2</text>
<text x="386.40" y="549.34" font-size="4.0" text-anchor="end" fill="#333">74.6</text>
<text x="353.60" y="578.34" font-size="4.0" text-anchor="start" fill="#333">0.1</text>
<text x="386.40" y="578.34" font-size="4.0" text-anchor="end" fill="#333">25.1</text>
<line x1="355.20" y1="581.20" x2="355.20" y2="582.40" stroke="#bbb" stroke-width="0.6"/>
<line x1="363.00" y1="581.20" x2="363.00" y2="582.40" stroke="#bbb" stroke-width="0.6"/>
<line x1="370.20" y1="581.20" x2="370.20" y2="582.40" stroke="#bbb" stroke-width="0.6"/>
<line x1="377.20" y1="581.20" x2="377.20" y2="582.40" stroke="#bbb" stroke-width="0.6"/>
<text x="348.50" y="564.98" font-size="6.6" text-anchor="middle" fill="#222" font-weight="bold" textLength="15.5" lengthAdjust="spacingAndGlyphs" transform="rotate(-90 348.50 562.60)">CD34</text>
<rect x="409.60" y="544.60" width="35.60" height="35.40" fill="#ffffff" stroke="#555" stroke-width="1"/>
<line x1="420.40" y1="544.60" x2="420.40" y2="580.00" stroke="#777" stroke-width="0.8"/>
<line x1="409.60" y1="566.10" x2="445.20" y2="566.10" stroke="#aaa" stroke-width="0.8"/>
<g><rect x="422.0" y="570.7" width="1.1" height="1.1" fill="#1a3aa8"/><rect x="421.0" y="570.5" width="1.1" height="1.1" fill="#3a5ed0"/><rect x="428.3" y="571.8" width="1.1" height="1.1" fill="#5a7ad8"/><rect x="421.6" y="568.9" width="1.1" height="1.1" fill="#2244b4"/><rect x="426.3" y="571.8" width="1.1" height="1.1" fill="#1a3aa8"/><rect x="417.6" y="571.5" width="1.1" height="1.1" fill="#2a4ec0"/><rect x="425.1" y="567.0" width="1.1" height="1.1" fill="#3a5ed0"/><rect x="425.2" y="574.0" width="1.1" height="1.1" fill="#1a3aa8"/><rect x="425.2" y="569.9" width="1.1" height="1.1" fill="#3a5ed0"/><rect x="425.0" y="573.3" width="1.1" height="1.1" fill="#3a5ed0"/><rect x="423.5" y="571.4" width="1.1" height="1.1" fill="#3a5ed0"/><rect x="425.4" y="572.2" width="1.1" height="1.1" fill="#1a3aa8"/><rect x="423.2" y="568.6" width="1.1" height="1.1" fill="#2244b4"/><rect x="421.2" y="567.3" width="1.1" height="1.1" fill="#5a7ad8"/><rect x="416.5" y="569.8" width="1.1" height="1.1" fill="#2244b4"/><rect x="423.8" y="573.7" width="1.1" height="1.1" fill="#2a4ec0"/><rect x="424.2" y="569.7" width="1.1" height="1.1" fill="#5a7ad8"/><rect x="422.5" y="568.0" width="1.1" height="1.1" fill="#3a5ed0"/><rect x="422.0" y="569.0" width="1.1" height="1.1" fill="#2244b4"/><rect x="419.3" y="572.9" width="1.1" height="1.1" fill="#2244b4"/><rect x="427.3" y="575.0" width="1.1" height="1.1" fill="#5a7ad8"/><rect x="421.5" y="574.4" width="1.1" height="1.1" fill="#1a3aa8"/><rect x="423.3" y="569.0" width="1.1" height="1.1" fill="#2244b4"/><rect x="423.2" y="570.6" width="1.1" height="1.1" fill="#5a7ad8"/><rect x="424.3" y="568.9" width="1.1" height="1.1" fill="#2a4ec0"/><rect x="426.9" y="573.3" width="1.1" height="1.1" fill="#1a3aa8"/><rect x="430.8" y="570.4" width="1.1" height="1.1" fill="#3a5ed0"/><rect x="427.0" y="572.3" width="1.1" height="1.1" fill="#3a5ed0"/><rect x="417.8" y="571.0" width="1.1" height="1.1" fill="#2a4ec0"/><rect x="425.3" y="571.2" width="1.1" height="1.1" fill="#2a4ec0"/><rect x="422.7" y="572.7" width="1.1" height="1.1" fill="#1a3aa8"/><rect x="426.4" y="573.0" width="1.1" height="1.1" fill="#5a7ad8"/><rect x="421.8" y="574.1" width="1.1" height="1.1" fill="#2a4ec0"/><rect x="426.9" y="571.6" width="1.1" height="1.1" fill="#3a5ed0"/><rect x="426.6" y="570.0" width="1.1" height="1.1" fill="#5a7ad8"/><rect x="423.5" y="572.3" width="1.1" height="1.1" fill="#3a5ed0"/><rect x="426.3" y="566.3" width="1.1" height="1.1" fill="#3a5ed0"/><rect x="420.5" y="565.8" width="1.1" height="1.1" fill="#5a7ad8"/><rect x="426.4" y="568.7" width="1.1" height="1.1" fill="#1a3aa8"/><rect x="422.5" y="573.7" width="1.1" height="1.1" fill="#5a7ad8"/><rect x="422.2" y="572.1" width="1.1" height="1.1" fill="#1a3aa8"/><rect x="418.6" y="570.8" width="1.1" height="1.1" fill="#5a7ad8"/><rect x="420.0" y="568.5" width="1.1" height="1.1" fill="#1a3aa8"/><rect x="429.2" y="569.4" width="1.1" height="1.1" fill="#3a5ed0"/><rect x="423.3" y="571.2" width="1.1" height="1.1" fill="#1a3aa8"/><rect x="427.4" y="569.1" width="1.1" height="1.1" fill="#2244b4"/><rect x="421.9" y="573.2" width="1.1" height="1.1" fill="#5a7ad8"/><rect x="429.3" y="570.5" width="1.1" height="1.1" fill="#1a3aa8"/><rect x="420.6" y="570.5" width="1.1" height="1.1" fill="#5a7ad8"/><rect x="423.3" y="568.8" width="1.1" height="1.1" fill="#3a5ed0"/><rect x="422.9" y="567.4" width="1.1" height="1.1" fill="#1a3aa8"/><rect x="425.7" y="571.2" width="1.1" height="1.1" fill="#2244b4"/><rect x="418.3" y="565.3" width="1.1" height="1.1" fill="#2244b4"/><rect x="427.1" y="567.2" width="1.1" height="1.1" fill="#1a3aa8"/><rect x="424.7" y="572.5" width="1.1" height="1.1" fill="#3a5ed0"/><rect x="419.7" y="573.0" width="1.1" height="1.1" fill="#a0acea"/><rect x="423.8" y="572.8" width="1.1" height="1.1" fill="#6a7ad0"/><rect x="425.3" y="573.5" width="1.1" height="1.1" fill="#8898e0"/><rect x="423.8" y="570.8" width="1.1" height="1.1" fill="#6a7ad0"/><rect x="426.8" y="568.8" width="1.1" height="1.1" fill="#8898e0"/><rect x="416.6" y="567.7" width="1.1" height="1.1" fill="#7a88d8"/><rect x="421.8" y="568.2" width="1.1" height="1.1" fill="#a0acea"/><rect x="423.4" y="568.2" width="1.1" height="1.1" fill="#7a88d8"/><rect x="428.5" y="573.5" width="1.1" height="1.1" fill="#7a88d8"/><rect x="422.1" y="570.7" width="1.1" height="1.1" fill="#6a7ad0"/><rect x="423.8" y="570.3" width="1.1" height="1.1" fill="#6a7ad0"/><rect x="421.1" y="571.0" width="1.1" height="1.1" fill="#8898e0"/><rect x="425.6" y="571.3" width="1.1" height="1.1" fill="#6a7ad0"/><rect x="425.1" y="567.7" width="1.1" height="1.1" fill="#8898e0"/><rect x="423.1" y="573.2" width="1.1" height="1.1" fill="#7a88d8"/><rect x="417.1" y="567.3" width="1.1" height="1.1" fill="#7a88d8"/><rect x="415.9" y="568.8" width="1.1" height="1.1" fill="#7a88d8"/><rect x="418.4" y="572.6" width="1.1" height="1.1" fill="#7a88d8"/><rect x="430.0" y="570.1" width="1.1" height="1.1" fill="#8898e0"/><rect x="426.6" y="568.0" width="1.1" height="1.1" fill="#8898e0"/><rect x="424.0" y="567.7" width="1.1" height="1.1" fill="#7a88d8"/><rect x="419.4" y="571.1" width="1.1" height="1.1" fill="#6a7ad0"/><rect x="424.3" y="573.7" width="1.1" height="1.1" fill="#6a7ad0"/><rect x="424.8" y="569.9" width="1.1" height="1.1" fill="#8898e0"/><rect x="415.1" y="565.8" width="1.1" height="1.1" fill="#a0acea"/><rect x="428.3" y="574.1" width="1.1" height="1.1" fill="#8898e0"/><rect x="423.5" y="570.1" width="1.1" height="1.1" fill="#8898e0"/><rect x="424.4" y="569.5" width="1.1" height="1.1" fill="#a0acea"/><rect x="432.2" y="570.7" width="1.1" height="1.1" fill="#a0acea"/></g>
<text x="411.00" y="549.34" font-size="4.0" text-anchor="start" fill="#333">0.0</text>
<text x="443.80" y="549.34" font-size="4.0" text-anchor="end" fill="#333">2.0</text>
<text x="411.00" y="578.34" font-size="4.0" text-anchor="start" fill="#333">0.0</text>
<text x="443.80" y="578.34" font-size="4.0" text-anchor="end" fill="#333">98.0</text>
<line x1="412.60" y1="581.20" x2="412.60" y2="582.40" stroke="#bbb" stroke-width="0.6"/>
<line x1="420.40" y1="581.20" x2="420.40" y2="582.40" stroke="#bbb" stroke-width="0.6"/>
<line x1="427.60" y1="581.20" x2="427.60" y2="582.40" stroke="#bbb" stroke-width="0.6"/>
<line x1="434.60" y1="581.20" x2="434.60" y2="582.40" stroke="#bbb" stroke-width="0.6"/>
<text x="405.90" y="564.98" font-size="6.6" text-anchor="middle" fill="#222" font-weight="bold" textLength="21" lengthAdjust="spacingAndGlyphs" transform="rotate(-90 405.90 562.60)">Ter119</text>
<rect x="467.00" y="544.60" width="35.60" height="35.40" fill="#ffffff" stroke="#555" stroke-width="1"/>
<line x1="477.80" y1="544.60" x2="477.80" y2="580.00" stroke="#777" stroke-width="0.8"/>
<line x1="467.00" y1="570.00" x2="502.60" y2="570.00" stroke="#aaa" stroke-width="0.8"/>
<g><rect x="481.6" y="574.2" width="1.1" height="1.1" fill="#2244b4"/><rect x="483.2" y="576.2" width="1.1" height="1.1" fill="#1a3aa8"/><rect x="481.2" y="577.8" width="1.1" height="1.1" fill="#1a3aa8"/><rect x="481.8" y="575.2" width="1.1" height="1.1" fill="#3a5ed0"/><rect x="480.9" y="575.3" width="1.1" height="1.1" fill="#1a3aa8"/><rect x="482.9" y="576.9" width="1.1" height="1.1" fill="#1a3aa8"/><rect x="481.5" y="577.4" width="1.1" height="1.1" fill="#2a4ec0"/><rect x="476.2" y="574.6" width="1.1" height="1.1" fill="#3a5ed0"/><rect x="479.6" y="576.9" width="1.1" height="1.1" fill="#3a5ed0"/><rect x="482.8" y="575.5" width="1.1" height="1.1" fill="#2244b4"/><rect x="482.9" y="575.1" width="1.1" height="1.1" fill="#1a3aa8"/><rect x="485.5" y="576.8" width="1.1" height="1.1" fill="#2a4ec0"/><rect x="480.4" y="576.9" width="1.1" height="1.1" fill="#5a7ad8"/><rect x="480.9" y="575.5" width="1.1" height="1.1" fill="#3a5ed0"/><rect x="481.1" y="577.9" width="1.1" height="1.1" fill="#2a4ec0"/><rect x="478.1" y="571.6" width="1.1" height="1.1" fill="#2244b4"/><rect x="484.2" y="578.4" width="1.1" height="1.1" fill="#1a3aa8"/><rect x="484.6" y="576.0" width="1.1" height="1.1" fill="#2a4ec0"/><rect x="487.0" y="573.6" width="1.1" height="1.1" fill="#3a5ed0"/><rect x="483.5" y="575.4" width="1.1" height="1.1" fill="#3a5ed0"/><rect x="481.7" y="573.7" width="1.1" height="1.1" fill="#3a5ed0"/><rect x="486.5" y="576.6" width="1.1" height="1.1" fill="#1a3aa8"/><rect x="482.2" y="574.9" width="1.1" height="1.1" fill="#2244b4"/><rect x="478.5" y="574.8" width="1.1" height="1.1" fill="#5a7ad8"/><rect x="486.7" y="573.5" width="1.1" height="1.1" fill="#5a7ad8"/><rect x="484.5" y="573.6" width="1.1" height="1.1" fill="#3a5ed0"/><rect x="481.0" y="578.5" width="1.1" height="1.1" fill="#2244b4"/><rect x="481.4" y="574.5" width="1.1" height="1.1" fill="#2244b4"/><rect x="481.7" y="578.8" width="1.1" height="1.1" fill="#2244b4"/><rect x="477.7" y="575.0" width="1.1" height="1.1" fill="#1a3aa8"/><rect x="484.9" y="573.4" width="1.1" height="1.1" fill="#3a5ed0"/><rect x="479.9" y="575.4" width="1.1" height="1.1" fill="#3a5ed0"/><rect x="478.8" y="575.0" width="1.1" height="1.1" fill="#2a4ec0"/><rect x="480.9" y="577.7" width="1.1" height="1.1" fill="#3a5ed0"/><rect x="479.4" y="574.9" width="1.1" height="1.1" fill="#2a4ec0"/><rect x="481.3" y="576.8" width="1.1" height="1.1" fill="#2244b4"/><rect x="487.5" y="574.6" width="1.1" height="1.1" fill="#2a4ec0"/><rect x="484.9" y="574.3" width="1.1" height="1.1" fill="#1a3aa8"/><rect x="480.8" y="575.3" width="1.1" height="1.1" fill="#2244b4"/><rect x="485.3" y="572.2" width="1.1" height="1.1" fill="#5a7ad8"/><rect x="479.0" y="573.0" width="1.1" height="1.1" fill="#1a3aa8"/><rect x="477.6" y="575.6" width="1.1" height="1.1" fill="#5a7ad8"/><rect x="481.3" y="574.4" width="1.1" height="1.1" fill="#5a7ad8"/><rect x="475.2" y="576.6" width="1.1" height="1.1" fill="#1a3aa8"/><rect x="483.8" y="574.5" width="1.1" height="1.1" fill="#1a3aa8"/><rect x="485.4" y="575.3" width="1.1" height="1.1" fill="#2244b4"/><rect x="481.0" y="573.7" width="1.1" height="1.1" fill="#3a5ed0"/><rect x="478.3" y="578.2" width="1.1" height="1.1" fill="#a0acea"/><rect x="488.5" y="572.2" width="1.1" height="1.1" fill="#a0acea"/><rect x="484.0" y="572.4" width="1.1" height="1.1" fill="#a0acea"/><rect x="485.2" y="578.3" width="1.1" height="1.1" fill="#a0acea"/><rect x="479.7" y="572.2" width="1.1" height="1.1" fill="#8898e0"/><rect x="483.6" y="573.4" width="1.1" height="1.1" fill="#7a88d8"/><rect x="483.8" y="574.2" width="1.1" height="1.1" fill="#6a7ad0"/><rect x="480.2" y="570.3" width="1.1" height="1.1" fill="#6a7ad0"/><rect x="481.2" y="575.2" width="1.1" height="1.1" fill="#6a7ad0"/><rect x="483.4" y="576.2" width="1.1" height="1.1" fill="#7a88d8"/><rect x="484.8" y="573.3" width="1.1" height="1.1" fill="#6a7ad0"/><rect x="481.3" y="575.4" width="1.1" height="1.1" fill="#7a88d8"/><rect x="483.4" y="576.8" width="1.1" height="1.1" fill="#7a88d8"/><rect x="482.5" y="575.1" width="1.1" height="1.1" fill="#7a88d8"/><rect x="482.3" y="572.5" width="1.1" height="1.1" fill="#8898e0"/><rect x="482.5" y="572.8" width="1.1" height="1.1" fill="#8898e0"/><rect x="485.0" y="577.5" width="1.1" height="1.1" fill="#a0acea"/><rect x="483.0" y="575.4" width="1.1" height="1.1" fill="#a0acea"/><rect x="482.1" y="576.1" width="1.1" height="1.1" fill="#6a7ad0"/><rect x="488.0" y="573.3" width="1.1" height="1.1" fill="#8898e0"/><rect x="480.8" y="574.0" width="1.1" height="1.1" fill="#8898e0"/><rect x="487.9" y="573.2" width="1.1" height="1.1" fill="#7a88d8"/><rect x="479.4" y="575.0" width="1.1" height="1.1" fill="#6a7ad0"/><rect x="480.5" y="576.1" width="1.1" height="1.1" fill="#7a88d8"/><rect x="480.5" y="574.0" width="1.1" height="1.1" fill="#6a7ad0"/></g>
<text x="468.40" y="549.34" font-size="4.0" text-anchor="start" fill="#333">0.0</text>
<text x="501.20" y="549.34" font-size="4.0" text-anchor="end" fill="#333">2.5</text>
<text x="468.40" y="578.34" font-size="4.0" text-anchor="start" fill="#333">0.0</text>
<text x="501.20" y="578.34" font-size="4.0" text-anchor="end" fill="#333">97.5</text>
<line x1="470.00" y1="581.20" x2="470.00" y2="582.40" stroke="#bbb" stroke-width="0.6"/>
<line x1="477.80" y1="581.20" x2="477.80" y2="582.40" stroke="#bbb" stroke-width="0.6"/>
<line x1="485.00" y1="581.20" x2="485.00" y2="582.40" stroke="#bbb" stroke-width="0.6"/>
<line x1="492.00" y1="581.20" x2="492.00" y2="582.40" stroke="#bbb" stroke-width="0.6"/>
<text x="462.40" y="564.98" font-size="6.6" text-anchor="middle" fill="#222" font-weight="bold" textLength="15.5" lengthAdjust="spacingAndGlyphs" transform="rotate(-90 462.40 562.60)">CD14</text>
<line x1="292.70" y1="590.50" x2="497.00" y2="590.50" stroke="#111" stroke-width="1.4"/>
<path d="M502,590.5 L495.5,587.6 L495.5,593.4 Z" fill="#111"/>
<text x="398.70" y="598.53" font-size="6.2" text-anchor="middle" fill="#222" font-weight="bold" textLength="42" lengthAdjust="spacingAndGlyphs">GFP/ BCR-ABL</text>
</svg></body></html>
